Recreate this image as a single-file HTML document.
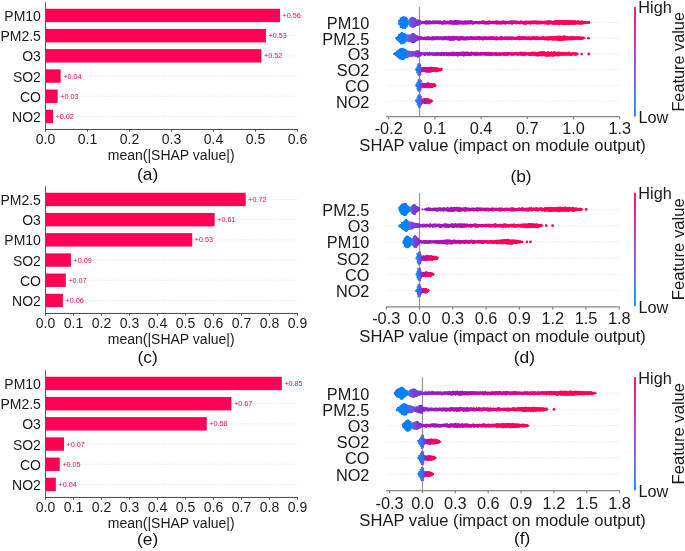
<!DOCTYPE html>
<html><head><meta charset="utf-8"><title>SHAP figure</title>
<style>html,body{margin:0;padding:0;background:#fff;width:685px;height:551px;overflow:hidden;}
svg text{font-family:"Liberation Sans", sans-serif;} svg{will-change:transform;}</style></head>
<body>
<svg width="685" height="551" viewBox="0 0 685 551" style="position:absolute;left:0;top:0" font-family='"Liberation Sans", sans-serif'><defs><linearGradient id="cb2" x1="0" y1="1" x2="0" y2="0"><stop offset="0" stop-color="#1e8cf8"/><stop offset="0.2" stop-color="#4a7cf0"/><stop offset="0.4" stop-color="#8a58dc"/><stop offset="0.6" stop-color="#b83cc0"/><stop offset="0.8" stop-color="#e0208f"/><stop offset="1" stop-color="#fa1460"/></linearGradient><linearGradient id="g3" gradientUnits="userSpaceOnUse" x1="398.6" y1="0" x2="590.5" y2="0"><stop offset="0.0000" stop-color="#0080ff"/><stop offset="0.0469" stop-color="#0080ff"/><stop offset="0.0521" stop-color="#4680f5"/><stop offset="0.0594" stop-color="#5a5feb"/><stop offset="0.0803" stop-color="#7642da"/><stop offset="0.1063" stop-color="#8730d0"/><stop offset="0.1324" stop-color="#961cc6"/><stop offset="0.2871" stop-color="#a810bc"/><stop offset="0.4653" stop-color="#c604a5"/><stop offset="0.5990" stop-color="#e10088"/><stop offset="0.7327" stop-color="#f70066"/><stop offset="0.8663" stop-color="#ff0056"/><stop offset="1.0000" stop-color="#ff0052"/></linearGradient><linearGradient id="g4" gradientUnits="userSpaceOnUse" x1="395.8" y1="0" x2="585.8" y2="0"><stop offset="0.0000" stop-color="#0080ff"/><stop offset="0.0526" stop-color="#0080ff"/><stop offset="0.0589" stop-color="#506ef0"/><stop offset="0.0747" stop-color="#6e4be1"/><stop offset="0.0958" stop-color="#7d3cd7"/><stop offset="0.1168" stop-color="#8c28cd"/><stop offset="0.1432" stop-color="#9e16c3"/><stop offset="0.2998" stop-color="#a810bc"/><stop offset="0.4748" stop-color="#c604a5"/><stop offset="0.6061" stop-color="#e10088"/><stop offset="0.7374" stop-color="#f70066"/><stop offset="0.8687" stop-color="#ff0056"/><stop offset="1.0000" stop-color="#ff0052"/></linearGradient><linearGradient id="g5" gradientUnits="userSpaceOnUse" x1="394.0" y1="0" x2="579.3" y2="0"><stop offset="0.0000" stop-color="#0080ff"/><stop offset="0.0637" stop-color="#0080ff"/><stop offset="0.0756" stop-color="#5a64eb"/><stop offset="0.0971" stop-color="#7346de"/><stop offset="0.1241" stop-color="#8732d2"/><stop offset="0.1511" stop-color="#961ec8"/><stop offset="0.3101" stop-color="#a810bc"/><stop offset="0.4826" stop-color="#c604a5"/><stop offset="0.6119" stop-color="#e10088"/><stop offset="0.7413" stop-color="#f70066"/><stop offset="0.8706" stop-color="#ff0056"/><stop offset="1.0000" stop-color="#ff0052"/></linearGradient><linearGradient id="g6" gradientUnits="userSpaceOnUse" x1="415.5" y1="0" x2="442.6" y2="0"><stop offset="0.0000" stop-color="#1480fa"/><stop offset="0.1328" stop-color="#1e7dfa"/><stop offset="0.2030" stop-color="#7d3ed7"/><stop offset="0.3026" stop-color="#af0fb4"/><stop offset="0.5352" stop-color="#e40082"/><stop offset="0.7042" stop-color="#fc005f"/><stop offset="1.0000" stop-color="#ff0052"/></linearGradient><linearGradient id="g7" gradientUnits="userSpaceOnUse" x1="415.7" y1="0" x2="436.8" y2="0"><stop offset="0.0000" stop-color="#1480fa"/><stop offset="0.1611" stop-color="#1e7dfa"/><stop offset="0.2512" stop-color="#7d3ed7"/><stop offset="0.3791" stop-color="#af0fb4"/><stop offset="0.5543" stop-color="#e40082"/><stop offset="0.7164" stop-color="#fc005f"/><stop offset="1.0000" stop-color="#ff0052"/></linearGradient><linearGradient id="g8" gradientUnits="userSpaceOnUse" x1="415.7" y1="0" x2="433.1" y2="0"><stop offset="0.0000" stop-color="#1480fa"/><stop offset="0.1954" stop-color="#1e7dfa"/><stop offset="0.3046" stop-color="#7d3ed7"/><stop offset="0.4598" stop-color="#af0fb4"/><stop offset="0.5764" stop-color="#e40082"/><stop offset="0.7305" stop-color="#fc005f"/><stop offset="1.0000" stop-color="#ff0052"/></linearGradient><linearGradient id="cb10" x1="0" y1="1" x2="0" y2="0"><stop offset="0" stop-color="#1e8cf8"/><stop offset="0.2" stop-color="#4a7cf0"/><stop offset="0.4" stop-color="#8a58dc"/><stop offset="0.6" stop-color="#b83cc0"/><stop offset="0.8" stop-color="#e0208f"/><stop offset="1" stop-color="#fa1460"/></linearGradient><linearGradient id="g11" gradientUnits="userSpaceOnUse" x1="398.8" y1="0" x2="420.3" y2="0"><stop offset="0.0000" stop-color="#0080ff"/><stop offset="0.4744" stop-color="#0080ff"/><stop offset="0.5349" stop-color="#4682f5"/><stop offset="0.6140" stop-color="#6450e4"/><stop offset="0.7070" stop-color="#7d3cd7"/><stop offset="0.8930" stop-color="#8732d2"/><stop offset="1.0000" stop-color="#8c2dce"/></linearGradient><linearGradient id="g12" gradientUnits="userSpaceOnUse" x1="424.6" y1="0" x2="583.5" y2="0"><stop offset="0.0000" stop-color="#9b19c3"/><stop offset="0.1743" stop-color="#a810bc"/><stop offset="0.3807" stop-color="#c604a5"/><stop offset="0.5356" stop-color="#e10088"/><stop offset="0.6904" stop-color="#f70066"/><stop offset="0.8452" stop-color="#ff0056"/><stop offset="1.0000" stop-color="#ff0052"/></linearGradient><linearGradient id="g13" gradientUnits="userSpaceOnUse" x1="398.8" y1="0" x2="543.6" y2="0"><stop offset="0.0000" stop-color="#0080ff"/><stop offset="0.0601" stop-color="#0080ff"/><stop offset="0.0704" stop-color="#506ef0"/><stop offset="0.0912" stop-color="#6e4be1"/><stop offset="0.1188" stop-color="#8237d4"/><stop offset="0.1464" stop-color="#961ec8"/><stop offset="0.3144" stop-color="#a810bc"/><stop offset="0.4858" stop-color="#c604a5"/><stop offset="0.6143" stop-color="#e10088"/><stop offset="0.7429" stop-color="#f70066"/><stop offset="0.8714" stop-color="#ff0056"/><stop offset="1.0000" stop-color="#ff0052"/></linearGradient><linearGradient id="g14" gradientUnits="userSpaceOnUse" x1="402.8" y1="0" x2="523.7" y2="0"><stop offset="0.0000" stop-color="#0080ff"/><stop offset="0.0678" stop-color="#0080ff"/><stop offset="0.0802" stop-color="#506ef0"/><stop offset="0.0968" stop-color="#7346de"/><stop offset="0.1175" stop-color="#8c2dcd"/><stop offset="0.1423" stop-color="#9b19c3"/><stop offset="0.3105" stop-color="#a810bc"/><stop offset="0.4829" stop-color="#c604a5"/><stop offset="0.6122" stop-color="#e10088"/><stop offset="0.7414" stop-color="#f70066"/><stop offset="0.8707" stop-color="#ff0056"/><stop offset="1.0000" stop-color="#ff0052"/></linearGradient><linearGradient id="g15" gradientUnits="userSpaceOnUse" x1="415.9" y1="0" x2="438.9" y2="0"><stop offset="0.0000" stop-color="#1480fa"/><stop offset="0.1304" stop-color="#1e7dfa"/><stop offset="0.2130" stop-color="#7d3ed7"/><stop offset="0.3304" stop-color="#af0fb4"/><stop offset="0.5361" stop-color="#e40082"/><stop offset="0.7048" stop-color="#fc005f"/><stop offset="1.0000" stop-color="#ff0052"/></linearGradient><linearGradient id="g16" gradientUnits="userSpaceOnUse" x1="415.7" y1="0" x2="434.7" y2="0"><stop offset="0.0000" stop-color="#1480fa"/><stop offset="0.1684" stop-color="#1e7dfa"/><stop offset="0.2684" stop-color="#7d3ed7"/><stop offset="0.4105" stop-color="#af0fb4"/><stop offset="0.5600" stop-color="#e40082"/><stop offset="0.7200" stop-color="#fc005f"/><stop offset="1.0000" stop-color="#ff0052"/></linearGradient><linearGradient id="g17" gradientUnits="userSpaceOnUse" x1="415.7" y1="0" x2="430.0" y2="0"><stop offset="0.0000" stop-color="#1480fa"/><stop offset="0.2238" stop-color="#1e7dfa"/><stop offset="0.3566" stop-color="#7d3ed7"/><stop offset="0.5455" stop-color="#af0fb4"/><stop offset="0.5962" stop-color="#e40082"/><stop offset="0.7430" stop-color="#fc005f"/><stop offset="1.0000" stop-color="#ff0052"/></linearGradient><linearGradient id="cb19" x1="0" y1="1" x2="0" y2="0"><stop offset="0" stop-color="#1e8cf8"/><stop offset="0.2" stop-color="#4a7cf0"/><stop offset="0.4" stop-color="#8a58dc"/><stop offset="0.6" stop-color="#b83cc0"/><stop offset="0.8" stop-color="#e0208f"/><stop offset="1" stop-color="#fa1460"/></linearGradient><linearGradient id="g20" gradientUnits="userSpaceOnUse" x1="394.2" y1="0" x2="596.7" y2="0"><stop offset="0.0000" stop-color="#0080ff"/><stop offset="0.0657" stop-color="#0080ff"/><stop offset="0.0706" stop-color="#3c78f0"/><stop offset="0.0780" stop-color="#555fe8"/><stop offset="0.1027" stop-color="#783cd7"/><stop offset="0.1225" stop-color="#8232d2"/><stop offset="0.1472" stop-color="#961ec8"/><stop offset="0.3118" stop-color="#a810bc"/><stop offset="0.4839" stop-color="#c604a5"/><stop offset="0.6129" stop-color="#e10088"/><stop offset="0.7419" stop-color="#f70066"/><stop offset="0.8710" stop-color="#ff0056"/><stop offset="1.0000" stop-color="#ff0052"/></linearGradient><linearGradient id="g21" gradientUnits="userSpaceOnUse" x1="396.3" y1="0" x2="548.8" y2="0"><stop offset="0.0000" stop-color="#0080ff"/><stop offset="0.0721" stop-color="#0080ff"/><stop offset="0.0800" stop-color="#555fe8"/><stop offset="0.1095" stop-color="#6455e4"/><stop offset="0.1292" stop-color="#783cd7"/><stop offset="0.1554" stop-color="#872dcd"/><stop offset="0.1816" stop-color="#961ec8"/><stop offset="0.3374" stop-color="#a810bc"/><stop offset="0.5031" stop-color="#c604a5"/><stop offset="0.6273" stop-color="#e10088"/><stop offset="0.7515" stop-color="#f70066"/><stop offset="0.8758" stop-color="#ff0056"/><stop offset="1.0000" stop-color="#ff0052"/></linearGradient><linearGradient id="g22" gradientUnits="userSpaceOnUse" x1="402.1" y1="0" x2="529.6" y2="0"><stop offset="0.0000" stop-color="#0080ff"/><stop offset="0.0698" stop-color="#0080ff"/><stop offset="0.0776" stop-color="#4673f0"/><stop offset="0.1012" stop-color="#6e4bde"/><stop offset="0.1325" stop-color="#8c2dcd"/><stop offset="0.1718" stop-color="#a50fbe"/><stop offset="0.3280" stop-color="#a810bc"/><stop offset="0.4960" stop-color="#c604a5"/><stop offset="0.6220" stop-color="#e10088"/><stop offset="0.7480" stop-color="#f70066"/><stop offset="0.8740" stop-color="#ff0056"/><stop offset="1.0000" stop-color="#ff0052"/></linearGradient><linearGradient id="g23" gradientUnits="userSpaceOnUse" x1="418.0" y1="0" x2="441.4" y2="0"><stop offset="0.0000" stop-color="#1480fa"/><stop offset="0.1667" stop-color="#1e7dfa"/><stop offset="0.2479" stop-color="#7d3ed7"/><stop offset="0.3632" stop-color="#af0fb4"/><stop offset="0.5558" stop-color="#e40082"/><stop offset="0.7173" stop-color="#fc005f"/><stop offset="1.0000" stop-color="#ff0052"/></linearGradient><linearGradient id="g24" gradientUnits="userSpaceOnUse" x1="418.0" y1="0" x2="436.7" y2="0"><stop offset="0.0000" stop-color="#1480fa"/><stop offset="0.2086" stop-color="#1e7dfa"/><stop offset="0.3102" stop-color="#7d3ed7"/><stop offset="0.4545" stop-color="#af0fb4"/><stop offset="0.5824" stop-color="#e40082"/><stop offset="0.7342" stop-color="#fc005f"/><stop offset="1.0000" stop-color="#ff0052"/></linearGradient><linearGradient id="g25" gradientUnits="userSpaceOnUse" x1="417.9" y1="0" x2="433.9" y2="0"><stop offset="0.0000" stop-color="#1480fa"/><stop offset="0.2500" stop-color="#1e7dfa"/><stop offset="0.3688" stop-color="#7d3ed7"/><stop offset="0.5375" stop-color="#af0fb4"/><stop offset="0.6081" stop-color="#e40082"/><stop offset="0.7506" stop-color="#fc005f"/><stop offset="1.0000" stop-color="#ff0052"/></linearGradient></defs><line x1="45.50" y1="15.45" x2="297.50" y2="15.45" stroke="#d4d4d4" stroke-width="0.8" stroke-dasharray="0.7 1.05"/>
<line x1="45.50" y1="35.65" x2="297.50" y2="35.65" stroke="#d4d4d4" stroke-width="0.8" stroke-dasharray="0.7 1.05"/>
<line x1="45.50" y1="55.85" x2="297.50" y2="55.85" stroke="#d4d4d4" stroke-width="0.8" stroke-dasharray="0.7 1.05"/>
<line x1="45.50" y1="76.05" x2="297.50" y2="76.05" stroke="#d4d4d4" stroke-width="0.8" stroke-dasharray="0.7 1.05"/>
<line x1="45.50" y1="96.25" x2="297.50" y2="96.25" stroke="#d4d4d4" stroke-width="0.8" stroke-dasharray="0.7 1.05"/>
<line x1="45.50" y1="116.45" x2="297.50" y2="116.45" stroke="#d4d4d4" stroke-width="0.8" stroke-dasharray="0.7 1.05"/>
<rect x="45.50" y="8.75" width="234.49" height="13.4" fill="#ff0052"/>
<text x="282.59" y="17.95" font-size="7.2" text-anchor="start" fill="#ff0052" >+0.56</text>
<text x="40.90" y="20.95" font-size="14" text-anchor="end" fill="#1a1a1a" >PM10</text>
<rect x="45.50" y="28.95" width="220.42" height="13.4" fill="#ff0052"/>
<text x="268.52" y="38.15" font-size="7.2" text-anchor="start" fill="#ff0052" >+0.53</text>
<text x="40.90" y="41.15" font-size="14" text-anchor="end" fill="#1a1a1a" >PM2.5</text>
<rect x="45.50" y="49.15" width="215.88" height="13.4" fill="#ff0052"/>
<text x="263.98" y="58.35" font-size="7.2" text-anchor="start" fill="#ff0052" >+0.52</text>
<text x="40.90" y="61.35" font-size="14" text-anchor="end" fill="#1a1a1a" >O3</text>
<rect x="45.50" y="69.35" width="15.12" height="13.4" fill="#ff0052"/>
<text x="63.22" y="78.55" font-size="7.2" text-anchor="start" fill="#ff0052" >+0.04</text>
<text x="40.90" y="81.55" font-size="14" text-anchor="end" fill="#1a1a1a" >SO2</text>
<rect x="45.50" y="89.55" width="12.18" height="13.4" fill="#ff0052"/>
<text x="60.28" y="98.75" font-size="7.2" text-anchor="start" fill="#ff0052" >+0.03</text>
<text x="40.90" y="101.75" font-size="14" text-anchor="end" fill="#1a1a1a" >CO</text>
<rect x="45.50" y="109.75" width="7.56" height="13.4" fill="#ff0052"/>
<text x="55.66" y="118.95" font-size="7.2" text-anchor="start" fill="#ff0052" >+0.02</text>
<text x="40.90" y="121.95" font-size="14" text-anchor="end" fill="#1a1a1a" >NO2</text>
<line x1="45.50" y1="2.20" x2="45.50" y2="129.95" stroke="#5a5a5a" stroke-width="1" />
<line x1="45.00" y1="129.45" x2="298.00" y2="129.45" stroke="#444" stroke-width="1" />
<line x1="45.50" y1="129.45" x2="45.50" y2="131.75" stroke="#444" stroke-width="0.9" />
<text x="45.50" y="143.65" font-size="14" text-anchor="middle" fill="#1a1a1a" >0.0</text>
<line x1="87.50" y1="129.45" x2="87.50" y2="131.75" stroke="#444" stroke-width="0.9" />
<text x="87.50" y="143.65" font-size="14" text-anchor="middle" fill="#1a1a1a" >0.1</text>
<line x1="129.50" y1="129.45" x2="129.50" y2="131.75" stroke="#444" stroke-width="0.9" />
<text x="129.50" y="143.65" font-size="14" text-anchor="middle" fill="#1a1a1a" >0.2</text>
<line x1="171.50" y1="129.45" x2="171.50" y2="131.75" stroke="#444" stroke-width="0.9" />
<text x="171.50" y="143.65" font-size="14" text-anchor="middle" fill="#1a1a1a" >0.3</text>
<line x1="213.50" y1="129.45" x2="213.50" y2="131.75" stroke="#444" stroke-width="0.9" />
<text x="213.50" y="143.65" font-size="14" text-anchor="middle" fill="#1a1a1a" >0.4</text>
<line x1="255.50" y1="129.45" x2="255.50" y2="131.75" stroke="#444" stroke-width="0.9" />
<text x="255.50" y="143.65" font-size="14" text-anchor="middle" fill="#1a1a1a" >0.5</text>
<line x1="297.50" y1="129.45" x2="297.50" y2="131.75" stroke="#444" stroke-width="0.9" />
<text x="297.50" y="143.65" font-size="14" text-anchor="middle" fill="#1a1a1a" >0.6</text>
<text x="171.20" y="159.65" font-size="14" text-anchor="middle" fill="#1a1a1a" >mean(|SHAP value|)</text>
<text transform="translate(147.70,179.95) scale(1.06,1.0)" font-size="16.4" text-anchor="middle" fill="#111" >(a)</text>
<line x1="45.50" y1="199.45" x2="297.50" y2="199.45" stroke="#d4d4d4" stroke-width="0.8" stroke-dasharray="0.7 1.05"/>
<line x1="45.50" y1="219.65" x2="297.50" y2="219.65" stroke="#d4d4d4" stroke-width="0.8" stroke-dasharray="0.7 1.05"/>
<line x1="45.50" y1="239.85" x2="297.50" y2="239.85" stroke="#d4d4d4" stroke-width="0.8" stroke-dasharray="0.7 1.05"/>
<line x1="45.50" y1="260.05" x2="297.50" y2="260.05" stroke="#d4d4d4" stroke-width="0.8" stroke-dasharray="0.7 1.05"/>
<line x1="45.50" y1="280.25" x2="297.50" y2="280.25" stroke="#d4d4d4" stroke-width="0.8" stroke-dasharray="0.7 1.05"/>
<line x1="45.50" y1="300.45" x2="297.50" y2="300.45" stroke="#d4d4d4" stroke-width="0.8" stroke-dasharray="0.7 1.05"/>
<rect x="45.50" y="192.75" width="200.20" height="13.4" fill="#ff0052"/>
<text x="248.30" y="201.95" font-size="7.2" text-anchor="start" fill="#ff0052" >+0.72</text>
<text x="40.90" y="204.95" font-size="14" text-anchor="end" fill="#1a1a1a" >PM2.5</text>
<rect x="45.50" y="212.95" width="169.12" height="13.4" fill="#ff0052"/>
<text x="217.22" y="222.15" font-size="7.2" text-anchor="start" fill="#ff0052" >+0.61</text>
<text x="40.90" y="225.15" font-size="14" text-anchor="end" fill="#1a1a1a" >O3</text>
<rect x="45.50" y="233.15" width="146.72" height="13.4" fill="#ff0052"/>
<text x="194.82" y="242.35" font-size="7.2" text-anchor="start" fill="#ff0052" >+0.53</text>
<text x="40.90" y="245.35" font-size="14" text-anchor="end" fill="#1a1a1a" >PM10</text>
<rect x="45.50" y="253.35" width="25.40" height="13.4" fill="#ff0052"/>
<text x="73.50" y="262.55" font-size="7.2" text-anchor="start" fill="#ff0052" >+0.09</text>
<text x="40.90" y="265.55" font-size="14" text-anchor="end" fill="#1a1a1a" >SO2</text>
<rect x="45.50" y="273.55" width="20.30" height="13.4" fill="#ff0052"/>
<text x="68.40" y="282.75" font-size="7.2" text-anchor="start" fill="#ff0052" >+0.07</text>
<text x="40.90" y="285.75" font-size="14" text-anchor="end" fill="#1a1a1a" >CO</text>
<rect x="45.50" y="293.75" width="17.36" height="13.4" fill="#ff0052"/>
<text x="65.46" y="302.95" font-size="7.2" text-anchor="start" fill="#ff0052" >+0.06</text>
<text x="40.90" y="305.95" font-size="14" text-anchor="end" fill="#1a1a1a" >NO2</text>
<line x1="45.50" y1="186.20" x2="45.50" y2="313.95" stroke="#5a5a5a" stroke-width="1" />
<line x1="45.00" y1="313.45" x2="298.00" y2="313.45" stroke="#444" stroke-width="1" />
<line x1="45.50" y1="313.45" x2="45.50" y2="315.75" stroke="#444" stroke-width="0.9" />
<text x="45.50" y="327.65" font-size="14" text-anchor="middle" fill="#1a1a1a" >0.0</text>
<line x1="73.50" y1="313.45" x2="73.50" y2="315.75" stroke="#444" stroke-width="0.9" />
<text x="73.50" y="327.65" font-size="14" text-anchor="middle" fill="#1a1a1a" >0.1</text>
<line x1="101.50" y1="313.45" x2="101.50" y2="315.75" stroke="#444" stroke-width="0.9" />
<text x="101.50" y="327.65" font-size="14" text-anchor="middle" fill="#1a1a1a" >0.2</text>
<line x1="129.50" y1="313.45" x2="129.50" y2="315.75" stroke="#444" stroke-width="0.9" />
<text x="129.50" y="327.65" font-size="14" text-anchor="middle" fill="#1a1a1a" >0.3</text>
<line x1="157.50" y1="313.45" x2="157.50" y2="315.75" stroke="#444" stroke-width="0.9" />
<text x="157.50" y="327.65" font-size="14" text-anchor="middle" fill="#1a1a1a" >0.4</text>
<line x1="185.50" y1="313.45" x2="185.50" y2="315.75" stroke="#444" stroke-width="0.9" />
<text x="185.50" y="327.65" font-size="14" text-anchor="middle" fill="#1a1a1a" >0.5</text>
<line x1="213.50" y1="313.45" x2="213.50" y2="315.75" stroke="#444" stroke-width="0.9" />
<text x="213.50" y="327.65" font-size="14" text-anchor="middle" fill="#1a1a1a" >0.6</text>
<line x1="241.50" y1="313.45" x2="241.50" y2="315.75" stroke="#444" stroke-width="0.9" />
<text x="241.50" y="327.65" font-size="14" text-anchor="middle" fill="#1a1a1a" >0.7</text>
<line x1="269.50" y1="313.45" x2="269.50" y2="315.75" stroke="#444" stroke-width="0.9" />
<text x="269.50" y="327.65" font-size="14" text-anchor="middle" fill="#1a1a1a" >0.8</text>
<line x1="297.50" y1="313.45" x2="297.50" y2="315.75" stroke="#444" stroke-width="0.9" />
<text x="297.50" y="327.65" font-size="14" text-anchor="middle" fill="#1a1a1a" >0.9</text>
<text x="171.20" y="343.95" font-size="14" text-anchor="middle" fill="#1a1a1a" >mean(|SHAP value|)</text>
<text transform="translate(147.70,363.15) scale(1.06,1.0)" font-size="16.4" text-anchor="middle" fill="#111" >(c)</text>
<line x1="45.50" y1="383.45" x2="297.50" y2="383.45" stroke="#d4d4d4" stroke-width="0.8" stroke-dasharray="0.7 1.05"/>
<line x1="45.50" y1="403.65" x2="297.50" y2="403.65" stroke="#d4d4d4" stroke-width="0.8" stroke-dasharray="0.7 1.05"/>
<line x1="45.50" y1="423.85" x2="297.50" y2="423.85" stroke="#d4d4d4" stroke-width="0.8" stroke-dasharray="0.7 1.05"/>
<line x1="45.50" y1="444.05" x2="297.50" y2="444.05" stroke="#d4d4d4" stroke-width="0.8" stroke-dasharray="0.7 1.05"/>
<line x1="45.50" y1="464.25" x2="297.50" y2="464.25" stroke="#d4d4d4" stroke-width="0.8" stroke-dasharray="0.7 1.05"/>
<line x1="45.50" y1="484.45" x2="297.50" y2="484.45" stroke="#d4d4d4" stroke-width="0.8" stroke-dasharray="0.7 1.05"/>
<rect x="45.50" y="376.75" width="236.32" height="13.4" fill="#ff0052"/>
<text x="284.42" y="385.95" font-size="7.2" text-anchor="start" fill="#ff0052" >+0.85</text>
<text x="40.90" y="388.95" font-size="14" text-anchor="end" fill="#1a1a1a" >PM10</text>
<rect x="45.50" y="396.95" width="185.92" height="13.4" fill="#ff0052"/>
<text x="234.02" y="406.15" font-size="7.2" text-anchor="start" fill="#ff0052" >+0.67</text>
<text x="40.90" y="409.15" font-size="14" text-anchor="end" fill="#1a1a1a" >PM2.5</text>
<rect x="45.50" y="417.15" width="161.28" height="13.4" fill="#ff0052"/>
<text x="209.38" y="426.35" font-size="7.2" text-anchor="start" fill="#ff0052" >+0.58</text>
<text x="40.90" y="429.35" font-size="14" text-anchor="end" fill="#1a1a1a" >O3</text>
<rect x="45.50" y="437.35" width="18.48" height="13.4" fill="#ff0052"/>
<text x="66.58" y="446.55" font-size="7.2" text-anchor="start" fill="#ff0052" >+0.07</text>
<text x="40.90" y="449.55" font-size="14" text-anchor="end" fill="#1a1a1a" >SO2</text>
<rect x="45.50" y="457.55" width="14.28" height="13.4" fill="#ff0052"/>
<text x="62.38" y="466.75" font-size="7.2" text-anchor="start" fill="#ff0052" >+0.05</text>
<text x="40.90" y="469.75" font-size="14" text-anchor="end" fill="#1a1a1a" >CO</text>
<rect x="45.50" y="477.75" width="10.36" height="13.4" fill="#ff0052"/>
<text x="58.46" y="486.95" font-size="7.2" text-anchor="start" fill="#ff0052" >+0.04</text>
<text x="40.90" y="489.95" font-size="14" text-anchor="end" fill="#1a1a1a" >NO2</text>
<line x1="45.50" y1="370.20" x2="45.50" y2="497.95" stroke="#5a5a5a" stroke-width="1" />
<line x1="45.00" y1="497.45" x2="298.00" y2="497.45" stroke="#444" stroke-width="1" />
<line x1="45.50" y1="497.45" x2="45.50" y2="499.75" stroke="#444" stroke-width="0.9" />
<text x="45.50" y="511.65" font-size="14" text-anchor="middle" fill="#1a1a1a" >0.0</text>
<line x1="73.50" y1="497.45" x2="73.50" y2="499.75" stroke="#444" stroke-width="0.9" />
<text x="73.50" y="511.65" font-size="14" text-anchor="middle" fill="#1a1a1a" >0.1</text>
<line x1="101.50" y1="497.45" x2="101.50" y2="499.75" stroke="#444" stroke-width="0.9" />
<text x="101.50" y="511.65" font-size="14" text-anchor="middle" fill="#1a1a1a" >0.2</text>
<line x1="129.50" y1="497.45" x2="129.50" y2="499.75" stroke="#444" stroke-width="0.9" />
<text x="129.50" y="511.65" font-size="14" text-anchor="middle" fill="#1a1a1a" >0.3</text>
<line x1="157.50" y1="497.45" x2="157.50" y2="499.75" stroke="#444" stroke-width="0.9" />
<text x="157.50" y="511.65" font-size="14" text-anchor="middle" fill="#1a1a1a" >0.4</text>
<line x1="185.50" y1="497.45" x2="185.50" y2="499.75" stroke="#444" stroke-width="0.9" />
<text x="185.50" y="511.65" font-size="14" text-anchor="middle" fill="#1a1a1a" >0.5</text>
<line x1="213.50" y1="497.45" x2="213.50" y2="499.75" stroke="#444" stroke-width="0.9" />
<text x="213.50" y="511.65" font-size="14" text-anchor="middle" fill="#1a1a1a" >0.6</text>
<line x1="241.50" y1="497.45" x2="241.50" y2="499.75" stroke="#444" stroke-width="0.9" />
<text x="241.50" y="511.65" font-size="14" text-anchor="middle" fill="#1a1a1a" >0.7</text>
<line x1="269.50" y1="497.45" x2="269.50" y2="499.75" stroke="#444" stroke-width="0.9" />
<text x="269.50" y="511.65" font-size="14" text-anchor="middle" fill="#1a1a1a" >0.8</text>
<line x1="297.50" y1="497.45" x2="297.50" y2="499.75" stroke="#444" stroke-width="0.9" />
<text x="297.50" y="511.65" font-size="14" text-anchor="middle" fill="#1a1a1a" >0.9</text>
<text x="171.20" y="528.15" font-size="14" text-anchor="middle" fill="#1a1a1a" >mean(|SHAP value|)</text>
<text transform="translate(147.70,545.35) scale(1.06,1.0)" font-size="16.4" text-anchor="middle" fill="#111" >(e)</text>
<line x1="386.00" y1="22.50" x2="619.50" y2="22.50" stroke="#dadada" stroke-width="0.8" stroke-dasharray="0.7 1.05"/>
<line x1="386.00" y1="38.22" x2="619.50" y2="38.22" stroke="#dadada" stroke-width="0.8" stroke-dasharray="0.7 1.05"/>
<line x1="386.00" y1="53.94" x2="619.50" y2="53.94" stroke="#dadada" stroke-width="0.8" stroke-dasharray="0.7 1.05"/>
<line x1="386.00" y1="69.66" x2="619.50" y2="69.66" stroke="#dadada" stroke-width="0.8" stroke-dasharray="0.7 1.05"/>
<line x1="386.00" y1="85.38" x2="619.50" y2="85.38" stroke="#dadada" stroke-width="0.8" stroke-dasharray="0.7 1.05"/>
<line x1="386.00" y1="101.10" x2="619.50" y2="101.10" stroke="#dadada" stroke-width="0.8" stroke-dasharray="0.7 1.05"/>
<line x1="419.50" y1="7.00" x2="419.50" y2="116.60" stroke="#999" stroke-width="1.25" />
<line x1="386.00" y1="116.60" x2="619.80" y2="116.60" stroke="#858585" stroke-width="1.35" />
<line x1="388.70" y1="116.60" x2="388.70" y2="119.20" stroke="#858585" stroke-width="1.2" />
<text x="388.70" y="133.60" font-size="16.3" text-anchor="middle" fill="#1a1a1a" >-0.2</text>
<line x1="434.90" y1="116.60" x2="434.90" y2="119.20" stroke="#858585" stroke-width="1.2" />
<text x="434.90" y="133.60" font-size="16.3" text-anchor="middle" fill="#1a1a1a" >0.1</text>
<line x1="481.10" y1="116.60" x2="481.10" y2="119.20" stroke="#858585" stroke-width="1.2" />
<text x="481.10" y="133.60" font-size="16.3" text-anchor="middle" fill="#1a1a1a" >0.4</text>
<line x1="527.30" y1="116.60" x2="527.30" y2="119.20" stroke="#858585" stroke-width="1.2" />
<text x="527.30" y="133.60" font-size="16.3" text-anchor="middle" fill="#1a1a1a" >0.7</text>
<line x1="573.50" y1="116.60" x2="573.50" y2="119.20" stroke="#858585" stroke-width="1.2" />
<text x="573.50" y="133.60" font-size="16.3" text-anchor="middle" fill="#1a1a1a" >1.0</text>
<line x1="619.70" y1="116.60" x2="619.70" y2="119.20" stroke="#858585" stroke-width="1.2" />
<text x="619.70" y="133.60" font-size="16.3" text-anchor="middle" fill="#1a1a1a" >1.3</text>
<text x="369.40" y="29.00" font-size="16.3" text-anchor="end" fill="#1a1a1a" >PM10</text>
<text x="369.40" y="44.72" font-size="16.3" text-anchor="end" fill="#1a1a1a" >PM2.5</text>
<text x="369.40" y="60.44" font-size="16.3" text-anchor="end" fill="#1a1a1a" >O3</text>
<text x="369.40" y="76.16" font-size="16.3" text-anchor="end" fill="#1a1a1a" >SO2</text>
<text x="369.40" y="91.88" font-size="16.3" text-anchor="end" fill="#1a1a1a" >CO</text>
<text x="369.40" y="107.60" font-size="16.3" text-anchor="end" fill="#1a1a1a" >NO2</text>
<rect x="634" y="7.00" width="1.9" height="109.50" fill="url(#cb2)"/>
<text x="638.30" y="12.70" font-size="16.3" text-anchor="start" fill="#1a1a1a" >High</text>
<text x="638.50" y="122.90" font-size="16.3" text-anchor="start" fill="#1a1a1a" >Low</text>
<text transform="translate(683.6,61.80) rotate(-90)" font-size="16.3" text-anchor="middle" fill="#1a1a1a">Feature value</text>
<text transform="translate(502.60,151.20) scale(1.019,1.0)" font-size="16.3" text-anchor="middle" fill="#1a1a1a" >SHAP value (impact on module output)</text>
<text transform="translate(521.00,182.00) scale(1.06,1.0)" font-size="16.4" text-anchor="middle" fill="#111" >(b)</text>
<path d="M398.60,22.50C398.60,21.32 399.40,19.76 399.80,18.89C400.20,18.02 400.60,17.63 401.00,17.28C401.40,16.92 401.80,16.85 402.20,16.77C402.60,16.70 403.00,16.80 403.40,16.81C403.80,16.82 404.20,16.78 404.60,16.82C405.00,16.87 405.40,16.88 405.80,17.10C406.20,17.33 406.60,17.66 407.00,18.17C407.40,18.67 407.80,19.97 408.20,20.13C408.60,20.29 409.00,19.50 409.40,19.12C409.80,18.74 410.20,18.26 410.60,17.88C411.00,17.49 411.40,16.98 411.80,16.82C412.20,16.65 412.60,16.70 413.00,16.90C413.40,17.10 413.80,17.71 414.20,18.04C414.60,18.37 415.00,18.61 415.40,18.86C415.80,19.12 416.20,19.46 416.60,19.55C417.00,19.64 417.40,19.39 417.80,19.41C418.20,19.44 418.60,19.46 419.00,19.72C419.40,19.97 419.80,20.73 420.20,20.94C420.60,21.15 421.00,20.90 421.40,20.96C421.80,21.03 422.20,21.29 422.60,21.31C423.00,21.33 423.40,21.18 423.80,21.07C424.20,20.97 424.60,20.69 425.00,20.69C425.40,20.69 425.80,21.05 426.20,21.08C426.60,21.11 427.00,20.94 427.40,20.88C427.80,20.83 428.20,20.79 428.60,20.74C429.00,20.69 429.40,20.53 429.80,20.56C430.20,20.60 430.60,20.86 431.00,20.96C431.40,21.05 431.80,21.10 432.20,21.14C432.60,21.19 433.00,21.29 433.40,21.22C433.80,21.15 434.20,20.81 434.60,20.71C435.00,20.62 435.40,20.63 435.80,20.64C436.20,20.65 436.60,20.73 437.00,20.76C437.40,20.79 437.80,20.84 438.20,20.82C438.60,20.79 439.00,20.61 439.40,20.61C439.80,20.62 440.20,20.76 440.60,20.84C441.00,20.93 441.40,21.14 441.80,21.11C442.20,21.08 442.60,20.77 443.00,20.67C443.40,20.57 443.80,20.49 444.20,20.51C444.60,20.53 445.00,20.70 445.40,20.78C445.80,20.86 446.20,20.98 446.60,20.99C447.00,21.00 447.40,20.87 447.80,20.85C448.20,20.83 448.60,20.89 449.00,20.89C449.40,20.88 449.80,20.86 450.20,20.82C450.60,20.78 451.00,20.62 451.40,20.62C451.80,20.62 452.20,20.85 452.60,20.82C453.00,20.80 453.40,20.57 453.80,20.48C454.20,20.39 454.60,20.24 455.00,20.28C455.40,20.31 455.80,20.61 456.20,20.67C456.60,20.73 457.00,20.70 457.40,20.63C457.80,20.56 458.20,20.20 458.60,20.23C459.00,20.25 459.40,20.70 459.80,20.79C460.20,20.88 460.60,20.80 461.00,20.76C461.40,20.72 461.80,20.51 462.20,20.55C462.60,20.59 463.00,20.96 463.40,21.00C463.80,21.04 464.20,20.89 464.60,20.79C465.00,20.69 465.40,20.42 465.80,20.42C466.20,20.42 466.60,20.72 467.00,20.77C467.40,20.81 467.80,20.71 468.20,20.68C468.60,20.64 469.00,20.56 469.40,20.55C469.80,20.53 470.20,20.52 470.60,20.59C471.00,20.66 471.40,20.85 471.80,20.95C472.20,21.05 472.60,21.13 473.00,21.18C473.40,21.22 473.80,21.22 474.20,21.21C474.60,21.19 475.00,21.14 475.40,21.10C475.80,21.07 476.20,20.99 476.60,21.01C477.00,21.04 477.40,21.22 477.80,21.25C478.20,21.28 478.60,21.18 479.00,21.18C479.40,21.18 479.80,21.29 480.20,21.23C480.60,21.17 481.00,20.85 481.40,20.82C481.80,20.79 482.20,21.04 482.60,21.07C483.00,21.10 483.40,21.06 483.80,21.00C484.20,20.93 484.60,20.67 485.00,20.66C485.40,20.64 485.80,20.83 486.20,20.92C486.60,21.01 487.00,21.18 487.40,21.19C487.80,21.20 488.20,21.10 488.60,21.01C489.00,20.92 489.40,20.63 489.80,20.67C490.20,20.71 490.60,21.20 491.00,21.23C491.40,21.27 491.80,20.94 492.20,20.88C492.60,20.82 493.00,20.87 493.40,20.87C493.80,20.87 494.20,20.92 494.60,20.88C495.00,20.84 495.40,20.61 495.80,20.65C496.20,20.68 496.60,20.99 497.00,21.07C497.40,21.15 497.80,21.16 498.20,21.13C498.60,21.10 499.00,20.90 499.40,20.88C499.80,20.86 500.20,21.05 500.60,21.02C501.00,20.99 501.40,20.74 501.80,20.68C502.20,20.62 502.60,20.65 503.00,20.65C503.40,20.65 503.80,20.60 504.20,20.68C504.60,20.75 505.00,21.04 505.40,21.09C505.80,21.15 506.20,20.98 506.60,21.00C507.00,21.02 507.40,21.22 507.80,21.23C508.20,21.24 508.60,21.18 509.00,21.07C509.40,20.96 509.80,20.66 510.20,20.58C510.60,20.50 511.00,20.59 511.40,20.59C511.80,20.59 512.20,20.50 512.60,20.58C513.00,20.67 513.40,21.01 513.80,21.10C514.20,21.18 514.60,21.16 515.00,21.11C515.40,21.07 515.80,20.89 516.20,20.81C516.60,20.74 517.00,20.67 517.40,20.66C517.80,20.66 518.20,20.70 518.60,20.79C519.00,20.88 519.40,21.22 519.80,21.19C520.20,21.16 520.60,20.69 521.00,20.61C521.40,20.54 521.80,20.64 522.20,20.72C522.60,20.81 523.00,21.08 523.40,21.13C523.80,21.17 524.20,21.11 524.60,21.02C525.00,20.92 525.40,20.58 525.80,20.57C526.20,20.56 526.60,20.94 527.00,20.97C527.40,21.00 527.80,20.71 528.20,20.74C528.60,20.77 529.00,21.18 529.40,21.16C529.80,21.14 530.20,20.62 530.60,20.62C531.00,20.61 531.40,21.16 531.80,21.15C532.20,21.14 532.60,20.59 533.00,20.56C533.40,20.54 533.80,20.91 534.20,21.00C534.60,21.10 535.00,21.23 535.40,21.16C535.80,21.09 536.20,20.62 536.60,20.57C537.00,20.52 537.40,20.82 537.80,20.88C538.20,20.94 538.60,20.98 539.00,20.95C539.40,20.91 539.80,20.65 540.20,20.67C540.60,20.69 541.00,21.01 541.40,21.07C541.80,21.14 542.20,21.08 542.60,21.08C543.00,21.08 543.40,21.06 543.80,21.07C544.20,21.08 544.60,21.18 545.00,21.16C545.40,21.14 545.80,21.03 546.20,20.96C546.60,20.90 547.00,20.79 547.40,20.77C547.80,20.74 548.20,20.84 548.60,20.84C549.00,20.84 549.40,20.77 549.80,20.75C550.20,20.72 550.60,20.70 551.00,20.69C551.40,20.68 551.80,20.65 552.20,20.69C552.60,20.72 553.00,20.92 553.40,20.93C553.80,20.93 554.20,20.85 554.60,20.74C555.00,20.64 555.40,20.33 555.80,20.29C556.20,20.25 556.60,20.50 557.00,20.50C557.40,20.51 557.80,20.30 558.20,20.31C558.60,20.32 559.00,20.57 559.40,20.59C559.80,20.61 560.20,20.55 560.60,20.46C561.00,20.37 561.40,20.10 561.80,20.06C562.20,20.01 562.60,20.19 563.00,20.17C563.40,20.15 563.80,19.93 564.20,19.93C564.60,19.93 565.00,20.10 565.40,20.15C565.80,20.20 566.20,20.20 566.60,20.22C567.00,20.25 567.40,20.27 567.80,20.27C568.20,20.28 568.60,20.28 569.00,20.26C569.40,20.24 569.80,20.19 570.20,20.15C570.60,20.12 571.00,20.00 571.40,20.03C571.80,20.06 572.20,20.32 572.60,20.34C573.00,20.37 573.40,20.13 573.80,20.19C574.20,20.26 574.60,20.63 575.00,20.74C575.40,20.85 575.80,20.82 576.20,20.85C576.60,20.88 577.00,20.98 577.40,20.92C577.80,20.86 578.20,20.48 578.60,20.49C579.00,20.51 579.40,20.97 579.80,21.01C580.20,21.04 580.60,20.79 581.00,20.72C581.40,20.66 581.80,20.56 582.20,20.63C582.60,20.71 583.00,21.09 583.40,21.17C583.80,21.25 584.20,21.18 584.60,21.11C585.00,21.04 585.40,20.71 585.80,20.76C586.20,20.81 586.60,21.31 587.00,21.41C587.40,21.50 587.80,21.27 588.20,21.33C588.60,21.39 589.02,21.60 589.40,21.79C589.78,21.99 590.50,22.25 590.50,22.50C590.50,22.75 589.78,23.12 589.40,23.29C589.02,23.47 588.60,23.47 588.20,23.55C587.80,23.63 587.40,23.68 587.00,23.78C586.60,23.88 586.20,24.10 585.80,24.13C585.40,24.16 585.00,23.92 584.60,23.95C584.20,23.99 583.80,24.27 583.40,24.35C583.00,24.43 582.60,24.50 582.20,24.42C581.80,24.35 581.40,23.92 581.00,23.91C580.60,23.91 580.20,24.28 579.80,24.39C579.40,24.50 579.00,24.57 578.60,24.59C578.20,24.60 577.80,24.55 577.40,24.50C577.00,24.44 576.60,24.27 576.20,24.27C575.80,24.27 575.40,24.47 575.00,24.48C574.60,24.49 574.20,24.24 573.80,24.31C573.40,24.39 573.00,24.89 572.60,24.92C572.20,24.95 571.80,24.48 571.40,24.49C571.00,24.50 570.60,24.88 570.20,24.97C569.80,25.07 569.40,25.09 569.00,25.06C568.60,25.03 568.20,24.81 567.80,24.78C567.40,24.76 567.00,24.90 566.60,24.90C566.20,24.90 565.80,24.80 565.40,24.78C565.00,24.75 564.60,24.71 564.20,24.74C563.80,24.77 563.40,24.97 563.00,24.97C562.60,24.97 562.20,24.83 561.80,24.76C561.40,24.69 561.00,24.57 560.60,24.56C560.20,24.56 559.80,24.68 559.40,24.73C559.00,24.78 558.60,24.87 558.20,24.85C557.80,24.83 557.40,24.67 557.00,24.63C556.60,24.59 556.20,24.62 555.80,24.59C555.40,24.56 555.00,24.46 554.60,24.47C554.20,24.48 553.80,24.69 553.40,24.63C553.00,24.58 552.60,24.25 552.20,24.13C551.80,24.02 551.40,23.93 551.00,23.95C550.60,23.98 550.20,24.18 549.80,24.28C549.40,24.37 549.00,24.48 548.60,24.51C548.20,24.54 547.80,24.53 547.40,24.46C547.00,24.39 546.60,24.12 546.20,24.11C545.80,24.10 545.40,24.40 545.00,24.39C544.60,24.38 544.20,24.08 543.80,24.04C543.40,24.01 543.00,24.18 542.60,24.16C542.20,24.15 541.80,24.00 541.40,23.96C541.00,23.91 540.60,23.83 540.20,23.90C539.80,23.97 539.40,24.28 539.00,24.36C538.60,24.44 538.20,24.43 537.80,24.40C537.40,24.38 537.00,24.31 536.60,24.20C536.20,24.10 535.80,23.77 535.40,23.76C535.00,23.75 534.60,24.06 534.20,24.13C533.80,24.21 533.40,24.18 533.00,24.21C532.60,24.24 532.20,24.31 531.80,24.33C531.40,24.35 531.00,24.39 530.60,24.31C530.20,24.24 529.80,23.93 529.40,23.86C529.00,23.78 528.60,23.78 528.20,23.87C527.80,23.96 527.40,24.39 527.00,24.41C526.60,24.44 526.20,24.04 525.80,24.03C525.40,24.01 525.00,24.26 524.60,24.31C524.20,24.36 523.80,24.34 523.40,24.30C523.00,24.26 522.60,24.09 522.20,24.08C521.80,24.08 521.40,24.28 521.00,24.30C520.60,24.32 520.20,24.21 519.80,24.21C519.40,24.21 519.00,24.33 518.60,24.31C518.20,24.29 517.80,24.07 517.40,24.09C517.00,24.10 516.60,24.41 516.20,24.38C515.80,24.35 515.40,23.97 515.00,23.89C514.60,23.81 514.20,23.89 513.80,23.91C513.40,23.93 513.00,23.92 512.60,24.01C512.20,24.09 511.80,24.43 511.40,24.44C511.00,24.45 510.60,24.10 510.20,24.06C509.80,24.03 509.40,24.25 509.00,24.23C508.60,24.22 508.20,24.02 507.80,23.95C507.40,23.87 507.00,23.74 506.60,23.77C506.20,23.80 505.80,24.03 505.40,24.11C505.00,24.20 504.60,24.23 504.20,24.27C503.80,24.30 503.40,24.29 503.00,24.31C502.60,24.34 502.20,24.51 501.80,24.44C501.40,24.37 501.00,23.93 500.60,23.91C500.20,23.88 499.80,24.23 499.40,24.30C499.00,24.36 498.60,24.34 498.20,24.29C497.80,24.24 497.40,24.02 497.00,24.01C496.60,24.00 496.20,24.17 495.80,24.24C495.40,24.31 495.00,24.51 494.60,24.43C494.20,24.36 493.80,23.87 493.40,23.77C493.00,23.67 492.60,23.74 492.20,23.85C491.80,23.96 491.40,24.41 491.00,24.42C490.60,24.42 490.20,23.94 489.80,23.86C489.40,23.78 489.00,23.94 488.60,23.94C488.20,23.93 487.80,23.80 487.40,23.82C487.00,23.85 486.60,23.98 486.20,24.09C485.80,24.19 485.40,24.49 485.00,24.45C484.60,24.40 484.20,23.91 483.80,23.84C483.40,23.76 483.00,23.99 482.60,23.99C482.20,24.00 481.80,23.79 481.40,23.85C481.00,23.92 480.60,24.34 480.20,24.36C479.80,24.39 479.40,24.09 479.00,24.00C478.60,23.92 478.20,23.89 477.80,23.86C477.40,23.82 477.00,23.79 476.60,23.79C476.20,23.79 475.80,23.86 475.40,23.86C475.00,23.87 474.60,23.74 474.20,23.80C473.80,23.85 473.40,24.15 473.00,24.19C472.60,24.24 472.20,24.03 471.80,24.05C471.40,24.08 471.00,24.31 470.60,24.36C470.20,24.41 469.80,24.45 469.40,24.37C469.00,24.29 468.60,23.90 468.20,23.89C467.80,23.88 467.40,24.22 467.00,24.31C466.60,24.39 466.20,24.39 465.80,24.40C465.40,24.40 465.00,24.37 464.60,24.35C464.20,24.33 463.80,24.31 463.40,24.29C463.00,24.26 462.60,24.20 462.20,24.22C461.80,24.24 461.40,24.41 461.00,24.41C460.60,24.42 460.20,24.29 459.80,24.25C459.40,24.22 459.00,24.13 458.60,24.21C458.20,24.29 457.80,24.70 457.40,24.74C457.00,24.77 456.60,24.42 456.20,24.43C455.80,24.43 455.40,24.70 455.00,24.75C454.60,24.81 454.20,24.81 453.80,24.75C453.40,24.70 453.00,24.44 452.60,24.43C452.20,24.43 451.80,24.74 451.40,24.71C451.00,24.69 450.60,24.28 450.20,24.26C449.80,24.25 449.40,24.64 449.00,24.61C448.60,24.59 448.20,24.16 447.80,24.12C447.40,24.07 447.00,24.27 446.60,24.32C446.20,24.37 445.80,24.46 445.40,24.42C445.00,24.39 444.60,24.09 444.20,24.11C443.80,24.14 443.40,24.53 443.00,24.57C442.60,24.61 442.20,24.39 441.80,24.34C441.40,24.29 441.00,24.27 440.60,24.29C440.20,24.31 439.80,24.49 439.40,24.46C439.00,24.43 438.60,24.14 438.20,24.09C437.80,24.04 437.40,24.19 437.00,24.17C436.60,24.15 436.20,23.97 435.80,23.97C435.40,23.97 435.00,24.11 434.60,24.15C434.20,24.19 433.80,24.23 433.40,24.22C433.00,24.21 432.60,24.08 432.20,24.09C431.80,24.10 431.40,24.32 431.00,24.28C430.60,24.24 430.20,23.89 429.80,23.83C429.40,23.78 429.00,23.86 428.60,23.95C428.20,24.04 427.80,24.33 427.40,24.36C427.00,24.40 426.60,24.17 426.20,24.15C425.80,24.13 425.40,24.29 425.00,24.24C424.60,24.18 424.20,23.88 423.80,23.82C423.40,23.76 423.00,23.87 422.60,23.88C422.20,23.89 421.80,23.81 421.40,23.86C421.00,23.91 420.60,23.98 420.20,24.16C419.80,24.34 419.40,24.74 419.00,24.94C418.60,25.15 418.20,25.27 417.80,25.40C417.40,25.53 417.00,25.55 416.60,25.73C416.20,25.91 415.80,26.29 415.40,26.49C415.00,26.69 414.60,26.74 414.20,26.94C413.80,27.14 413.40,27.60 413.00,27.70C412.60,27.80 412.20,27.65 411.80,27.53C411.40,27.42 411.00,27.24 410.60,27.00C410.20,26.76 409.80,26.45 409.40,26.10C409.00,25.76 408.60,24.77 408.20,24.94C407.80,25.10 407.40,26.62 407.00,27.11C406.60,27.61 406.20,27.69 405.80,27.91C405.40,28.14 405.00,28.35 404.60,28.45C404.20,28.55 403.80,28.56 403.40,28.51C403.00,28.45 402.60,28.30 402.20,28.11C401.80,27.91 401.40,27.67 401.00,27.32C400.60,26.96 400.20,26.79 399.80,25.99C399.40,25.18 398.60,23.68 398.60,22.50Z" fill="url(#g3)"/>
<g fill="url(#g3)"><circle cx="398.9" cy="20.9" r="1.05"/><circle cx="398.9" cy="24.0" r="0.95"/><circle cx="400.5" cy="18.8" r="1.02"/><circle cx="400.7" cy="27.0" r="1.14"/><circle cx="401.6" cy="18.1" r="0.84"/><circle cx="401.6" cy="26.9" r="1.07"/><circle cx="403.4" cy="17.0" r="0.95"/><circle cx="402.9" cy="28.2" r="0.89"/><circle cx="404.5" cy="17.6" r="1.00"/><circle cx="404.5" cy="27.9" r="0.82"/><circle cx="406.0" cy="17.3" r="0.83"/><circle cx="405.4" cy="27.8" r="1.08"/><circle cx="407.3" cy="18.8" r="0.82"/><circle cx="407.0" cy="26.6" r="0.92"/><circle cx="408.0" cy="20.7" r="0.89"/><circle cx="408.0" cy="24.0" r="0.88"/><circle cx="409.4" cy="19.8" r="0.82"/><circle cx="409.8" cy="25.1" r="0.91"/><circle cx="410.7" cy="18.6" r="0.98"/><circle cx="410.7" cy="26.2" r="0.81"/><circle cx="412.2" cy="18.3" r="1.06"/><circle cx="412.5" cy="26.7" r="0.97"/><circle cx="413.5" cy="18.2" r="1.09"/><circle cx="413.4" cy="26.8" r="1.09"/><circle cx="415.1" cy="19.1" r="1.04"/><circle cx="414.9" cy="26.1" r="1.09"/><circle cx="416.0" cy="20.4" r="0.94"/><circle cx="415.8" cy="25.3" r="0.85"/><circle cx="417.2" cy="20.5" r="0.89"/><circle cx="417.7" cy="24.9" r="1.09"/><circle cx="418.5" cy="20.6" r="0.90"/><circle cx="418.5" cy="24.5" r="0.96"/><circle cx="420.3" cy="20.7" r="0.89"/><circle cx="419.8" cy="24.2" r="0.99"/><circle cx="421.2" cy="22.2" r="0.91"/><circle cx="421.3" cy="23.2" r="0.93"/><circle cx="422.6" cy="22.3" r="0.87"/><circle cx="422.3" cy="23.0" r="0.89"/><circle cx="423.6" cy="21.8" r="0.81"/><circle cx="424.0" cy="23.3" r="0.88"/><circle cx="425.3" cy="21.5" r="1.06"/><circle cx="425.1" cy="23.1" r="1.11"/><circle cx="426.3" cy="21.5" r="1.14"/><circle cx="426.2" cy="23.7" r="1.03"/><circle cx="427.9" cy="21.5" r="1.11"/><circle cx="427.5" cy="23.3" r="1.08"/><circle cx="429.3" cy="21.3" r="0.98"/><circle cx="429.2" cy="23.7" r="1.09"/><circle cx="430.5" cy="21.9" r="1.04"/><circle cx="430.1" cy="23.3" r="0.81"/><circle cx="431.9" cy="21.5" r="0.84"/><circle cx="431.8" cy="23.5" r="1.02"/><circle cx="432.7" cy="21.3" r="0.97"/><circle cx="433.0" cy="23.3" r="1.06"/><circle cx="434.0" cy="21.4" r="1.03"/><circle cx="434.0" cy="23.2" r="0.89"/><circle cx="435.4" cy="21.4" r="1.06"/><circle cx="435.6" cy="23.1" r="1.14"/><circle cx="437.0" cy="21.4" r="0.97"/><circle cx="437.0" cy="22.9" r="1.02"/><circle cx="438.0" cy="21.3" r="0.85"/><circle cx="438.2" cy="23.0" r="0.91"/><circle cx="439.3" cy="21.3" r="0.82"/><circle cx="439.6" cy="23.2" r="1.04"/><circle cx="440.8" cy="21.6" r="0.98"/><circle cx="441.1" cy="23.2" r="0.84"/><circle cx="442.4" cy="22.1" r="1.14"/><circle cx="442.3" cy="24.0" r="0.96"/><circle cx="443.2" cy="21.8" r="0.96"/><circle cx="443.2" cy="23.5" r="1.13"/><circle cx="444.7" cy="20.9" r="0.85"/><circle cx="444.9" cy="23.6" r="0.85"/><circle cx="446.1" cy="21.8" r="1.11"/><circle cx="446.0" cy="23.0" r="1.11"/><circle cx="447.3" cy="21.3" r="0.80"/><circle cx="447.0" cy="23.5" r="0.91"/><circle cx="448.8" cy="21.8" r="0.91"/><circle cx="448.8" cy="23.2" r="1.06"/><circle cx="450.0" cy="21.0" r="1.12"/><circle cx="449.8" cy="23.6" r="0.90"/><circle cx="451.3" cy="21.5" r="1.15"/><circle cx="451.0" cy="23.3" r="0.95"/><circle cx="452.7" cy="21.4" r="0.84"/><circle cx="452.3" cy="23.4" r="1.13"/><circle cx="453.6" cy="21.4" r="0.98"/><circle cx="454.1" cy="24.0" r="1.13"/><circle cx="455.4" cy="20.8" r="1.02"/><circle cx="455.3" cy="23.3" r="0.99"/><circle cx="456.4" cy="21.1" r="1.06"/><circle cx="456.3" cy="23.3" r="1.03"/><circle cx="457.4" cy="21.4" r="1.12"/><circle cx="457.6" cy="24.0" r="0.92"/><circle cx="458.8" cy="21.2" r="1.14"/><circle cx="459.0" cy="23.7" r="0.91"/><circle cx="460.1" cy="21.5" r="0.86"/><circle cx="460.3" cy="23.3" r="1.12"/><circle cx="461.9" cy="21.5" r="1.12"/><circle cx="461.4" cy="23.4" r="0.85"/><circle cx="462.6" cy="21.6" r="0.92"/><circle cx="462.9" cy="24.1" r="0.89"/><circle cx="464.1" cy="21.6" r="1.06"/><circle cx="464.1" cy="23.4" r="0.98"/><circle cx="465.3" cy="20.9" r="0.82"/><circle cx="465.5" cy="23.8" r="0.84"/><circle cx="466.6" cy="21.8" r="1.10"/><circle cx="466.7" cy="23.5" r="0.89"/><circle cx="468.3" cy="21.3" r="1.13"/><circle cx="467.8" cy="23.8" r="0.81"/><circle cx="469.4" cy="21.6" r="1.11"/><circle cx="469.3" cy="24.0" r="0.80"/><circle cx="470.9" cy="21.2" r="1.09"/><circle cx="470.4" cy="23.1" r="0.89"/><circle cx="472.1" cy="21.2" r="0.98"/><circle cx="472.1" cy="23.6" r="1.05"/><circle cx="473.3" cy="22.1" r="0.96"/><circle cx="473.1" cy="23.7" r="1.07"/><circle cx="474.5" cy="22.0" r="1.03"/><circle cx="474.7" cy="23.6" r="0.89"/><circle cx="475.6" cy="21.5" r="0.84"/><circle cx="475.8" cy="23.1" r="1.00"/><circle cx="476.9" cy="21.9" r="1.01"/><circle cx="477.5" cy="23.5" r="0.96"/><circle cx="478.5" cy="22.0" r="1.11"/><circle cx="478.8" cy="23.6" r="0.89"/><circle cx="479.5" cy="21.6" r="0.91"/><circle cx="479.7" cy="23.1" r="1.04"/><circle cx="481.4" cy="21.9" r="1.03"/><circle cx="481.0" cy="23.4" r="0.81"/><circle cx="482.2" cy="21.4" r="1.04"/><circle cx="482.4" cy="23.0" r="1.06"/><circle cx="483.6" cy="21.4" r="1.14"/><circle cx="483.5" cy="23.7" r="0.88"/><circle cx="485.3" cy="21.6" r="0.90"/><circle cx="484.8" cy="23.4" r="0.87"/><circle cx="486.6" cy="22.0" r="1.03"/><circle cx="486.1" cy="23.9" r="0.94"/><circle cx="487.3" cy="22.0" r="0.85"/><circle cx="487.9" cy="23.8" r="0.94"/><circle cx="489.2" cy="21.3" r="1.06"/><circle cx="488.7" cy="23.8" r="0.92"/><circle cx="489.9" cy="21.5" r="1.06"/><circle cx="490.1" cy="23.2" r="0.93"/><circle cx="491.2" cy="21.8" r="0.86"/><circle cx="491.8" cy="23.0" r="0.92"/><circle cx="492.6" cy="21.9" r="1.14"/><circle cx="493.0" cy="23.2" r="1.09"/><circle cx="494.1" cy="21.6" r="0.82"/><circle cx="493.9" cy="23.1" r="1.12"/><circle cx="495.1" cy="21.8" r="1.11"/><circle cx="495.6" cy="22.8" r="1.08"/><circle cx="496.4" cy="21.1" r="0.81"/><circle cx="496.9" cy="23.8" r="0.89"/><circle cx="497.8" cy="21.1" r="0.92"/><circle cx="497.8" cy="23.6" r="1.02"/><circle cx="499.1" cy="22.1" r="0.91"/><circle cx="499.6" cy="23.4" r="1.06"/><circle cx="500.3" cy="22.0" r="1.13"/><circle cx="500.9" cy="23.8" r="0.97"/><circle cx="501.7" cy="21.7" r="0.94"/><circle cx="502.2" cy="23.1" r="0.97"/><circle cx="503.4" cy="21.4" r="1.08"/><circle cx="503.3" cy="23.1" r="1.07"/><circle cx="504.4" cy="21.3" r="0.91"/><circle cx="504.3" cy="23.7" r="0.83"/><circle cx="505.5" cy="22.0" r="0.89"/><circle cx="505.7" cy="23.8" r="0.99"/><circle cx="507.4" cy="22.0" r="1.11"/><circle cx="506.8" cy="23.5" r="0.83"/><circle cx="508.4" cy="21.9" r="1.05"/><circle cx="508.5" cy="23.6" r="0.95"/><circle cx="509.9" cy="21.5" r="1.06"/><circle cx="509.9" cy="23.3" r="0.84"/><circle cx="510.9" cy="21.4" r="1.00"/><circle cx="510.8" cy="23.2" r="0.87"/><circle cx="512.6" cy="21.5" r="0.85"/><circle cx="512.2" cy="23.9" r="0.91"/><circle cx="513.4" cy="21.3" r="0.98"/><circle cx="513.9" cy="22.9" r="1.03"/><circle cx="515.1" cy="21.3" r="0.97"/><circle cx="514.6" cy="23.1" r="1.12"/><circle cx="516.0" cy="21.1" r="0.84"/><circle cx="516.5" cy="23.2" r="1.00"/><circle cx="517.5" cy="22.0" r="1.10"/><circle cx="517.8" cy="22.9" r="1.07"/><circle cx="518.9" cy="21.9" r="1.01"/><circle cx="518.5" cy="23.1" r="0.93"/><circle cx="520.2" cy="21.4" r="0.89"/><circle cx="519.8" cy="23.3" r="0.87"/><circle cx="521.2" cy="21.9" r="1.04"/><circle cx="521.6" cy="23.5" r="0.87"/><circle cx="522.4" cy="21.6" r="0.82"/><circle cx="522.8" cy="22.9" r="0.99"/><circle cx="524.1" cy="21.6" r="0.86"/><circle cx="523.9" cy="23.9" r="0.90"/><circle cx="525.3" cy="21.7" r="0.91"/><circle cx="525.6" cy="23.9" r="0.95"/><circle cx="526.4" cy="21.4" r="0.93"/><circle cx="526.3" cy="23.8" r="0.87"/><circle cx="528.1" cy="21.7" r="0.95"/><circle cx="527.9" cy="22.9" r="1.11"/><circle cx="529.2" cy="21.4" r="0.81"/><circle cx="528.9" cy="23.4" r="1.12"/><circle cx="530.5" cy="22.0" r="0.93"/><circle cx="530.5" cy="23.8" r="0.90"/><circle cx="531.8" cy="21.2" r="0.84"/><circle cx="531.6" cy="22.9" r="1.14"/><circle cx="533.4" cy="21.8" r="1.13"/><circle cx="533.4" cy="23.4" r="0.82"/><circle cx="534.5" cy="21.4" r="1.12"/><circle cx="534.6" cy="23.2" r="0.86"/><circle cx="535.9" cy="21.3" r="0.94"/><circle cx="535.5" cy="23.3" r="0.86"/><circle cx="536.9" cy="22.0" r="0.98"/><circle cx="537.2" cy="23.8" r="0.89"/><circle cx="538.3" cy="21.3" r="0.81"/><circle cx="538.5" cy="23.1" r="0.81"/><circle cx="539.6" cy="21.5" r="1.01"/><circle cx="539.5" cy="23.5" r="0.91"/><circle cx="541.0" cy="21.7" r="0.95"/><circle cx="540.6" cy="23.5" r="0.95"/><circle cx="542.0" cy="21.4" r="0.97"/><circle cx="542.2" cy="23.0" r="1.07"/><circle cx="543.2" cy="22.0" r="0.97"/><circle cx="543.2" cy="23.3" r="0.95"/><circle cx="544.5" cy="21.5" r="0.98"/><circle cx="545.0" cy="23.7" r="0.83"/><circle cx="545.8" cy="21.6" r="0.98"/><circle cx="546.4" cy="23.1" r="0.93"/><circle cx="547.7" cy="21.4" r="1.10"/><circle cx="547.2" cy="23.8" r="1.09"/><circle cx="549.0" cy="21.1" r="0.97"/><circle cx="548.9" cy="24.0" r="0.86"/><circle cx="549.9" cy="21.1" r="0.82"/><circle cx="550.3" cy="23.4" r="0.86"/><circle cx="551.1" cy="21.5" r="1.09"/><circle cx="551.1" cy="23.2" r="1.12"/><circle cx="552.5" cy="21.8" r="0.98"/><circle cx="552.4" cy="24.2" r="0.86"/><circle cx="554.2" cy="21.7" r="1.04"/><circle cx="553.6" cy="23.7" r="1.07"/><circle cx="555.1" cy="20.9" r="1.02"/><circle cx="555.3" cy="24.2" r="0.99"/><circle cx="556.8" cy="20.9" r="0.84"/><circle cx="556.7" cy="23.6" r="0.94"/><circle cx="557.9" cy="21.4" r="1.15"/><circle cx="557.8" cy="23.5" r="1.07"/><circle cx="558.8" cy="20.8" r="1.06"/><circle cx="559.2" cy="24.5" r="0.89"/><circle cx="560.5" cy="21.2" r="1.01"/><circle cx="560.1" cy="23.8" r="0.80"/><circle cx="561.7" cy="21.0" r="1.02"/><circle cx="561.4" cy="23.6" r="1.11"/><circle cx="562.7" cy="21.5" r="1.03"/><circle cx="562.7" cy="23.9" r="0.92"/><circle cx="564.4" cy="20.8" r="0.88"/><circle cx="564.4" cy="24.1" r="0.87"/><circle cx="565.9" cy="21.1" r="0.85"/><circle cx="565.3" cy="24.3" r="0.85"/><circle cx="567.1" cy="21.2" r="1.10"/><circle cx="566.6" cy="24.2" r="0.89"/><circle cx="568.1" cy="20.8" r="1.00"/><circle cx="568.5" cy="24.3" r="0.96"/><circle cx="569.8" cy="21.4" r="0.89"/><circle cx="569.4" cy="23.7" r="0.99"/><circle cx="571.0" cy="21.4" r="0.82"/><circle cx="571.1" cy="23.6" r="0.99"/><circle cx="572.2" cy="21.0" r="0.87"/><circle cx="572.3" cy="23.5" r="1.02"/><circle cx="573.3" cy="21.6" r="0.91"/><circle cx="573.6" cy="24.0" r="1.11"/><circle cx="574.9" cy="20.8" r="0.80"/><circle cx="574.9" cy="23.8" r="0.96"/><circle cx="575.7" cy="21.5" r="0.88"/><circle cx="575.9" cy="24.1" r="0.81"/><circle cx="577.5" cy="21.2" r="1.04"/><circle cx="577.3" cy="23.6" r="0.89"/><circle cx="578.6" cy="21.7" r="1.08"/><circle cx="578.9" cy="23.3" r="1.02"/><circle cx="579.6" cy="21.8" r="1.11"/><circle cx="580.1" cy="24.0" r="0.88"/><circle cx="581.1" cy="21.3" r="1.06"/><circle cx="581.0" cy="23.9" r="0.91"/><circle cx="582.6" cy="21.5" r="1.02"/><circle cx="582.5" cy="23.6" r="1.14"/><circle cx="584.1" cy="21.8" r="1.04"/><circle cx="583.8" cy="23.0" r="1.05"/><circle cx="585.2" cy="22.1" r="0.87"/><circle cx="584.9" cy="22.6" r="1.12"/><circle cx="586.7" cy="21.9" r="0.84"/><circle cx="586.1" cy="22.8" r="0.85"/><circle cx="587.8" cy="21.8" r="1.04"/><circle cx="587.4" cy="23.1" r="1.06"/><circle cx="589.2" cy="21.9" r="0.93"/><circle cx="588.7" cy="23.0" r="1.11"/></g>
<path d="M395.80,38.22C395.80,37.64 396.60,36.92 397.00,36.48C397.40,36.04 397.80,35.97 398.20,35.61C398.60,35.24 399.00,34.75 399.40,34.28C399.80,33.81 400.20,33.13 400.60,32.80C401.00,32.46 401.40,32.34 401.80,32.29C402.20,32.23 402.60,32.30 403.00,32.48C403.40,32.66 403.80,33.08 404.20,33.36C404.60,33.65 405.00,33.92 405.40,34.18C405.80,34.45 406.20,34.79 406.60,34.96C407.00,35.14 407.40,35.23 407.80,35.23C408.20,35.22 408.60,35.04 409.00,34.92C409.40,34.80 409.80,34.71 410.20,34.50C410.60,34.30 411.00,33.89 411.40,33.69C411.80,33.48 412.20,33.24 412.60,33.28C413.00,33.33 413.40,33.82 413.80,33.94C414.20,34.06 414.60,33.79 415.00,34.01C415.40,34.24 415.80,34.98 416.20,35.28C416.60,35.58 417.00,35.70 417.40,35.80C417.80,35.90 418.20,35.84 418.60,35.88C419.00,35.91 419.40,35.86 419.80,36.03C420.20,36.20 420.60,36.79 421.00,36.90C421.40,37.01 421.80,36.65 422.20,36.70C422.60,36.75 423.00,37.21 423.40,37.21C423.80,37.22 424.20,36.79 424.60,36.73C425.00,36.67 425.40,36.84 425.80,36.84C426.20,36.84 426.60,36.74 427.00,36.73C427.40,36.72 427.80,36.78 428.20,36.79C428.60,36.80 429.00,36.82 429.40,36.77C429.80,36.72 430.20,36.46 430.60,36.48C431.00,36.50 431.40,36.82 431.80,36.89C432.20,36.97 432.60,36.98 433.00,36.91C433.40,36.84 433.80,36.55 434.20,36.48C434.60,36.42 435.00,36.50 435.40,36.53C435.80,36.56 436.20,36.72 436.60,36.69C437.00,36.66 437.40,36.40 437.80,36.34C438.20,36.28 438.60,36.24 439.00,36.31C439.40,36.38 439.80,36.77 440.20,36.76C440.60,36.75 441.00,36.28 441.40,36.25C441.80,36.22 442.20,36.51 442.60,36.58C443.00,36.65 443.40,36.68 443.80,36.65C444.20,36.62 444.60,36.48 445.00,36.41C445.40,36.33 445.80,36.20 446.20,36.21C446.60,36.22 447.00,36.40 447.40,36.46C447.80,36.51 448.20,36.60 448.60,36.55C449.00,36.51 449.40,36.18 449.80,36.17C450.20,36.16 450.60,36.52 451.00,36.50C451.40,36.48 451.80,36.06 452.20,36.06C452.60,36.07 453.00,36.52 453.40,36.50C453.80,36.49 454.20,35.97 454.60,35.96C455.00,35.95 455.40,36.42 455.80,36.44C456.20,36.46 456.60,36.09 457.00,36.10C457.40,36.11 457.80,36.44 458.20,36.50C458.60,36.56 459.00,36.49 459.40,36.45C459.80,36.42 460.20,36.28 460.60,36.28C461.00,36.28 461.40,36.48 461.80,36.44C462.20,36.40 462.60,35.99 463.00,36.03C463.40,36.07 463.80,36.57 464.20,36.68C464.60,36.80 465.00,36.81 465.40,36.72C465.80,36.63 466.20,36.21 466.60,36.15C467.00,36.09 467.40,36.26 467.80,36.36C468.20,36.46 468.60,36.68 469.00,36.76C469.40,36.84 469.80,36.85 470.20,36.84C470.60,36.82 471.00,36.69 471.40,36.66C471.80,36.63 472.20,36.70 472.60,36.68C473.00,36.65 473.40,36.51 473.80,36.48C474.20,36.46 474.60,36.46 475.00,36.53C475.40,36.59 475.80,36.84 476.20,36.87C476.60,36.90 477.00,36.78 477.40,36.69C477.80,36.60 478.20,36.35 478.60,36.33C479.00,36.31 479.40,36.51 479.80,36.57C480.20,36.63 480.60,36.69 481.00,36.68C481.40,36.66 481.80,36.51 482.20,36.46C482.60,36.42 483.00,36.44 483.40,36.43C483.80,36.41 484.20,36.36 484.60,36.37C485.00,36.39 485.40,36.46 485.80,36.52C486.20,36.58 486.60,36.69 487.00,36.75C487.40,36.81 487.80,36.96 488.20,36.90C488.60,36.85 489.00,36.48 489.40,36.42C489.80,36.36 490.20,36.49 490.60,36.53C491.00,36.57 491.40,36.67 491.80,36.67C492.20,36.67 492.60,36.56 493.00,36.53C493.40,36.51 493.80,36.45 494.20,36.50C494.60,36.55 495.00,36.85 495.40,36.84C495.80,36.83 496.20,36.46 496.60,36.43C497.00,36.39 497.40,36.54 497.80,36.63C498.20,36.71 498.60,36.90 499.00,36.94C499.40,36.98 499.80,36.96 500.20,36.86C500.60,36.75 501.00,36.30 501.40,36.31C501.80,36.32 502.20,36.85 502.60,36.90C503.00,36.95 503.40,36.64 503.80,36.59C504.20,36.54 504.60,36.65 505.00,36.61C505.40,36.58 505.80,36.38 506.20,36.39C506.60,36.40 507.00,36.61 507.40,36.68C507.80,36.75 508.20,36.82 508.60,36.82C509.00,36.83 509.40,36.69 509.80,36.70C510.20,36.71 510.60,36.88 511.00,36.88C511.40,36.89 511.80,36.74 512.20,36.72C512.60,36.70 513.00,36.74 513.40,36.78C513.80,36.82 514.20,36.98 514.60,36.96C515.00,36.94 515.40,36.72 515.80,36.68C516.20,36.64 516.60,36.70 517.00,36.72C517.40,36.75 517.80,36.88 518.20,36.81C518.60,36.74 519.00,36.31 519.40,36.31C519.80,36.31 520.20,36.75 520.60,36.82C521.00,36.88 521.40,36.69 521.80,36.70C522.20,36.71 522.60,36.93 523.00,36.88C523.40,36.83 523.80,36.44 524.20,36.40C524.60,36.36 525.00,36.57 525.40,36.64C525.80,36.71 526.20,36.80 526.60,36.81C527.00,36.83 527.40,36.79 527.80,36.72C528.20,36.65 528.60,36.41 529.00,36.40C529.40,36.38 529.80,36.61 530.20,36.64C530.60,36.67 531.00,36.63 531.40,36.59C531.80,36.54 532.20,36.42 532.60,36.39C533.00,36.35 533.40,36.32 533.80,36.37C534.20,36.43 534.60,36.66 535.00,36.71C535.40,36.76 535.80,36.63 536.20,36.67C536.60,36.72 537.00,36.95 537.40,36.97C537.80,36.99 538.20,36.81 538.60,36.77C539.00,36.74 539.40,36.78 539.80,36.76C540.20,36.74 540.60,36.71 541.00,36.66C541.40,36.62 541.80,36.55 542.20,36.49C542.60,36.43 543.00,36.23 543.40,36.30C543.80,36.36 544.20,36.90 544.60,36.90C545.00,36.90 545.40,36.31 545.80,36.28C546.20,36.25 546.60,36.73 547.00,36.73C547.40,36.74 547.80,36.32 548.20,36.31C548.60,36.30 549.00,36.69 549.40,36.66C549.80,36.63 550.20,36.17 550.60,36.13C551.00,36.09 551.40,36.42 551.80,36.45C552.20,36.48 552.60,36.35 553.00,36.31C553.40,36.26 553.80,36.27 554.20,36.18C554.60,36.09 555.00,35.74 555.40,35.74C555.80,35.75 556.20,36.19 556.60,36.21C557.00,36.23 557.40,35.93 557.80,35.87C558.20,35.81 558.60,35.85 559.00,35.83C559.40,35.81 559.80,35.70 560.20,35.75C560.60,35.81 561.00,36.14 561.40,36.17C561.80,36.20 562.20,35.97 562.60,35.94C563.00,35.92 563.40,36.01 563.80,36.02C564.20,36.03 564.60,35.95 565.00,36.00C565.40,36.04 565.80,36.25 566.20,36.28C566.60,36.30 567.00,36.16 567.40,36.15C567.80,36.14 568.20,36.20 568.60,36.22C569.00,36.24 569.40,36.25 569.80,36.26C570.20,36.28 570.60,36.22 571.00,36.31C571.40,36.39 571.80,36.72 572.20,36.76C572.60,36.79 573.00,36.56 573.40,36.51C573.80,36.46 574.20,36.41 574.60,36.45C575.00,36.48 575.40,36.73 575.80,36.71C576.20,36.68 576.60,36.33 577.00,36.30C577.40,36.27 577.80,36.42 578.20,36.52C578.60,36.63 579.00,36.96 579.40,36.95C579.80,36.94 580.20,36.52 580.60,36.49C581.00,36.47 581.40,36.73 581.80,36.81C582.20,36.88 582.60,36.93 583.00,36.95C583.40,36.97 583.80,36.77 584.20,36.92C584.60,37.07 585.13,37.64 585.40,37.86C585.67,38.08 585.80,38.10 585.80,38.22C585.80,38.34 585.67,38.46 585.40,38.58C585.13,38.70 584.60,38.77 584.20,38.91C583.80,39.06 583.40,39.27 583.00,39.47C582.60,39.66 582.20,39.98 581.80,40.09C581.40,40.20 581.00,40.15 580.60,40.12C580.20,40.09 579.80,39.93 579.40,39.90C579.00,39.86 578.60,39.98 578.20,39.92C577.80,39.85 577.40,39.55 577.00,39.52C576.60,39.50 576.20,39.66 575.80,39.76C575.40,39.86 575.00,40.08 574.60,40.12C574.20,40.15 573.80,39.97 573.40,40.00C573.00,40.02 572.60,40.21 572.20,40.27C571.80,40.33 571.40,40.37 571.00,40.36C570.60,40.35 570.20,40.24 569.80,40.18C569.40,40.12 569.00,40.03 568.60,39.99C568.20,39.96 567.80,39.97 567.40,39.99C567.00,40.01 566.60,40.06 566.20,40.10C565.80,40.14 565.40,40.14 565.00,40.24C564.60,40.35 564.20,40.66 563.80,40.73C563.40,40.80 563.00,40.66 562.60,40.65C562.20,40.63 561.80,40.60 561.40,40.62C561.00,40.63 560.60,40.70 560.20,40.72C559.80,40.75 559.40,40.77 559.00,40.77C558.60,40.76 558.20,40.70 557.80,40.69C557.40,40.69 557.00,40.75 556.60,40.73C556.20,40.72 555.80,40.72 555.40,40.62C555.00,40.52 554.60,40.14 554.20,40.12C553.80,40.11 553.40,40.53 553.00,40.51C552.60,40.50 552.20,40.10 551.80,40.02C551.40,39.94 551.00,39.96 550.60,40.02C550.20,40.09 549.80,40.49 549.40,40.44C549.00,40.38 548.60,39.74 548.20,39.70C547.80,39.66 547.40,40.13 547.00,40.19C546.60,40.25 546.20,40.09 545.80,40.08C545.40,40.06 545.00,40.08 544.60,40.08C544.20,40.08 543.80,40.15 543.40,40.09C543.00,40.04 542.60,39.77 542.20,39.74C541.80,39.71 541.40,39.91 541.00,39.93C540.60,39.94 540.20,39.85 539.80,39.81C539.40,39.76 539.00,39.61 538.60,39.64C538.20,39.67 537.80,39.98 537.40,39.98C537.00,39.97 536.60,39.65 536.20,39.60C535.80,39.55 535.40,39.64 535.00,39.65C534.60,39.66 534.20,39.65 533.80,39.66C533.40,39.67 533.00,39.73 532.60,39.72C532.20,39.70 531.80,39.56 531.40,39.56C531.00,39.55 530.60,39.60 530.20,39.68C529.80,39.76 529.40,40.00 529.00,40.04C528.60,40.08 528.20,39.90 527.80,39.92C527.40,39.93 527.00,40.15 526.60,40.14C526.20,40.14 525.80,39.90 525.40,39.86C525.00,39.82 524.60,39.89 524.20,39.91C523.80,39.94 523.40,40.06 523.00,40.01C522.60,39.96 522.20,39.62 521.80,39.62C521.40,39.62 521.00,39.99 520.60,40.03C520.20,40.07 519.80,39.85 519.40,39.84C519.00,39.83 518.60,40.02 518.20,39.99C517.80,39.96 517.40,39.66 517.00,39.66C516.60,39.65 516.20,39.94 515.80,39.96C515.40,39.98 515.00,39.80 514.60,39.76C514.20,39.73 513.80,39.79 513.40,39.75C513.00,39.71 512.60,39.44 512.20,39.51C511.80,39.58 511.40,40.08 511.00,40.16C510.60,40.24 510.20,40.04 509.80,40.00C509.40,39.97 509.00,39.93 508.60,39.95C508.20,39.97 507.80,40.15 507.40,40.13C507.00,40.11 506.60,39.87 506.20,39.84C505.80,39.80 505.40,39.89 505.00,39.92C504.60,39.94 504.20,39.98 503.80,39.97C503.40,39.96 503.00,39.90 502.60,39.87C502.20,39.85 501.80,39.81 501.40,39.83C501.00,39.86 500.60,40.01 500.20,40.02C499.80,40.02 499.40,39.83 499.00,39.85C498.60,39.87 498.20,40.17 497.80,40.15C497.40,40.13 497.00,39.78 496.60,39.74C496.20,39.70 495.80,39.86 495.40,39.93C495.00,39.99 494.60,40.15 494.20,40.12C493.80,40.09 493.40,39.81 493.00,39.76C492.60,39.70 492.20,39.81 491.80,39.79C491.40,39.77 491.00,39.61 490.60,39.65C490.20,39.68 489.80,39.95 489.40,39.97C489.00,39.99 488.60,39.77 488.20,39.76C487.80,39.75 487.40,39.91 487.00,39.91C486.60,39.91 486.20,39.78 485.80,39.79C485.40,39.79 485.00,39.92 484.60,39.95C484.20,39.97 483.80,39.94 483.40,39.96C483.00,39.98 482.60,40.14 482.20,40.09C481.80,40.03 481.40,39.65 481.00,39.63C480.60,39.61 480.20,39.97 479.80,39.99C479.40,40.02 479.00,39.77 478.60,39.77C478.20,39.77 477.80,39.97 477.40,39.99C477.00,40.01 476.60,39.92 476.20,39.89C475.80,39.86 475.40,39.81 475.00,39.79C474.60,39.78 474.20,39.78 473.80,39.82C473.40,39.86 473.00,40.09 472.60,40.04C472.20,39.99 471.80,39.59 471.40,39.53C471.00,39.47 470.60,39.59 470.20,39.67C469.80,39.75 469.40,39.96 469.00,39.99C468.60,40.03 468.20,39.84 467.80,39.87C467.40,39.90 467.00,40.15 466.60,40.16C466.20,40.17 465.80,39.88 465.40,39.92C465.00,39.95 464.60,40.31 464.20,40.36C463.80,40.42 463.40,40.32 463.00,40.24C462.60,40.16 462.20,39.96 461.80,39.90C461.40,39.85 461.00,39.88 460.60,39.91C460.20,39.93 459.80,40.04 459.40,40.04C459.00,40.05 458.60,39.87 458.20,39.94C457.80,40.01 457.40,40.41 457.00,40.44C456.60,40.46 456.20,40.14 455.80,40.08C455.40,40.01 455.00,40.01 454.60,40.03C454.20,40.04 453.80,40.13 453.40,40.17C453.00,40.21 452.60,40.25 452.20,40.24C451.80,40.23 451.40,40.11 451.00,40.13C450.60,40.14 450.20,40.29 449.80,40.33C449.40,40.37 449.00,40.43 448.60,40.37C448.20,40.31 447.80,40.00 447.40,39.97C447.00,39.93 446.60,40.12 446.20,40.15C445.80,40.19 445.40,40.22 445.00,40.19C444.60,40.16 444.20,39.94 443.80,39.95C443.40,39.95 443.00,40.22 442.60,40.21C442.20,40.21 441.80,40.00 441.40,39.91C441.00,39.83 440.60,39.78 440.20,39.72C439.80,39.65 439.40,39.55 439.00,39.52C438.60,39.49 438.20,39.50 437.80,39.54C437.40,39.57 437.00,39.72 436.60,39.75C436.20,39.78 435.80,39.67 435.40,39.72C435.00,39.76 434.60,39.97 434.20,40.02C433.80,40.07 433.40,40.04 433.00,40.02C432.60,40.00 432.20,39.95 431.80,39.92C431.40,39.88 431.00,39.87 430.60,39.82C430.20,39.77 429.80,39.57 429.40,39.62C429.00,39.67 428.60,40.06 428.20,40.13C427.80,40.20 427.40,40.10 427.00,40.05C426.60,40.00 426.20,39.84 425.80,39.82C425.40,39.79 425.00,39.96 424.60,39.92C424.20,39.88 423.80,39.57 423.40,39.57C423.00,39.56 422.60,39.87 422.20,39.89C421.80,39.91 421.40,39.67 421.00,39.68C420.60,39.69 420.20,39.90 419.80,39.96C419.40,40.02 419.00,39.95 418.60,40.02C418.20,40.10 417.80,40.18 417.40,40.41C417.00,40.64 416.60,41.04 416.20,41.41C415.80,41.79 415.40,42.44 415.00,42.66C414.60,42.89 414.20,42.71 413.80,42.77C413.40,42.82 413.00,43.05 412.60,42.99C412.20,42.94 411.80,42.61 411.40,42.43C411.00,42.25 410.60,42.01 410.20,41.90C409.80,41.80 409.40,41.91 409.00,41.82C408.60,41.73 408.20,41.42 407.80,41.38C407.40,41.33 407.00,41.47 406.60,41.55C406.20,41.63 405.80,41.62 405.40,41.87C405.00,42.12 404.60,42.77 404.20,43.08C403.80,43.38 403.40,43.52 403.00,43.72C402.60,43.92 402.20,44.30 401.80,44.29C401.40,44.27 401.00,43.98 400.60,43.62C400.20,43.25 399.80,42.56 399.40,42.10C399.00,41.65 398.60,41.26 398.20,40.90C397.80,40.55 397.40,40.43 397.00,39.98C396.60,39.53 395.80,38.80 395.80,38.22Z" fill="url(#g4)"/>
<g fill="url(#g4)"><circle cx="396.5" cy="38.0" r="1.05"/><circle cx="396.3" cy="38.6" r="1.10"/><circle cx="397.9" cy="37.0" r="0.98"/><circle cx="397.6" cy="39.8" r="0.95"/><circle cx="398.9" cy="34.9" r="1.09"/><circle cx="399.0" cy="41.1" r="0.94"/><circle cx="400.6" cy="33.8" r="0.98"/><circle cx="400.2" cy="42.2" r="1.08"/><circle cx="401.7" cy="33.0" r="0.90"/><circle cx="401.3" cy="43.4" r="1.07"/><circle cx="402.9" cy="33.8" r="1.11"/><circle cx="402.6" cy="42.9" r="0.91"/><circle cx="404.3" cy="33.8" r="1.12"/><circle cx="404.5" cy="42.7" r="1.08"/><circle cx="405.6" cy="35.0" r="1.02"/><circle cx="405.6" cy="40.9" r="1.01"/><circle cx="406.8" cy="35.4" r="1.03"/><circle cx="406.6" cy="40.4" r="0.84"/><circle cx="408.4" cy="35.5" r="1.07"/><circle cx="408.3" cy="41.2" r="0.93"/><circle cx="409.2" cy="35.6" r="1.00"/><circle cx="409.3" cy="41.0" r="0.95"/><circle cx="411.0" cy="35.5" r="1.02"/><circle cx="410.4" cy="41.0" r="1.00"/><circle cx="412.1" cy="34.2" r="1.08"/><circle cx="411.7" cy="41.8" r="0.96"/><circle cx="413.6" cy="33.7" r="1.01"/><circle cx="413.2" cy="41.9" r="0.97"/><circle cx="414.4" cy="35.0" r="1.03"/><circle cx="414.3" cy="42.2" r="0.81"/><circle cx="416.2" cy="35.9" r="0.84"/><circle cx="415.6" cy="40.3" r="1.10"/><circle cx="417.0" cy="36.3" r="1.05"/><circle cx="416.9" cy="40.3" r="0.87"/><circle cx="418.7" cy="36.7" r="1.05"/><circle cx="418.6" cy="39.9" r="0.83"/><circle cx="420.1" cy="37.2" r="0.96"/><circle cx="420.0" cy="38.9" r="1.14"/><circle cx="421.2" cy="36.9" r="0.81"/><circle cx="421.0" cy="39.5" r="0.83"/><circle cx="422.7" cy="37.6" r="0.86"/><circle cx="422.3" cy="38.9" r="0.82"/><circle cx="423.8" cy="37.9" r="0.95"/><circle cx="423.6" cy="38.9" r="1.08"/><circle cx="424.9" cy="37.6" r="1.02"/><circle cx="425.3" cy="39.2" r="1.08"/><circle cx="426.2" cy="37.8" r="1.00"/><circle cx="426.4" cy="39.3" r="1.14"/><circle cx="427.7" cy="36.8" r="0.92"/><circle cx="427.7" cy="38.8" r="1.09"/><circle cx="429.2" cy="37.5" r="0.95"/><circle cx="429.0" cy="39.4" r="1.04"/><circle cx="430.0" cy="37.9" r="1.08"/><circle cx="430.1" cy="39.2" r="0.89"/><circle cx="431.8" cy="37.9" r="1.09"/><circle cx="431.7" cy="39.4" r="1.09"/><circle cx="432.6" cy="37.0" r="1.00"/><circle cx="432.9" cy="39.4" r="1.08"/><circle cx="433.8" cy="37.3" r="0.92"/><circle cx="433.9" cy="39.3" r="1.08"/><circle cx="435.2" cy="37.4" r="1.13"/><circle cx="435.4" cy="38.8" r="1.04"/><circle cx="436.9" cy="37.0" r="0.89"/><circle cx="436.4" cy="39.4" r="0.96"/><circle cx="437.8" cy="37.3" r="1.07"/><circle cx="438.3" cy="39.0" r="1.11"/><circle cx="439.4" cy="37.6" r="0.97"/><circle cx="439.1" cy="39.4" r="0.87"/><circle cx="440.6" cy="37.3" r="0.93"/><circle cx="440.4" cy="38.7" r="0.98"/><circle cx="441.8" cy="37.8" r="1.15"/><circle cx="442.1" cy="38.8" r="1.02"/><circle cx="443.1" cy="37.2" r="1.01"/><circle cx="442.9" cy="39.8" r="0.81"/><circle cx="444.5" cy="37.2" r="1.10"/><circle cx="444.7" cy="39.2" r="0.89"/><circle cx="446.0" cy="36.9" r="1.13"/><circle cx="445.6" cy="38.7" r="1.14"/><circle cx="446.9" cy="37.4" r="0.87"/><circle cx="447.1" cy="39.8" r="0.82"/><circle cx="448.7" cy="36.6" r="0.96"/><circle cx="448.5" cy="39.4" r="0.82"/><circle cx="450.0" cy="37.2" r="0.84"/><circle cx="449.8" cy="39.9" r="1.00"/><circle cx="450.9" cy="37.1" r="1.03"/><circle cx="451.3" cy="40.0" r="0.86"/><circle cx="452.0" cy="37.2" r="0.88"/><circle cx="452.6" cy="39.9" r="0.92"/><circle cx="453.3" cy="36.8" r="1.09"/><circle cx="453.7" cy="39.9" r="1.05"/><circle cx="454.7" cy="36.6" r="0.82"/><circle cx="455.0" cy="39.2" r="1.13"/><circle cx="456.4" cy="37.4" r="1.01"/><circle cx="456.0" cy="39.1" r="0.91"/><circle cx="457.3" cy="37.2" r="0.97"/><circle cx="457.6" cy="39.1" r="0.85"/><circle cx="458.6" cy="37.5" r="1.05"/><circle cx="458.6" cy="39.8" r="1.12"/><circle cx="460.4" cy="37.5" r="1.10"/><circle cx="459.8" cy="39.9" r="0.96"/><circle cx="461.5" cy="37.2" r="1.09"/><circle cx="461.6" cy="39.4" r="0.92"/><circle cx="462.4" cy="37.4" r="1.02"/><circle cx="462.8" cy="39.5" r="0.82"/><circle cx="464.3" cy="37.3" r="0.85"/><circle cx="463.8" cy="39.1" r="0.94"/><circle cx="465.2" cy="37.6" r="1.09"/><circle cx="465.2" cy="39.7" r="0.97"/><circle cx="466.9" cy="37.6" r="0.84"/><circle cx="466.7" cy="38.8" r="1.11"/><circle cx="467.8" cy="37.5" r="0.97"/><circle cx="467.8" cy="39.7" r="0.87"/><circle cx="469.5" cy="37.8" r="1.15"/><circle cx="469.5" cy="38.8" r="0.90"/><circle cx="470.4" cy="36.9" r="1.05"/><circle cx="470.7" cy="39.1" r="0.81"/><circle cx="471.5" cy="36.9" r="0.85"/><circle cx="471.6" cy="39.0" r="0.98"/><circle cx="472.9" cy="37.4" r="1.12"/><circle cx="472.9" cy="39.5" r="0.85"/><circle cx="474.2" cy="37.8" r="1.05"/><circle cx="474.5" cy="39.2" r="0.83"/><circle cx="475.5" cy="37.2" r="0.90"/><circle cx="475.9" cy="39.1" r="1.05"/><circle cx="476.7" cy="37.0" r="0.87"/><circle cx="477.2" cy="38.7" r="0.94"/><circle cx="478.2" cy="37.1" r="1.08"/><circle cx="478.3" cy="38.5" r="1.10"/><circle cx="479.6" cy="37.1" r="1.12"/><circle cx="479.4" cy="39.5" r="0.89"/><circle cx="480.7" cy="37.4" r="0.93"/><circle cx="480.6" cy="39.1" r="1.01"/><circle cx="482.2" cy="37.7" r="0.96"/><circle cx="482.4" cy="39.4" r="1.05"/><circle cx="483.6" cy="37.4" r="0.91"/><circle cx="483.2" cy="39.4" r="1.06"/><circle cx="484.8" cy="37.5" r="1.13"/><circle cx="484.8" cy="38.6" r="0.99"/><circle cx="485.9" cy="37.8" r="1.14"/><circle cx="485.9" cy="39.5" r="0.84"/><circle cx="487.1" cy="37.0" r="0.81"/><circle cx="487.1" cy="39.3" r="0.87"/><circle cx="488.7" cy="37.2" r="1.00"/><circle cx="489.0" cy="39.4" r="0.84"/><circle cx="489.7" cy="37.2" r="0.82"/><circle cx="489.8" cy="38.7" r="0.98"/><circle cx="491.0" cy="37.2" r="0.94"/><circle cx="491.1" cy="39.1" r="1.10"/><circle cx="492.4" cy="37.1" r="1.06"/><circle cx="492.5" cy="38.9" r="1.13"/><circle cx="493.9" cy="37.5" r="1.09"/><circle cx="494.1" cy="38.8" r="1.13"/><circle cx="495.1" cy="37.4" r="0.88"/><circle cx="495.4" cy="39.4" r="1.14"/><circle cx="496.7" cy="37.9" r="1.09"/><circle cx="496.8" cy="39.5" r="0.98"/><circle cx="497.7" cy="37.2" r="0.89"/><circle cx="497.8" cy="38.7" r="0.93"/><circle cx="499.1" cy="37.8" r="0.95"/><circle cx="499.4" cy="39.5" r="0.85"/><circle cx="500.5" cy="37.2" r="1.13"/><circle cx="500.7" cy="38.5" r="1.11"/><circle cx="501.5" cy="37.2" r="1.02"/><circle cx="501.7" cy="39.6" r="0.90"/><circle cx="502.8" cy="37.4" r="1.02"/><circle cx="503.3" cy="38.9" r="0.95"/><circle cx="504.4" cy="37.7" r="0.91"/><circle cx="504.6" cy="39.1" r="1.01"/><circle cx="505.6" cy="37.3" r="0.89"/><circle cx="505.3" cy="38.8" r="0.85"/><circle cx="506.8" cy="37.5" r="0.90"/><circle cx="506.6" cy="39.2" r="0.89"/><circle cx="508.3" cy="37.4" r="1.09"/><circle cx="508.0" cy="39.3" r="1.03"/><circle cx="509.5" cy="37.2" r="0.96"/><circle cx="509.4" cy="38.8" r="0.96"/><circle cx="510.8" cy="37.4" r="0.88"/><circle cx="510.5" cy="38.9" r="1.00"/><circle cx="511.9" cy="37.4" r="1.10"/><circle cx="511.9" cy="39.6" r="0.97"/><circle cx="513.6" cy="37.6" r="0.90"/><circle cx="513.7" cy="39.1" r="0.82"/><circle cx="514.6" cy="37.3" r="0.82"/><circle cx="514.4" cy="38.8" r="1.06"/><circle cx="516.2" cy="37.8" r="1.14"/><circle cx="515.9" cy="39.3" r="0.92"/><circle cx="517.5" cy="37.1" r="1.02"/><circle cx="517.5" cy="39.3" r="0.98"/><circle cx="518.6" cy="37.1" r="1.07"/><circle cx="518.9" cy="38.7" r="1.05"/><circle cx="519.6" cy="37.2" r="1.10"/><circle cx="519.9" cy="39.5" r="1.01"/><circle cx="521.1" cy="37.1" r="1.00"/><circle cx="521.3" cy="38.9" r="1.11"/><circle cx="522.5" cy="37.1" r="0.96"/><circle cx="522.4" cy="39.2" r="0.90"/><circle cx="523.7" cy="37.0" r="0.93"/><circle cx="523.8" cy="38.9" r="1.10"/><circle cx="525.0" cy="37.6" r="0.86"/><circle cx="525.2" cy="38.7" r="1.00"/><circle cx="526.3" cy="37.1" r="1.12"/><circle cx="526.7" cy="38.7" r="1.09"/><circle cx="528.0" cy="37.8" r="0.95"/><circle cx="527.7" cy="39.2" r="0.82"/><circle cx="529.2" cy="37.4" r="1.12"/><circle cx="529.0" cy="39.0" r="1.15"/><circle cx="530.2" cy="37.5" r="1.04"/><circle cx="530.2" cy="39.5" r="1.01"/><circle cx="531.6" cy="37.8" r="1.04"/><circle cx="531.5" cy="39.2" r="0.93"/><circle cx="533.2" cy="36.9" r="1.00"/><circle cx="532.9" cy="39.2" r="0.97"/><circle cx="534.1" cy="37.4" r="1.15"/><circle cx="534.0" cy="38.8" r="1.09"/><circle cx="535.7" cy="37.5" r="1.14"/><circle cx="535.8" cy="39.4" r="0.84"/><circle cx="537.1" cy="37.0" r="1.09"/><circle cx="536.6" cy="38.9" r="0.95"/><circle cx="538.1" cy="37.7" r="0.98"/><circle cx="538.2" cy="39.3" r="0.86"/><circle cx="539.7" cy="37.2" r="0.92"/><circle cx="539.3" cy="39.5" r="0.81"/><circle cx="540.8" cy="37.8" r="0.91"/><circle cx="540.9" cy="39.2" r="0.91"/><circle cx="541.8" cy="37.4" r="1.03"/><circle cx="541.8" cy="39.2" r="0.99"/><circle cx="543.6" cy="37.3" r="0.99"/><circle cx="543.0" cy="38.8" r="0.94"/><circle cx="544.3" cy="37.8" r="1.07"/><circle cx="544.6" cy="39.5" r="0.86"/><circle cx="546.1" cy="37.8" r="1.01"/><circle cx="546.1" cy="39.1" r="0.80"/><circle cx="547.1" cy="37.6" r="1.05"/><circle cx="546.9" cy="39.7" r="0.89"/><circle cx="548.4" cy="37.2" r="1.00"/><circle cx="548.2" cy="39.7" r="0.93"/><circle cx="550.1" cy="37.1" r="1.00"/><circle cx="549.6" cy="38.9" r="1.02"/><circle cx="551.3" cy="37.2" r="1.13"/><circle cx="551.3" cy="39.2" r="1.11"/><circle cx="552.7" cy="36.9" r="1.01"/><circle cx="552.2" cy="39.3" r="1.13"/><circle cx="553.5" cy="37.1" r="1.05"/><circle cx="553.7" cy="39.8" r="1.11"/><circle cx="554.8" cy="36.9" r="0.89"/><circle cx="555.3" cy="39.5" r="0.87"/><circle cx="556.0" cy="36.7" r="1.00"/><circle cx="556.2" cy="39.3" r="0.93"/><circle cx="557.8" cy="36.7" r="0.84"/><circle cx="557.4" cy="39.6" r="0.89"/><circle cx="558.6" cy="36.5" r="0.88"/><circle cx="558.7" cy="40.0" r="0.92"/><circle cx="560.0" cy="36.3" r="0.83"/><circle cx="560.2" cy="40.2" r="0.84"/><circle cx="561.3" cy="36.9" r="1.08"/><circle cx="561.4" cy="40.2" r="1.05"/><circle cx="563.1" cy="36.6" r="0.87"/><circle cx="562.8" cy="39.4" r="0.88"/><circle cx="563.9" cy="36.4" r="1.05"/><circle cx="564.0" cy="39.4" r="1.01"/><circle cx="565.2" cy="36.4" r="1.01"/><circle cx="565.4" cy="39.8" r="0.84"/><circle cx="566.9" cy="36.9" r="0.89"/><circle cx="566.7" cy="39.4" r="1.03"/><circle cx="567.7" cy="37.2" r="0.94"/><circle cx="567.9" cy="39.6" r="1.10"/><circle cx="569.3" cy="37.0" r="0.84"/><circle cx="569.2" cy="39.0" r="0.98"/><circle cx="570.4" cy="37.4" r="0.91"/><circle cx="570.4" cy="39.2" r="1.05"/><circle cx="572.1" cy="36.8" r="1.12"/><circle cx="571.6" cy="39.0" r="1.10"/><circle cx="573.3" cy="36.9" r="0.81"/><circle cx="573.1" cy="39.4" r="0.92"/><circle cx="574.3" cy="37.0" r="1.04"/><circle cx="574.6" cy="38.9" r="0.92"/><circle cx="576.1" cy="37.0" r="0.84"/><circle cx="575.5" cy="38.6" r="1.05"/><circle cx="576.9" cy="37.5" r="0.86"/><circle cx="576.8" cy="38.9" r="0.93"/><circle cx="578.2" cy="37.0" r="1.02"/><circle cx="578.6" cy="38.8" r="1.00"/><circle cx="579.8" cy="37.5" r="0.95"/><circle cx="579.9" cy="39.5" r="0.80"/><circle cx="580.7" cy="36.9" r="0.90"/><circle cx="580.7" cy="38.8" r="1.01"/><circle cx="582.5" cy="37.7" r="0.84"/><circle cx="582.5" cy="38.4" r="1.12"/><circle cx="583.5" cy="37.6" r="1.04"/><circle cx="583.4" cy="38.1" r="1.09"/></g>
<circle cx="588.6" cy="38.22" r="1.4" fill="#ff0052"/>
<path d="M394.00,53.94C394.00,53.45 394.80,52.72 395.20,52.28C395.60,51.84 396.00,51.61 396.40,51.29C396.80,50.97 397.20,50.65 397.60,50.34C398.00,50.04 398.40,49.65 398.80,49.46C399.20,49.27 399.60,49.38 400.00,49.20C400.40,49.02 400.80,48.64 401.20,48.38C401.60,48.12 402.00,47.73 402.40,47.67C402.80,47.61 403.20,47.82 403.60,48.03C404.00,48.23 404.40,48.58 404.80,48.91C405.20,49.24 405.60,49.79 406.00,50.01C406.40,50.22 406.80,50.08 407.20,50.19C407.60,50.30 408.00,50.49 408.40,50.67C408.80,50.85 409.20,51.14 409.60,51.25C410.00,51.35 410.40,51.26 410.80,51.30C411.20,51.35 411.60,51.51 412.00,51.52C412.40,51.53 412.80,51.32 413.20,51.37C413.60,51.41 414.00,51.81 414.40,51.81C414.80,51.82 415.20,51.63 415.60,51.40C416.00,51.17 416.40,50.58 416.80,50.44C417.20,50.31 417.60,50.48 418.00,50.60C418.40,50.72 418.80,50.94 419.20,51.15C419.60,51.37 420.00,51.67 420.40,51.90C420.80,52.13 421.20,52.39 421.60,52.56C422.00,52.73 422.40,52.92 422.80,52.91C423.20,52.90 423.60,52.61 424.00,52.50C424.40,52.39 424.80,52.23 425.20,52.25C425.60,52.26 426.00,52.58 426.40,52.61C426.80,52.64 427.20,52.43 427.60,52.44C428.00,52.44 428.40,52.63 428.80,52.65C429.20,52.67 429.60,52.60 430.00,52.55C430.40,52.51 430.80,52.39 431.20,52.38C431.60,52.36 432.00,52.45 432.40,52.46C432.80,52.47 433.20,52.41 433.60,52.44C434.00,52.47 434.40,52.71 434.80,52.64C435.20,52.57 435.60,52.00 436.00,52.00C436.40,51.99 436.80,52.63 437.20,52.63C437.60,52.63 438.00,52.01 438.40,52.00C438.80,52.00 439.20,52.55 439.60,52.61C440.00,52.68 440.40,52.44 440.80,52.39C441.20,52.34 441.60,52.37 442.00,52.31C442.40,52.25 442.80,52.06 443.20,52.05C443.60,52.03 444.00,52.21 444.40,52.24C444.80,52.26 445.20,52.15 445.60,52.18C446.00,52.21 446.40,52.36 446.80,52.42C447.20,52.48 447.60,52.62 448.00,52.54C448.40,52.45 448.80,51.96 449.20,51.93C449.60,51.90 450.00,52.36 450.40,52.35C450.80,52.34 451.20,51.86 451.60,51.85C452.00,51.84 452.40,52.30 452.80,52.29C453.20,52.29 453.60,51.83 454.00,51.80C454.40,51.77 454.80,52.13 455.20,52.12C455.60,52.11 456.00,51.75 456.40,51.75C456.80,51.74 457.20,52.01 457.60,52.06C458.00,52.11 458.40,52.04 458.80,52.05C459.20,52.07 459.60,52.16 460.00,52.14C460.40,52.12 460.80,51.97 461.20,51.91C461.60,51.84 462.00,51.77 462.40,51.73C462.80,51.70 463.20,51.65 463.60,51.70C464.00,51.74 464.40,51.91 464.80,52.01C465.20,52.11 465.60,52.27 466.00,52.27C466.40,52.27 466.80,52.05 467.20,52.00C467.60,51.95 468.00,51.93 468.40,51.96C468.80,51.98 469.20,52.09 469.60,52.17C470.00,52.26 470.40,52.45 470.80,52.46C471.20,52.48 471.60,52.32 472.00,52.27C472.40,52.21 472.80,52.15 473.20,52.11C473.60,52.08 474.00,52.06 474.40,52.06C474.80,52.06 475.20,52.04 475.60,52.11C476.00,52.18 476.40,52.43 476.80,52.47C477.20,52.50 477.60,52.32 478.00,52.32C478.40,52.31 478.80,52.46 479.20,52.45C479.60,52.43 480.00,52.29 480.40,52.22C480.80,52.16 481.20,52.01 481.60,52.06C482.00,52.10 482.40,52.44 482.80,52.48C483.20,52.52 483.60,52.28 484.00,52.30C484.40,52.31 484.80,52.53 485.20,52.55C485.60,52.58 486.00,52.55 486.40,52.46C486.80,52.37 487.20,52.07 487.60,52.01C488.00,51.95 488.40,52.08 488.80,52.08C489.20,52.09 489.60,52.01 490.00,52.02C490.40,52.02 490.80,52.09 491.20,52.12C491.60,52.16 492.00,52.16 492.40,52.22C492.80,52.28 493.20,52.51 493.60,52.48C494.00,52.45 494.40,52.06 494.80,52.02C495.20,51.98 495.60,52.17 496.00,52.24C496.40,52.31 496.80,52.38 497.20,52.45C497.60,52.52 498.00,52.71 498.40,52.67C498.80,52.63 499.20,52.22 499.60,52.21C500.00,52.21 500.40,52.59 500.80,52.63C501.20,52.67 501.60,52.47 502.00,52.43C502.40,52.39 502.80,52.42 503.20,52.40C503.60,52.38 504.00,52.26 504.40,52.29C504.80,52.33 505.20,52.65 505.60,52.61C506.00,52.57 506.40,52.07 506.80,52.07C507.20,52.07 507.60,52.54 508.00,52.61C508.40,52.69 508.80,52.56 509.20,52.51C509.60,52.46 510.00,52.35 510.40,52.32C510.80,52.29 511.20,52.31 511.60,52.35C512.00,52.38 512.40,52.49 512.80,52.53C513.20,52.58 513.60,52.65 514.00,52.61C514.40,52.57 514.80,52.31 515.20,52.28C515.60,52.24 516.00,52.39 516.40,52.40C516.80,52.42 517.20,52.40 517.60,52.38C518.00,52.37 518.40,52.34 518.80,52.30C519.20,52.27 519.60,52.21 520.00,52.16C520.40,52.11 520.80,51.92 521.20,52.00C521.60,52.07 522.00,52.55 522.40,52.62C522.80,52.69 523.20,52.52 523.60,52.42C524.00,52.32 524.40,52.06 524.80,52.02C525.20,51.97 525.60,52.13 526.00,52.15C526.40,52.17 526.80,52.09 527.20,52.15C527.60,52.21 528.00,52.43 528.40,52.51C528.80,52.59 529.20,52.63 529.60,52.61C530.00,52.60 530.40,52.52 530.80,52.43C531.20,52.33 531.60,52.13 532.00,52.03C532.40,51.94 532.80,51.89 533.20,51.85C533.60,51.82 534.00,51.84 534.40,51.81C534.80,51.79 535.20,51.66 535.60,51.72C536.00,51.78 536.40,52.14 536.80,52.19C537.20,52.23 537.60,52.08 538.00,52.00C538.40,51.92 538.80,51.70 539.20,51.71C539.60,51.71 540.00,52.07 540.40,52.05C540.80,52.03 541.20,51.67 541.60,51.59C542.00,51.51 542.40,51.56 542.80,51.57C543.20,51.57 543.60,51.61 544.00,51.62C544.40,51.63 544.80,51.58 545.20,51.63C545.60,51.68 546.00,51.94 546.40,51.92C546.80,51.90 547.20,51.54 547.60,51.54C548.00,51.53 548.40,51.90 548.80,51.88C549.20,51.87 549.60,51.43 550.00,51.44C550.40,51.46 550.80,51.87 551.20,51.96C551.60,52.05 552.00,51.98 552.40,51.98C552.80,51.99 553.20,51.98 553.60,51.98C554.00,51.97 554.40,51.96 554.80,51.95C555.20,51.94 555.60,51.99 556.00,51.93C556.40,51.88 556.80,51.65 557.20,51.63C557.60,51.62 558.00,51.81 558.40,51.82C558.80,51.83 559.20,51.64 559.60,51.71C560.00,51.77 560.40,52.13 560.80,52.20C561.20,52.28 561.60,52.19 562.00,52.16C562.40,52.13 562.80,51.96 563.20,52.02C563.60,52.08 564.00,52.48 564.40,52.50C564.80,52.53 565.20,52.20 565.60,52.17C566.00,52.14 566.40,52.34 566.80,52.32C567.20,52.31 567.60,52.12 568.00,52.08C568.40,52.04 568.80,51.97 569.20,52.07C569.60,52.17 570.00,52.57 570.40,52.66C570.80,52.75 571.20,52.66 571.60,52.61C572.00,52.57 572.40,52.39 572.80,52.41C573.20,52.44 573.60,52.73 574.00,52.76C574.40,52.79 574.80,52.61 575.20,52.61C575.60,52.61 576.00,52.63 576.40,52.74C576.80,52.84 577.20,53.12 577.60,53.25C578.00,53.37 578.52,53.37 578.80,53.49C579.08,53.61 579.30,53.79 579.30,53.94C579.30,54.09 579.08,54.21 578.80,54.39C578.52,54.57 578.00,54.91 577.60,55.04C577.20,55.16 576.80,55.07 576.40,55.12C576.00,55.17 575.60,55.32 575.20,55.35C574.80,55.37 574.40,55.30 574.00,55.25C573.60,55.21 573.20,55.01 572.80,55.09C572.40,55.17 572.00,55.69 571.60,55.74C571.20,55.79 570.80,55.42 570.40,55.40C570.00,55.38 569.60,55.61 569.20,55.63C568.80,55.64 568.40,55.53 568.00,55.49C567.60,55.44 567.20,55.33 566.80,55.33C566.40,55.34 566.00,55.43 565.60,55.51C565.20,55.59 564.80,55.85 564.40,55.82C564.00,55.79 563.60,55.30 563.20,55.32C562.80,55.35 562.40,55.94 562.00,55.98C561.60,56.02 561.20,55.62 560.80,55.54C560.40,55.47 560.00,55.42 559.60,55.52C559.20,55.62 558.80,56.06 558.40,56.14C558.00,56.23 557.60,56.07 557.20,56.01C556.80,55.95 556.40,55.75 556.00,55.78C555.60,55.81 555.20,56.14 554.80,56.21C554.40,56.27 554.00,56.13 553.60,56.16C553.20,56.19 552.80,56.43 552.40,56.38C552.00,56.33 551.60,55.88 551.20,55.86C550.80,55.83 550.40,56.20 550.00,56.26C549.60,56.31 549.20,56.21 548.80,56.17C548.40,56.14 548.00,55.99 547.60,56.05C547.20,56.11 546.80,56.47 546.40,56.53C546.00,56.59 545.60,56.53 545.20,56.43C544.80,56.32 544.40,56.00 544.00,55.90C543.60,55.81 543.20,55.75 542.80,55.84C542.40,55.93 542.00,56.41 541.60,56.44C541.20,56.47 540.80,56.04 540.40,56.01C540.00,55.98 539.60,56.25 539.20,56.28C538.80,56.30 538.40,56.20 538.00,56.17C537.60,56.14 537.20,56.11 536.80,56.10C536.40,56.09 536.00,56.17 535.60,56.13C535.20,56.08 534.80,55.90 534.40,55.85C534.00,55.80 533.60,55.87 533.20,55.84C532.80,55.80 532.40,55.71 532.00,55.65C531.60,55.60 531.20,55.51 530.80,55.51C530.40,55.52 530.00,55.68 529.60,55.67C529.20,55.66 528.80,55.54 528.40,55.47C528.00,55.39 527.60,55.26 527.20,55.23C526.80,55.20 526.40,55.23 526.00,55.29C525.60,55.34 525.20,55.58 524.80,55.58C524.40,55.59 524.00,55.28 523.60,55.31C523.20,55.34 522.80,55.71 522.40,55.77C522.00,55.84 521.60,55.78 521.20,55.70C520.80,55.61 520.40,55.27 520.00,55.27C519.60,55.27 519.20,55.60 518.80,55.69C518.40,55.78 518.00,55.87 517.60,55.79C517.20,55.72 516.80,55.33 516.40,55.24C516.00,55.15 515.60,55.19 515.20,55.25C514.80,55.30 514.40,55.49 514.00,55.55C513.60,55.61 513.20,55.59 512.80,55.59C512.40,55.60 512.00,55.62 511.60,55.58C511.20,55.54 510.80,55.42 510.40,55.37C510.00,55.31 509.60,55.19 509.20,55.26C508.80,55.33 508.40,55.74 508.00,55.79C507.60,55.85 507.20,55.65 506.80,55.57C506.40,55.49 506.00,55.33 505.60,55.32C505.20,55.30 504.80,55.43 504.40,55.47C504.00,55.51 503.60,55.54 503.20,55.56C502.80,55.58 502.40,55.58 502.00,55.60C501.60,55.61 501.20,55.67 500.80,55.65C500.40,55.64 500.00,55.56 499.60,55.50C499.20,55.45 498.80,55.27 498.40,55.32C498.00,55.37 497.60,55.80 497.20,55.81C496.80,55.82 496.40,55.45 496.00,55.40C495.60,55.35 495.20,55.49 494.80,55.53C494.40,55.56 494.00,55.57 493.60,55.59C493.20,55.60 492.80,55.68 492.40,55.62C492.00,55.56 491.60,55.23 491.20,55.23C490.80,55.23 490.40,55.52 490.00,55.62C489.60,55.73 489.20,55.84 488.80,55.87C488.40,55.91 488.00,55.89 487.60,55.83C487.20,55.77 486.80,55.61 486.40,55.51C486.00,55.42 485.60,55.26 485.20,55.25C484.80,55.24 484.40,55.39 484.00,55.43C483.60,55.48 483.20,55.52 482.80,55.50C482.40,55.48 482.00,55.26 481.60,55.31C481.20,55.35 480.80,55.74 480.40,55.77C480.00,55.80 479.60,55.55 479.20,55.50C478.80,55.46 478.40,55.47 478.00,55.50C477.60,55.53 477.20,55.67 476.80,55.68C476.40,55.68 476.00,55.49 475.60,55.52C475.20,55.54 474.80,55.87 474.40,55.83C474.00,55.79 473.60,55.33 473.20,55.26C472.80,55.20 472.40,55.42 472.00,55.44C471.60,55.46 471.20,55.27 470.80,55.38C470.40,55.49 470.00,56.05 469.60,56.08C469.20,56.11 468.80,55.65 468.40,55.56C468.00,55.47 467.60,55.51 467.20,55.53C466.80,55.56 466.40,55.65 466.00,55.71C465.60,55.77 465.20,55.79 464.80,55.87C464.40,55.96 464.00,56.18 463.60,56.21C463.20,56.24 462.80,56.10 462.40,56.07C462.00,56.03 461.60,56.10 461.20,56.02C460.80,55.94 460.40,55.58 460.00,55.60C459.60,55.62 459.20,56.09 458.80,56.15C458.40,56.21 458.00,56.01 457.60,55.95C457.20,55.89 456.80,55.83 456.40,55.78C456.00,55.73 455.60,55.62 455.20,55.66C454.80,55.70 454.40,55.96 454.00,56.02C453.60,56.08 453.20,56.01 452.80,56.02C452.40,56.03 452.00,56.11 451.60,56.08C451.20,56.05 450.80,55.93 450.40,55.85C450.00,55.76 449.60,55.57 449.20,55.57C448.80,55.57 448.40,55.90 448.00,55.87C447.60,55.83 447.20,55.45 446.80,55.38C446.40,55.31 446.00,55.34 445.60,55.42C445.20,55.50 444.80,55.82 444.40,55.86C444.00,55.89 443.60,55.75 443.20,55.64C442.80,55.53 442.40,55.25 442.00,55.20C441.60,55.14 441.20,55.27 440.80,55.32C440.40,55.38 440.00,55.49 439.60,55.53C439.20,55.58 438.80,55.56 438.40,55.58C438.00,55.61 437.60,55.67 437.20,55.69C436.80,55.71 436.40,55.80 436.00,55.72C435.60,55.63 435.20,55.27 434.80,55.20C434.40,55.13 434.00,55.25 433.60,55.31C433.20,55.36 432.80,55.52 432.40,55.52C432.00,55.51 431.60,55.24 431.20,55.27C430.80,55.30 430.40,55.66 430.00,55.68C429.60,55.70 429.20,55.44 428.80,55.39C428.40,55.33 428.00,55.33 427.60,55.33C427.20,55.34 426.80,55.34 426.40,55.39C426.00,55.45 425.60,55.70 425.20,55.68C424.80,55.66 424.40,55.34 424.00,55.28C423.60,55.22 423.20,55.29 422.80,55.32C422.40,55.35 422.00,55.30 421.60,55.47C421.20,55.63 420.80,56.06 420.40,56.32C420.00,56.58 419.60,56.79 419.20,57.02C418.80,57.25 418.40,57.69 418.00,57.69C417.60,57.69 417.20,57.24 416.80,57.03C416.40,56.82 416.00,56.59 415.60,56.43C415.20,56.27 414.80,56.06 414.40,56.07C414.00,56.08 413.60,56.46 413.20,56.49C412.80,56.52 412.40,56.25 412.00,56.24C411.60,56.23 411.20,56.33 410.80,56.43C410.40,56.53 410.00,56.74 409.60,56.84C409.20,56.94 408.80,56.90 408.40,57.00C408.00,57.11 407.60,57.28 407.20,57.46C406.80,57.63 406.40,57.81 406.00,58.07C405.60,58.34 405.20,58.83 404.80,59.04C404.40,59.26 404.00,59.25 403.60,59.35C403.20,59.45 402.80,59.61 402.40,59.65C402.00,59.68 401.60,59.65 401.20,59.56C400.80,59.47 400.40,59.34 400.00,59.13C399.60,58.92 399.20,58.55 398.80,58.30C398.40,58.04 398.00,57.91 397.60,57.60C397.20,57.29 396.80,56.82 396.40,56.42C396.00,56.03 395.60,55.65 395.20,55.23C394.80,54.82 394.00,54.43 394.00,53.94Z" fill="url(#g5)"/>
<g fill="url(#g5)"><circle cx="394.3" cy="53.5" r="0.92"/><circle cx="394.3" cy="53.9" r="1.15"/><circle cx="395.7" cy="53.1" r="1.03"/><circle cx="395.7" cy="55.1" r="0.98"/><circle cx="397.5" cy="51.1" r="0.98"/><circle cx="397.2" cy="56.7" r="0.81"/><circle cx="398.7" cy="50.5" r="1.11"/><circle cx="398.4" cy="57.1" r="1.02"/><circle cx="400.1" cy="49.4" r="1.08"/><circle cx="399.7" cy="58.4" r="1.04"/><circle cx="401.1" cy="49.0" r="1.06"/><circle cx="401.1" cy="58.7" r="0.92"/><circle cx="402.3" cy="48.8" r="0.82"/><circle cx="402.4" cy="58.9" r="1.15"/><circle cx="403.5" cy="49.1" r="0.89"/><circle cx="403.4" cy="59.3" r="0.85"/><circle cx="405.0" cy="49.8" r="0.96"/><circle cx="404.8" cy="57.6" r="0.91"/><circle cx="406.2" cy="50.5" r="0.91"/><circle cx="406.6" cy="56.9" r="0.99"/><circle cx="407.7" cy="51.8" r="1.12"/><circle cx="407.7" cy="57.1" r="0.86"/><circle cx="409.1" cy="51.5" r="0.92"/><circle cx="408.6" cy="56.3" r="1.10"/><circle cx="410.0" cy="52.2" r="1.11"/><circle cx="410.0" cy="55.9" r="0.81"/><circle cx="411.3" cy="52.2" r="1.05"/><circle cx="411.6" cy="56.2" r="0.87"/><circle cx="412.6" cy="52.0" r="1.03"/><circle cx="412.9" cy="55.1" r="1.14"/><circle cx="414.4" cy="52.6" r="1.08"/><circle cx="413.9" cy="55.7" r="0.85"/><circle cx="415.5" cy="51.9" r="1.11"/><circle cx="415.3" cy="56.0" r="0.87"/><circle cx="416.6" cy="51.4" r="1.03"/><circle cx="416.4" cy="56.3" r="0.92"/><circle cx="418.1" cy="51.2" r="0.82"/><circle cx="418.1" cy="56.4" r="0.97"/><circle cx="419.0" cy="51.3" r="0.96"/><circle cx="419.6" cy="55.7" r="1.00"/><circle cx="420.8" cy="52.9" r="1.01"/><circle cx="420.4" cy="55.0" r="0.83"/><circle cx="421.6" cy="53.1" r="1.07"/><circle cx="421.9" cy="54.6" r="0.95"/><circle cx="423.3" cy="53.3" r="0.99"/><circle cx="423.4" cy="54.3" r="0.92"/><circle cx="424.7" cy="53.0" r="1.05"/><circle cx="424.7" cy="55.2" r="0.91"/><circle cx="425.6" cy="53.1" r="0.96"/><circle cx="425.5" cy="54.2" r="1.13"/><circle cx="427.2" cy="52.8" r="0.97"/><circle cx="427.4" cy="54.6" r="0.93"/><circle cx="428.1" cy="53.6" r="1.06"/><circle cx="428.1" cy="54.9" r="0.85"/><circle cx="429.5" cy="52.6" r="0.99"/><circle cx="429.5" cy="54.5" r="0.93"/><circle cx="431.3" cy="53.5" r="1.06"/><circle cx="431.2" cy="54.7" r="0.81"/><circle cx="432.3" cy="53.1" r="1.14"/><circle cx="432.5" cy="54.8" r="0.92"/><circle cx="433.9" cy="53.4" r="0.91"/><circle cx="433.3" cy="54.9" r="1.06"/><circle cx="435.2" cy="53.5" r="0.94"/><circle cx="434.8" cy="55.2" r="1.00"/><circle cx="436.3" cy="53.5" r="1.13"/><circle cx="436.0" cy="54.8" r="0.89"/><circle cx="437.3" cy="52.7" r="0.88"/><circle cx="437.4" cy="55.3" r="1.02"/><circle cx="438.8" cy="53.3" r="0.88"/><circle cx="439.1" cy="54.5" r="1.10"/><circle cx="440.3" cy="53.4" r="1.06"/><circle cx="440.1" cy="55.2" r="0.92"/><circle cx="441.5" cy="52.9" r="0.86"/><circle cx="441.5" cy="55.2" r="0.96"/><circle cx="443.0" cy="53.1" r="0.87"/><circle cx="443.0" cy="54.4" r="1.07"/><circle cx="444.3" cy="53.4" r="1.10"/><circle cx="443.7" cy="55.4" r="0.81"/><circle cx="445.6" cy="53.3" r="0.80"/><circle cx="445.0" cy="54.5" r="1.06"/><circle cx="446.3" cy="53.2" r="1.04"/><circle cx="446.8" cy="55.2" r="1.12"/><circle cx="447.6" cy="53.3" r="1.14"/><circle cx="448.0" cy="54.4" r="1.08"/><circle cx="449.0" cy="53.0" r="0.98"/><circle cx="448.9" cy="55.6" r="0.84"/><circle cx="450.8" cy="53.2" r="0.91"/><circle cx="450.2" cy="55.0" r="0.97"/><circle cx="451.9" cy="53.1" r="0.86"/><circle cx="451.8" cy="54.6" r="1.06"/><circle cx="453.1" cy="52.3" r="0.92"/><circle cx="452.9" cy="55.6" r="0.92"/><circle cx="454.6" cy="53.1" r="1.11"/><circle cx="454.2" cy="54.8" r="0.86"/><circle cx="455.7" cy="52.7" r="0.82"/><circle cx="455.6" cy="54.7" r="0.99"/><circle cx="457.1" cy="52.7" r="1.04"/><circle cx="457.1" cy="55.6" r="0.99"/><circle cx="458.5" cy="52.9" r="1.11"/><circle cx="458.2" cy="55.7" r="0.91"/><circle cx="459.5" cy="52.8" r="0.94"/><circle cx="459.9" cy="54.8" r="0.85"/><circle cx="461.2" cy="53.0" r="1.01"/><circle cx="460.8" cy="54.9" r="1.01"/><circle cx="461.9" cy="52.3" r="0.87"/><circle cx="462.5" cy="54.7" r="1.07"/><circle cx="463.4" cy="52.6" r="1.04"/><circle cx="463.4" cy="55.6" r="0.99"/><circle cx="465.0" cy="52.3" r="0.80"/><circle cx="464.9" cy="55.6" r="0.98"/><circle cx="466.2" cy="52.5" r="0.88"/><circle cx="466.2" cy="55.0" r="0.93"/><circle cx="467.5" cy="52.6" r="0.98"/><circle cx="467.5" cy="55.2" r="0.91"/><circle cx="468.8" cy="53.0" r="0.88"/><circle cx="468.7" cy="55.2" r="1.12"/><circle cx="470.0" cy="53.2" r="0.98"/><circle cx="470.3" cy="55.1" r="0.85"/><circle cx="471.3" cy="52.6" r="0.98"/><circle cx="471.1" cy="55.3" r="0.88"/><circle cx="472.7" cy="52.6" r="0.96"/><circle cx="472.9" cy="54.3" r="1.11"/><circle cx="474.1" cy="52.7" r="0.93"/><circle cx="473.7" cy="54.7" r="0.84"/><circle cx="475.1" cy="52.6" r="0.84"/><circle cx="475.2" cy="54.4" r="0.98"/><circle cx="476.8" cy="52.8" r="0.94"/><circle cx="476.5" cy="55.1" r="0.96"/><circle cx="477.6" cy="52.9" r="1.07"/><circle cx="477.8" cy="54.6" r="0.93"/><circle cx="479.0" cy="53.2" r="0.93"/><circle cx="478.9" cy="55.0" r="0.81"/><circle cx="480.2" cy="52.7" r="0.82"/><circle cx="480.3" cy="54.6" r="0.90"/><circle cx="481.4" cy="53.0" r="1.09"/><circle cx="481.5" cy="54.6" r="1.10"/><circle cx="483.1" cy="53.3" r="1.08"/><circle cx="483.0" cy="54.8" r="0.82"/><circle cx="484.2" cy="53.2" r="1.05"/><circle cx="484.5" cy="54.6" r="1.03"/><circle cx="485.7" cy="52.6" r="0.93"/><circle cx="485.9" cy="55.1" r="0.87"/><circle cx="487.0" cy="53.2" r="0.93"/><circle cx="487.1" cy="54.8" r="0.82"/><circle cx="488.2" cy="52.7" r="0.98"/><circle cx="487.9" cy="54.8" r="1.06"/><circle cx="489.5" cy="52.7" r="0.96"/><circle cx="489.5" cy="55.2" r="0.95"/><circle cx="490.8" cy="53.0" r="0.95"/><circle cx="490.9" cy="55.0" r="1.09"/><circle cx="491.8" cy="52.9" r="0.94"/><circle cx="492.3" cy="55.1" r="0.99"/><circle cx="493.2" cy="53.4" r="0.84"/><circle cx="493.1" cy="54.3" r="1.09"/><circle cx="494.7" cy="53.6" r="1.06"/><circle cx="494.8" cy="54.7" r="1.04"/><circle cx="496.1" cy="53.0" r="0.82"/><circle cx="496.3" cy="55.1" r="1.00"/><circle cx="497.1" cy="53.3" r="1.11"/><circle cx="497.0" cy="55.3" r="0.98"/><circle cx="498.4" cy="53.2" r="0.90"/><circle cx="498.9" cy="54.9" r="0.89"/><circle cx="499.8" cy="53.5" r="0.98"/><circle cx="500.2" cy="55.2" r="0.91"/><circle cx="501.0" cy="53.5" r="1.10"/><circle cx="501.2" cy="54.8" r="0.82"/><circle cx="502.5" cy="53.0" r="0.96"/><circle cx="502.7" cy="54.5" r="0.93"/><circle cx="503.8" cy="53.6" r="1.12"/><circle cx="503.8" cy="54.8" r="0.91"/><circle cx="505.0" cy="53.3" r="1.00"/><circle cx="505.0" cy="54.9" r="1.08"/><circle cx="506.5" cy="53.2" r="1.08"/><circle cx="506.4" cy="55.1" r="1.13"/><circle cx="507.7" cy="52.8" r="0.82"/><circle cx="508.0" cy="54.5" r="0.82"/><circle cx="508.8" cy="52.7" r="1.01"/><circle cx="509.2" cy="54.8" r="1.00"/><circle cx="510.4" cy="53.3" r="1.04"/><circle cx="510.5" cy="54.5" r="0.87"/><circle cx="511.4" cy="53.6" r="1.12"/><circle cx="511.8" cy="55.4" r="0.83"/><circle cx="513.0" cy="53.3" r="0.95"/><circle cx="513.0" cy="54.4" r="1.12"/><circle cx="514.3" cy="53.4" r="0.82"/><circle cx="514.1" cy="54.5" r="1.09"/><circle cx="515.4" cy="53.0" r="1.00"/><circle cx="515.8" cy="54.7" r="0.85"/><circle cx="516.6" cy="52.9" r="1.09"/><circle cx="516.7" cy="54.2" r="1.14"/><circle cx="518.2" cy="53.3" r="0.93"/><circle cx="517.8" cy="54.8" r="0.99"/><circle cx="519.4" cy="52.9" r="1.05"/><circle cx="519.6" cy="54.5" r="0.84"/><circle cx="521.0" cy="52.7" r="1.12"/><circle cx="520.6" cy="54.6" r="0.98"/><circle cx="522.0" cy="52.7" r="1.06"/><circle cx="522.0" cy="55.3" r="0.83"/><circle cx="523.3" cy="53.5" r="1.01"/><circle cx="523.1" cy="55.3" r="0.85"/><circle cx="524.4" cy="52.7" r="1.10"/><circle cx="524.7" cy="55.4" r="0.81"/><circle cx="526.2" cy="52.9" r="0.92"/><circle cx="525.8" cy="54.9" r="0.82"/><circle cx="527.4" cy="53.3" r="0.89"/><circle cx="527.1" cy="54.3" r="1.08"/><circle cx="528.2" cy="53.0" r="1.00"/><circle cx="528.6" cy="54.7" r="1.08"/><circle cx="529.8" cy="53.3" r="0.81"/><circle cx="529.5" cy="54.9" r="1.03"/><circle cx="531.0" cy="52.7" r="0.92"/><circle cx="530.9" cy="55.5" r="0.86"/><circle cx="532.6" cy="52.5" r="0.92"/><circle cx="532.2" cy="54.6" r="0.97"/><circle cx="533.4" cy="52.9" r="1.11"/><circle cx="533.4" cy="55.0" r="0.99"/><circle cx="535.0" cy="52.7" r="0.86"/><circle cx="534.8" cy="55.0" r="0.93"/><circle cx="536.0" cy="52.9" r="0.87"/><circle cx="536.3" cy="55.5" r="1.11"/><circle cx="537.9" cy="52.5" r="0.81"/><circle cx="537.6" cy="55.4" r="1.08"/><circle cx="539.1" cy="52.9" r="0.88"/><circle cx="538.6" cy="55.3" r="0.89"/><circle cx="540.1" cy="52.1" r="0.98"/><circle cx="540.3" cy="55.2" r="0.83"/><circle cx="541.7" cy="52.3" r="1.01"/><circle cx="541.3" cy="55.6" r="0.82"/><circle cx="542.5" cy="52.5" r="1.14"/><circle cx="543.0" cy="55.2" r="1.04"/><circle cx="544.1" cy="52.1" r="1.08"/><circle cx="544.4" cy="55.5" r="0.80"/><circle cx="545.1" cy="52.6" r="0.94"/><circle cx="545.5" cy="55.1" r="1.06"/><circle cx="546.4" cy="52.6" r="0.92"/><circle cx="546.6" cy="56.0" r="0.88"/><circle cx="548.2" cy="52.5" r="1.15"/><circle cx="548.2" cy="55.9" r="0.97"/><circle cx="549.4" cy="52.8" r="1.06"/><circle cx="549.5" cy="55.7" r="1.02"/><circle cx="550.8" cy="52.5" r="0.83"/><circle cx="550.9" cy="55.7" r="0.86"/><circle cx="551.6" cy="52.2" r="1.06"/><circle cx="552.2" cy="55.6" r="1.13"/><circle cx="553.4" cy="52.5" r="1.09"/><circle cx="553.4" cy="55.7" r="0.95"/><circle cx="554.4" cy="52.2" r="1.10"/><circle cx="554.8" cy="55.0" r="0.99"/><circle cx="556.0" cy="52.9" r="1.14"/><circle cx="555.6" cy="54.9" r="1.09"/><circle cx="556.9" cy="52.6" r="0.96"/><circle cx="557.2" cy="55.4" r="1.12"/><circle cx="558.6" cy="52.4" r="0.94"/><circle cx="558.7" cy="55.5" r="1.04"/><circle cx="559.4" cy="52.6" r="0.94"/><circle cx="559.6" cy="55.1" r="1.09"/><circle cx="561.2" cy="53.4" r="1.09"/><circle cx="560.7" cy="54.7" r="0.97"/><circle cx="562.2" cy="52.9" r="1.08"/><circle cx="562.2" cy="54.7" r="0.96"/><circle cx="563.8" cy="52.8" r="0.92"/><circle cx="563.3" cy="54.7" r="0.90"/><circle cx="564.9" cy="52.9" r="1.05"/><circle cx="564.6" cy="55.0" r="1.08"/><circle cx="566.4" cy="53.2" r="0.81"/><circle cx="566.5" cy="54.8" r="0.90"/><circle cx="567.8" cy="52.9" r="0.88"/><circle cx="567.4" cy="54.7" r="1.11"/><circle cx="568.8" cy="52.7" r="1.13"/><circle cx="569.0" cy="54.6" r="0.87"/><circle cx="569.8" cy="53.4" r="0.98"/><circle cx="570.1" cy="55.0" r="1.13"/><circle cx="571.3" cy="53.5" r="0.89"/><circle cx="571.7" cy="54.7" r="0.99"/><circle cx="573.0" cy="52.8" r="0.93"/><circle cx="572.4" cy="54.8" r="1.03"/><circle cx="574.3" cy="53.4" r="0.96"/><circle cx="574.1" cy="54.5" r="1.03"/><circle cx="575.4" cy="52.9" r="0.98"/><circle cx="575.2" cy="55.0" r="0.97"/><circle cx="576.8" cy="53.1" r="0.82"/><circle cx="576.6" cy="54.7" r="1.00"/></g>
<circle cx="581.6" cy="53.94" r="1.3" fill="#ff0052"/>
<circle cx="588.8" cy="53.94" r="1.4" fill="#ff0052"/>
<path d="M415.50,69.66C415.50,68.96 416.17,68.20 416.50,67.53C416.83,66.85 417.17,66.24 417.50,65.61C417.83,64.98 418.17,64.15 418.50,63.73C418.83,63.31 419.17,62.94 419.50,63.09C419.83,63.24 420.17,63.97 420.50,64.66C420.83,65.35 421.17,66.77 421.50,67.23C421.83,67.68 422.17,67.38 422.50,67.39C422.83,67.39 423.17,67.30 423.50,67.27C423.83,67.24 424.17,67.19 424.50,67.18C424.83,67.17 425.17,67.26 425.50,67.23C425.83,67.20 426.17,67.04 426.50,67.01C426.83,66.98 427.17,67.01 427.50,67.04C427.83,67.07 428.17,67.18 428.50,67.17C428.83,67.16 429.17,67.00 429.50,67.00C429.83,67.00 430.17,67.16 430.50,67.17C430.83,67.19 431.17,67.13 431.50,67.11C431.83,67.09 432.17,67.03 432.50,67.07C432.83,67.12 433.17,67.38 433.50,67.39C433.83,67.40 434.17,67.17 434.50,67.14C434.83,67.12 435.17,67.18 435.50,67.25C435.83,67.32 436.17,67.48 436.50,67.56C436.83,67.64 437.17,67.71 437.50,67.72C437.83,67.73 438.17,67.56 438.50,67.62C438.83,67.68 439.17,68.02 439.50,68.09C439.83,68.16 440.17,67.93 440.50,68.02C440.83,68.11 441.17,68.37 441.50,68.63C441.83,68.88 442.32,69.36 442.50,69.53C442.68,69.71 442.60,69.62 442.60,69.66C442.60,69.70 442.68,69.60 442.50,69.79C442.32,69.97 441.83,70.54 441.50,70.74C441.17,70.94 440.83,70.91 440.50,71.00C440.17,71.09 439.83,71.16 439.50,71.28C439.17,71.40 438.83,71.64 438.50,71.70C438.17,71.76 437.83,71.64 437.50,71.63C437.17,71.62 436.83,71.62 436.50,71.66C436.17,71.69 435.83,71.80 435.50,71.84C435.17,71.88 434.83,71.85 434.50,71.89C434.17,71.93 433.83,72.05 433.50,72.08C433.17,72.11 432.83,72.03 432.50,72.07C432.17,72.11 431.83,72.31 431.50,72.31C431.17,72.32 430.83,72.10 430.50,72.10C430.17,72.10 429.83,72.27 429.50,72.32C429.17,72.36 428.83,72.40 428.50,72.38C428.17,72.37 427.83,72.26 427.50,72.23C427.17,72.19 426.83,72.21 426.50,72.18C426.17,72.14 425.83,72.08 425.50,72.04C425.17,72.01 424.83,71.97 424.50,71.95C424.17,71.93 423.83,71.88 423.50,71.91C423.17,71.93 422.83,72.08 422.50,72.08C422.17,72.07 421.83,71.42 421.50,71.88C421.17,72.34 420.83,74.12 420.50,74.84C420.17,75.56 419.83,76.09 419.50,76.21C419.17,76.32 418.83,75.98 418.50,75.51C418.17,75.05 417.83,74.05 417.50,73.42C417.17,72.79 416.83,72.36 416.50,71.73C416.17,71.10 415.50,70.36 415.50,69.66Z" fill="url(#g6)"/>
<g fill="url(#g6)"><circle cx="415.9" cy="69.0" r="0.84"/><circle cx="416.4" cy="70.1" r="0.93"/><circle cx="417.5" cy="67.1" r="0.87"/><circle cx="417.3" cy="72.4" r="1.09"/><circle cx="418.1" cy="64.5" r="0.91"/><circle cx="418.3" cy="74.7" r="0.96"/><circle cx="419.2" cy="64.1" r="1.06"/><circle cx="419.4" cy="75.1" r="1.12"/><circle cx="420.3" cy="65.0" r="1.02"/><circle cx="420.7" cy="74.2" r="0.81"/><circle cx="421.9" cy="68.2" r="0.92"/><circle cx="421.3" cy="71.4" r="0.89"/><circle cx="422.8" cy="68.2" r="1.06"/><circle cx="422.4" cy="71.0" r="1.08"/><circle cx="424.1" cy="67.9" r="1.03"/><circle cx="424.0" cy="71.1" r="1.04"/><circle cx="425.1" cy="68.3" r="1.13"/><circle cx="425.1" cy="71.2" r="0.94"/><circle cx="426.3" cy="67.8" r="0.87"/><circle cx="426.1" cy="71.8" r="0.98"/><circle cx="427.0" cy="68.3" r="0.85"/><circle cx="427.1" cy="71.8" r="0.94"/><circle cx="428.3" cy="68.0" r="1.03"/><circle cx="428.0" cy="71.8" r="1.00"/><circle cx="429.5" cy="68.2" r="1.08"/><circle cx="429.5" cy="71.5" r="1.04"/><circle cx="430.7" cy="67.7" r="1.11"/><circle cx="430.5" cy="71.8" r="1.09"/><circle cx="431.6" cy="67.6" r="0.85"/><circle cx="431.3" cy="71.0" r="1.01"/><circle cx="432.8" cy="68.2" r="1.01"/><circle cx="432.4" cy="71.1" r="0.87"/><circle cx="434.0" cy="67.7" r="1.04"/><circle cx="433.8" cy="70.9" r="0.93"/><circle cx="434.7" cy="68.6" r="1.09"/><circle cx="434.5" cy="71.0" r="1.02"/><circle cx="435.9" cy="68.0" r="0.82"/><circle cx="435.6" cy="71.5" r="1.08"/><circle cx="436.8" cy="68.1" r="0.84"/><circle cx="436.9" cy="71.1" r="0.92"/><circle cx="438.3" cy="68.7" r="0.88"/><circle cx="438.3" cy="70.8" r="1.09"/><circle cx="439.4" cy="69.0" r="0.81"/><circle cx="439.1" cy="70.2" r="0.98"/><circle cx="440.5" cy="68.8" r="1.02"/><circle cx="440.3" cy="70.6" r="0.94"/><circle cx="441.7" cy="68.7" r="0.88"/><circle cx="441.7" cy="69.8" r="1.08"/></g>
<circle cx="419.5" cy="64.5" r="1.25" fill="#6f62e6"/>
<circle cx="420.1" cy="65.8" r="1.1" fill="#8a4bdc"/>
<circle cx="419.5" cy="74.9" r="1.25" fill="#6f62e6"/>
<circle cx="420.1" cy="73.6" r="1.1" fill="#8a4bdc"/>
<path d="M415.70,85.38C415.70,84.72 416.37,83.94 416.70,83.21C417.03,82.48 417.37,81.65 417.70,80.99C418.03,80.33 418.37,79.59 418.70,79.25C419.03,78.90 419.37,78.65 419.70,78.92C420.03,79.18 420.37,80.16 420.70,80.84C421.03,81.53 421.37,82.64 421.70,83.04C422.03,83.43 422.37,83.21 422.70,83.20C423.03,83.20 423.37,83.03 423.70,83.01C424.03,82.99 424.37,83.07 424.70,83.07C425.03,83.07 425.37,83.06 425.70,83.01C426.03,82.96 426.37,82.87 426.70,82.80C427.03,82.73 427.37,82.63 427.70,82.61C428.03,82.59 428.37,82.65 428.70,82.69C429.03,82.73 429.37,82.77 429.70,82.85C430.03,82.94 430.37,83.12 430.70,83.19C431.03,83.26 431.37,83.27 431.70,83.28C432.03,83.30 432.37,83.19 432.70,83.27C433.03,83.34 433.37,83.58 433.70,83.71C434.03,83.85 434.37,84.00 434.70,84.06C435.03,84.12 435.37,83.88 435.70,84.08C436.03,84.28 436.52,85.04 436.70,85.25C436.88,85.47 436.80,85.34 436.80,85.38C436.80,85.42 436.88,85.33 436.70,85.51C436.52,85.68 436.03,86.18 435.70,86.41C435.37,86.64 435.03,86.78 434.70,86.89C434.37,87.00 434.03,86.99 433.70,87.08C433.37,87.18 433.03,87.34 432.70,87.46C432.37,87.58 432.03,87.79 431.70,87.82C431.37,87.85 431.03,87.62 430.70,87.63C430.37,87.65 430.03,87.84 429.70,87.91C429.37,87.98 429.03,88.03 428.70,88.06C428.37,88.08 428.03,88.06 427.70,88.06C427.37,88.05 427.03,88.06 426.70,88.02C426.37,87.97 426.03,87.80 425.70,87.78C425.37,87.76 425.03,87.90 424.70,87.89C424.37,87.88 424.03,87.74 423.70,87.72C423.37,87.70 423.03,87.78 422.70,87.77C422.37,87.77 422.03,87.33 421.70,87.68C421.37,88.02 421.03,89.18 420.70,89.86C420.37,90.53 420.03,91.45 419.70,91.74C419.37,92.03 419.03,91.95 418.70,91.60C418.37,91.25 418.03,90.37 417.70,89.63C417.37,88.90 417.03,87.90 416.70,87.19C416.37,86.48 415.70,86.04 415.70,85.38Z" fill="url(#g7)"/>
<g fill="url(#g7)"><circle cx="416.1" cy="84.8" r="0.82"/><circle cx="416.5" cy="85.9" r="1.11"/><circle cx="417.1" cy="82.9" r="0.84"/><circle cx="417.4" cy="88.6" r="1.07"/><circle cx="418.7" cy="80.2" r="1.12"/><circle cx="418.2" cy="90.2" r="1.09"/><circle cx="419.6" cy="80.0" r="1.00"/><circle cx="419.3" cy="91.6" r="0.89"/><circle cx="421.0" cy="81.1" r="1.05"/><circle cx="420.9" cy="89.1" r="0.95"/><circle cx="422.0" cy="84.2" r="1.08"/><circle cx="421.6" cy="87.2" r="0.80"/><circle cx="422.6" cy="83.4" r="0.93"/><circle cx="422.9" cy="86.4" r="1.08"/><circle cx="424.0" cy="84.3" r="1.11"/><circle cx="424.1" cy="87.5" r="0.91"/><circle cx="425.2" cy="83.9" r="0.97"/><circle cx="425.4" cy="87.0" r="0.89"/><circle cx="426.3" cy="83.9" r="0.84"/><circle cx="426.2" cy="87.3" r="0.87"/><circle cx="427.4" cy="83.6" r="1.02"/><circle cx="427.5" cy="86.9" r="0.82"/><circle cx="428.3" cy="83.4" r="0.96"/><circle cx="428.2" cy="87.3" r="1.05"/><circle cx="429.5" cy="84.1" r="1.04"/><circle cx="429.6" cy="86.6" r="1.12"/><circle cx="430.9" cy="83.9" r="0.88"/><circle cx="430.8" cy="87.4" r="0.94"/><circle cx="431.9" cy="84.3" r="1.02"/><circle cx="432.0" cy="87.3" r="0.83"/><circle cx="432.5" cy="84.3" r="0.81"/><circle cx="432.6" cy="86.7" r="1.13"/><circle cx="434.0" cy="84.1" r="1.13"/><circle cx="433.7" cy="85.9" r="0.89"/><circle cx="434.7" cy="84.3" r="1.06"/><circle cx="434.8" cy="86.3" r="1.05"/></g>
<circle cx="419.5" cy="80.1" r="1.25" fill="#6f62e6"/>
<circle cx="420.1" cy="81.4" r="1.1" fill="#8a4bdc"/>
<circle cx="419.5" cy="90.7" r="1.25" fill="#6f62e6"/>
<circle cx="420.1" cy="89.4" r="1.1" fill="#8a4bdc"/>
<path d="M415.70,101.10C415.70,100.46 416.37,99.96 416.70,99.26C417.03,98.55 417.37,97.62 417.70,96.86C418.03,96.10 418.37,95.08 418.70,94.69C419.03,94.30 419.37,94.24 419.70,94.52C420.03,94.80 420.37,95.66 420.70,96.36C421.03,97.06 421.37,98.32 421.70,98.72C422.03,99.12 422.37,98.74 422.70,98.76C423.03,98.79 423.37,98.90 423.70,98.87C424.03,98.84 424.37,98.64 424.70,98.58C425.03,98.53 425.37,98.56 425.70,98.54C426.03,98.53 426.37,98.49 426.70,98.49C427.03,98.49 427.37,98.50 427.70,98.54C428.03,98.59 428.37,98.70 428.70,98.78C429.03,98.86 429.37,98.90 429.70,99.03C430.03,99.16 430.37,99.45 430.70,99.56C431.03,99.68 431.37,99.52 431.70,99.70C432.03,99.87 432.47,100.37 432.70,100.60C432.93,100.83 433.10,100.93 433.10,101.10C433.10,101.27 432.93,101.39 432.70,101.60C432.47,101.81 432.03,102.18 431.70,102.33C431.37,102.48 431.03,102.40 430.70,102.51C430.37,102.62 430.03,102.87 429.70,103.00C429.37,103.13 429.03,103.17 428.70,103.28C428.37,103.39 428.03,103.62 427.70,103.65C427.37,103.67 427.03,103.45 426.70,103.42C426.37,103.40 426.03,103.48 425.70,103.50C425.37,103.52 425.03,103.54 424.70,103.51C424.37,103.48 424.03,103.32 423.70,103.32C423.37,103.32 423.03,103.48 422.70,103.52C422.37,103.55 422.03,103.13 421.70,103.53C421.37,103.94 421.03,105.19 420.70,105.94C420.37,106.69 420.03,107.76 419.70,108.02C419.37,108.28 419.03,107.92 418.70,107.52C418.37,107.12 418.03,106.35 417.70,105.61C417.37,104.88 417.03,103.84 416.70,103.08C416.37,102.33 415.70,101.74 415.70,101.10Z" fill="url(#g8)"/>
<g fill="url(#g8)"><circle cx="416.0" cy="100.2" r="0.92"/><circle cx="416.5" cy="101.2" r="1.10"/><circle cx="417.3" cy="98.0" r="0.93"/><circle cx="417.5" cy="104.4" r="0.85"/><circle cx="418.2" cy="96.3" r="1.07"/><circle cx="418.6" cy="106.6" r="0.84"/><circle cx="419.6" cy="95.1" r="0.98"/><circle cx="419.7" cy="107.6" r="1.01"/><circle cx="420.9" cy="96.8" r="1.06"/><circle cx="420.9" cy="104.5" r="1.09"/><circle cx="422.0" cy="99.6" r="1.04"/><circle cx="421.6" cy="103.1" r="1.11"/><circle cx="423.0" cy="99.7" r="0.95"/><circle cx="422.8" cy="102.6" r="0.91"/><circle cx="424.0" cy="98.8" r="0.83"/><circle cx="424.3" cy="103.0" r="1.03"/><circle cx="425.4" cy="99.1" r="1.09"/><circle cx="424.9" cy="102.9" r="0.90"/><circle cx="426.0" cy="98.8" r="0.81"/><circle cx="426.1" cy="103.1" r="1.12"/><circle cx="427.6" cy="99.1" r="1.07"/><circle cx="427.0" cy="103.1" r="0.99"/><circle cx="428.5" cy="99.6" r="0.91"/><circle cx="428.7" cy="102.4" r="0.99"/><circle cx="429.6" cy="99.7" r="0.99"/><circle cx="429.4" cy="102.8" r="1.13"/><circle cx="430.9" cy="100.7" r="1.04"/><circle cx="430.5" cy="102.4" r="0.87"/><circle cx="431.5" cy="100.3" r="0.80"/><circle cx="431.5" cy="101.4" r="1.15"/></g>
<circle cx="419.5" cy="95.4" r="1.25" fill="#6f62e6"/>
<circle cx="420.1" cy="96.7" r="1.1" fill="#8a4bdc"/>
<circle cx="419.5" cy="106.8" r="1.25" fill="#6f62e6"/>
<circle cx="420.1" cy="105.5" r="1.1" fill="#8a4bdc"/>
<line x1="386.00" y1="209.40" x2="619.50" y2="209.40" stroke="#dadada" stroke-width="0.8" stroke-dasharray="0.7 1.05"/>
<line x1="386.00" y1="225.64" x2="619.50" y2="225.64" stroke="#dadada" stroke-width="0.8" stroke-dasharray="0.7 1.05"/>
<line x1="386.00" y1="241.88" x2="619.50" y2="241.88" stroke="#dadada" stroke-width="0.8" stroke-dasharray="0.7 1.05"/>
<line x1="386.00" y1="258.12" x2="619.50" y2="258.12" stroke="#dadada" stroke-width="0.8" stroke-dasharray="0.7 1.05"/>
<line x1="386.00" y1="274.36" x2="619.50" y2="274.36" stroke="#dadada" stroke-width="0.8" stroke-dasharray="0.7 1.05"/>
<line x1="386.00" y1="290.60" x2="619.50" y2="290.60" stroke="#dadada" stroke-width="0.8" stroke-dasharray="0.7 1.05"/>
<line x1="419.50" y1="192.90" x2="419.50" y2="306.90" stroke="#999" stroke-width="1.25" />
<line x1="386.00" y1="306.90" x2="619.80" y2="306.90" stroke="#858585" stroke-width="1.35" />
<line x1="386.20" y1="306.90" x2="386.20" y2="309.50" stroke="#858585" stroke-width="1.2" />
<text x="386.20" y="324.40" font-size="16.3" text-anchor="middle" fill="#1a1a1a" >-0.3</text>
<line x1="419.50" y1="306.90" x2="419.50" y2="309.50" stroke="#858585" stroke-width="1.2" />
<text x="419.50" y="324.40" font-size="16.3" text-anchor="middle" fill="#1a1a1a" >0.0</text>
<line x1="452.80" y1="306.90" x2="452.80" y2="309.50" stroke="#858585" stroke-width="1.2" />
<text x="452.80" y="324.40" font-size="16.3" text-anchor="middle" fill="#1a1a1a" >0.3</text>
<line x1="486.10" y1="306.90" x2="486.10" y2="309.50" stroke="#858585" stroke-width="1.2" />
<text x="486.10" y="324.40" font-size="16.3" text-anchor="middle" fill="#1a1a1a" >0.6</text>
<line x1="519.40" y1="306.90" x2="519.40" y2="309.50" stroke="#858585" stroke-width="1.2" />
<text x="519.40" y="324.40" font-size="16.3" text-anchor="middle" fill="#1a1a1a" >0.9</text>
<line x1="552.70" y1="306.90" x2="552.70" y2="309.50" stroke="#858585" stroke-width="1.2" />
<text x="552.70" y="324.40" font-size="16.3" text-anchor="middle" fill="#1a1a1a" >1.2</text>
<line x1="586.00" y1="306.90" x2="586.00" y2="309.50" stroke="#858585" stroke-width="1.2" />
<text x="586.00" y="324.40" font-size="16.3" text-anchor="middle" fill="#1a1a1a" >1.5</text>
<line x1="619.30" y1="306.90" x2="619.30" y2="309.50" stroke="#858585" stroke-width="1.2" />
<text x="619.30" y="324.40" font-size="16.3" text-anchor="middle" fill="#1a1a1a" >1.8</text>
<text x="369.40" y="215.90" font-size="16.3" text-anchor="end" fill="#1a1a1a" >PM2.5</text>
<text x="369.40" y="232.14" font-size="16.3" text-anchor="end" fill="#1a1a1a" >O3</text>
<text x="369.40" y="248.38" font-size="16.3" text-anchor="end" fill="#1a1a1a" >PM10</text>
<text x="369.40" y="264.62" font-size="16.3" text-anchor="end" fill="#1a1a1a" >SO2</text>
<text x="369.40" y="280.86" font-size="16.3" text-anchor="end" fill="#1a1a1a" >CO</text>
<text x="369.40" y="297.10" font-size="16.3" text-anchor="end" fill="#1a1a1a" >NO2</text>
<rect x="634" y="192.70" width="1.9" height="113.50" fill="url(#cb10)"/>
<text x="638.30" y="198.60" font-size="16.3" text-anchor="start" fill="#1a1a1a" >High</text>
<text x="638.50" y="312.60" font-size="16.3" text-anchor="start" fill="#1a1a1a" >Low</text>
<text transform="translate(683.6,249.20) rotate(-90)" font-size="16.7" text-anchor="middle" fill="#1a1a1a">Feature value</text>
<text transform="translate(502.60,341.90) scale(1.019,1.0)" font-size="16.3" text-anchor="middle" fill="#1a1a1a" >SHAP value (impact on module output)</text>
<text transform="translate(524.40,362.60) scale(1.06,1.0)" font-size="16.4" text-anchor="middle" fill="#111" >(d)</text>
<path d="M398.80,209.40C398.80,208.34 399.60,207.03 400.00,206.22C400.40,205.41 400.80,204.90 401.20,204.53C401.60,204.16 402.00,204.16 402.40,204.00C402.80,203.84 403.20,203.73 403.60,203.59C404.00,203.45 404.40,203.25 404.80,203.16C405.20,203.07 405.60,202.75 406.00,203.05C406.40,203.35 406.80,204.43 407.20,204.96C407.60,205.48 408.00,205.86 408.40,206.18C408.80,206.51 409.20,206.79 409.60,206.91C410.00,207.02 410.40,207.17 410.80,206.87C411.20,206.58 411.60,205.54 412.00,205.15C412.40,204.75 412.80,204.74 413.20,204.52C413.60,204.30 414.00,203.66 414.40,203.84C414.80,204.02 415.20,205.13 415.60,205.61C416.00,206.08 416.40,206.45 416.80,206.69C417.20,206.93 417.60,206.91 418.00,207.05C418.40,207.20 418.82,207.15 419.20,207.54C419.58,207.93 420.30,208.81 420.30,209.40C420.30,209.99 419.58,210.69 419.20,211.09C418.82,211.49 418.40,211.66 418.00,211.82C417.60,211.98 417.20,211.77 416.80,212.06C416.40,212.34 416.00,213.09 415.60,213.54C415.20,213.99 414.80,214.59 414.40,214.76C414.00,214.93 413.60,214.76 413.20,214.55C412.80,214.34 412.40,213.94 412.00,213.50C411.60,213.06 411.20,212.19 410.80,211.89C410.40,211.59 410.00,211.59 409.60,211.72C409.20,211.86 408.80,212.33 408.40,212.69C408.00,213.05 407.60,213.42 407.20,213.89C406.80,214.36 406.40,215.23 406.00,215.53C405.60,215.82 405.20,215.65 404.80,215.68C404.40,215.70 404.00,215.82 403.60,215.68C403.20,215.53 402.80,215.04 402.40,214.81C402.00,214.57 401.60,214.64 401.20,214.27C400.80,213.90 400.40,213.40 400.00,212.58C399.60,211.77 398.80,210.46 398.80,209.40Z" fill="url(#g11)"/>
<g fill="url(#g11)"><circle cx="399.1" cy="207.9" r="1.05"/><circle cx="399.6" cy="210.1" r="0.92"/><circle cx="400.5" cy="205.8" r="1.09"/><circle cx="400.8" cy="212.5" r="1.08"/><circle cx="401.8" cy="204.3" r="0.80"/><circle cx="402.1" cy="214.1" r="0.86"/><circle cx="403.1" cy="204.5" r="1.03"/><circle cx="403.6" cy="214.7" r="0.83"/><circle cx="404.6" cy="203.9" r="1.03"/><circle cx="404.3" cy="215.6" r="0.82"/><circle cx="406.2" cy="204.1" r="0.85"/><circle cx="405.6" cy="215.0" r="1.05"/><circle cx="407.1" cy="205.7" r="0.89"/><circle cx="407.0" cy="213.4" r="0.84"/><circle cx="408.4" cy="206.7" r="0.90"/><circle cx="408.3" cy="211.5" r="0.88"/><circle cx="409.7" cy="207.4" r="0.93"/><circle cx="410.1" cy="210.8" r="0.97"/><circle cx="411.3" cy="207.2" r="1.03"/><circle cx="411.1" cy="211.6" r="0.81"/><circle cx="412.5" cy="205.9" r="0.96"/><circle cx="412.4" cy="213.1" r="0.84"/><circle cx="413.7" cy="205.1" r="0.88"/><circle cx="413.6" cy="214.1" r="0.82"/><circle cx="415.0" cy="205.5" r="1.13"/><circle cx="415.2" cy="213.9" r="0.88"/><circle cx="416.6" cy="206.8" r="1.10"/><circle cx="416.6" cy="211.9" r="0.84"/><circle cx="417.4" cy="207.0" r="0.88"/><circle cx="417.3" cy="211.2" r="0.87"/><circle cx="418.9" cy="208.0" r="1.12"/><circle cx="418.9" cy="210.6" r="0.83"/></g>
<path d="M424.60,209.40C424.60,208.97 425.40,208.49 425.80,208.27C426.20,208.04 426.60,208.18 427.00,208.06C427.40,207.94 427.80,207.53 428.20,207.53C428.60,207.52 429.00,208.00 429.40,208.02C429.80,208.05 430.20,207.67 430.60,207.69C431.00,207.71 431.40,208.14 431.80,208.13C432.20,208.12 432.60,207.66 433.00,207.63C433.40,207.61 433.80,207.97 434.20,207.99C434.60,208.00 435.00,207.72 435.40,207.72C435.80,207.73 436.20,208.08 436.60,208.04C437.00,207.99 437.40,207.55 437.80,207.47C438.20,207.38 438.60,207.52 439.00,207.52C439.40,207.52 439.80,207.41 440.20,207.48C440.60,207.55 441.00,207.95 441.40,207.93C441.80,207.92 442.20,207.43 442.60,207.42C443.00,207.40 443.40,207.81 443.80,207.85C444.20,207.89 444.60,207.66 445.00,207.65C445.40,207.64 445.80,207.81 446.20,207.78C446.60,207.75 447.00,207.50 447.40,207.47C447.80,207.43 448.20,207.51 448.60,207.57C449.00,207.63 449.40,207.80 449.80,207.82C450.20,207.83 450.60,207.70 451.00,207.64C451.40,207.57 451.80,207.45 452.20,207.42C452.60,207.38 453.00,207.43 453.40,207.42C453.80,207.40 454.20,207.37 454.60,207.33C455.00,207.29 455.40,207.23 455.80,207.19C456.20,207.14 456.60,207.00 457.00,207.08C457.40,207.15 457.80,207.54 458.20,207.62C458.60,207.71 459.00,207.58 459.40,207.57C459.80,207.56 460.20,207.54 460.60,207.59C461.00,207.63 461.40,207.81 461.80,207.85C462.20,207.88 462.60,207.77 463.00,207.78C463.40,207.80 463.80,207.93 464.20,207.93C464.60,207.93 465.00,207.84 465.40,207.78C465.80,207.73 466.20,207.58 466.60,207.61C467.00,207.64 467.40,207.88 467.80,207.95C468.20,208.01 468.60,207.99 469.00,208.00C469.40,208.01 469.80,208.05 470.20,208.02C470.60,207.98 471.00,207.87 471.40,207.78C471.80,207.70 472.20,207.50 472.60,207.53C473.00,207.56 473.40,207.95 473.80,207.99C474.20,208.02 474.60,207.76 475.00,207.74C475.40,207.72 475.80,207.87 476.20,207.86C476.60,207.85 477.00,207.75 477.40,207.69C477.80,207.62 478.20,207.51 478.60,207.48C479.00,207.45 479.40,207.38 479.80,207.49C480.20,207.60 480.60,208.02 481.00,208.11C481.40,208.21 481.80,208.10 482.20,208.08C482.60,208.05 483.00,208.05 483.40,207.95C483.80,207.85 484.20,207.49 484.60,207.47C485.00,207.46 485.40,207.84 485.80,207.86C486.20,207.87 486.60,207.58 487.00,207.56C487.40,207.53 487.80,207.61 488.20,207.69C488.60,207.78 489.00,208.07 489.40,208.07C489.80,208.07 490.20,207.77 490.60,207.69C491.00,207.61 491.40,207.62 491.80,207.59C492.20,207.55 492.60,207.39 493.00,207.48C493.40,207.56 493.80,208.05 494.20,208.10C494.60,208.14 495.00,207.82 495.40,207.75C495.80,207.68 496.20,207.63 496.60,207.67C497.00,207.70 497.40,207.96 497.80,207.98C498.20,208.00 498.60,207.76 499.00,207.78C499.40,207.80 499.80,208.11 500.20,208.10C500.60,208.09 501.00,207.78 501.40,207.71C501.80,207.64 502.20,207.61 502.60,207.68C503.00,207.75 503.40,208.14 503.80,208.14C504.20,208.14 504.60,207.75 505.00,207.68C505.40,207.60 505.80,207.73 506.20,207.70C506.60,207.66 507.00,207.43 507.40,207.48C507.80,207.53 508.20,207.99 508.60,207.99C509.00,207.99 509.40,207.50 509.80,207.48C510.20,207.46 510.60,207.86 511.00,207.86C511.40,207.87 511.80,207.56 512.20,207.52C512.60,207.48 513.00,207.61 513.40,207.64C513.80,207.66 514.20,207.61 514.60,207.69C515.00,207.76 515.40,208.01 515.80,208.06C516.20,208.11 516.60,207.99 517.00,208.00C517.40,208.01 517.80,208.15 518.20,208.13C518.60,208.10 519.00,207.87 519.40,207.87C519.80,207.86 520.20,208.16 520.60,208.10C521.00,208.03 521.40,207.52 521.80,207.49C522.20,207.46 522.60,207.84 523.00,207.90C523.40,207.96 523.80,207.86 524.20,207.84C524.60,207.83 525.00,207.84 525.40,207.81C525.80,207.78 526.20,207.66 526.60,207.68C527.00,207.69 527.40,207.90 527.80,207.89C528.20,207.88 528.60,207.65 529.00,207.61C529.40,207.58 529.80,207.69 530.20,207.70C530.60,207.71 531.00,207.60 531.40,207.66C531.80,207.71 532.20,207.97 532.60,208.01C533.00,208.06 533.40,208.01 533.80,207.94C534.20,207.87 534.60,207.64 535.00,207.57C535.40,207.51 535.80,207.53 536.20,207.56C536.60,207.58 537.00,207.64 537.40,207.73C537.80,207.82 538.20,208.12 538.60,208.09C539.00,208.07 539.40,207.58 539.80,207.56C540.20,207.54 540.60,207.93 541.00,207.99C541.40,208.04 541.80,207.89 542.20,207.88C542.60,207.87 543.00,207.98 543.40,207.96C543.80,207.93 544.20,207.85 544.60,207.71C545.00,207.58 545.40,207.15 545.80,207.15C546.20,207.14 546.60,207.71 547.00,207.70C547.40,207.68 547.80,207.08 548.20,207.04C548.60,206.99 549.00,207.37 549.40,207.43C549.80,207.49 550.20,207.43 550.60,207.40C551.00,207.37 551.40,207.23 551.80,207.25C552.20,207.27 552.60,207.49 553.00,207.51C553.40,207.54 553.80,207.48 554.20,207.40C554.60,207.32 555.00,207.07 555.40,207.05C555.80,207.03 556.20,207.31 556.60,207.30C557.00,207.28 557.40,206.99 557.80,206.96C558.20,206.94 558.60,207.15 559.00,207.12C559.40,207.10 559.80,206.76 560.20,206.81C560.60,206.86 561.00,207.40 561.40,207.43C561.80,207.47 562.20,207.08 562.60,207.01C563.00,206.94 563.40,207.03 563.80,207.02C564.20,207.02 564.60,206.91 565.00,206.99C565.40,207.08 565.80,207.43 566.20,207.51C566.60,207.59 567.00,207.55 567.40,207.48C567.80,207.41 568.20,207.09 568.60,207.11C569.00,207.12 569.40,207.53 569.80,207.56C570.20,207.60 570.60,207.29 571.00,207.31C571.40,207.34 571.80,207.71 572.20,207.74C572.60,207.76 573.00,207.52 573.40,207.48C573.80,207.44 574.20,207.44 574.60,207.50C575.00,207.56 575.40,207.79 575.80,207.82C576.20,207.85 576.60,207.64 577.00,207.68C577.40,207.73 577.80,208.03 578.20,208.09C578.60,208.16 579.00,208.09 579.40,208.08C579.80,208.06 580.20,207.99 580.60,208.02C581.00,208.06 581.40,208.13 581.80,208.28C582.20,208.43 582.72,208.76 583.00,208.95C583.28,209.14 583.50,209.25 583.50,209.40C583.50,209.55 583.28,209.63 583.00,209.85C582.72,210.07 582.20,210.56 581.80,210.72C581.40,210.88 581.00,210.81 580.60,210.81C580.20,210.82 579.80,210.71 579.40,210.77C579.00,210.84 578.60,211.11 578.20,211.19C577.80,211.27 577.40,211.27 577.00,211.25C576.60,211.23 576.20,211.13 575.80,211.10C575.40,211.06 575.00,211.04 574.60,211.02C574.20,211.01 573.80,210.98 573.40,210.99C573.00,211.00 572.60,211.03 572.20,211.10C571.80,211.17 571.40,211.41 571.00,211.42C570.60,211.42 570.20,211.10 569.80,211.14C569.40,211.19 569.00,211.59 568.60,211.68C568.20,211.77 567.80,211.69 567.40,211.68C567.00,211.67 566.60,211.61 566.20,211.63C565.80,211.65 565.40,211.84 565.00,211.81C564.60,211.78 564.20,211.48 563.80,211.44C563.40,211.40 563.00,211.57 562.60,211.57C562.20,211.57 561.80,211.41 561.40,211.44C561.00,211.46 560.60,211.72 560.20,211.73C559.80,211.73 559.40,211.49 559.00,211.46C558.60,211.44 558.20,211.50 557.80,211.56C557.40,211.63 557.00,211.83 556.60,211.87C556.20,211.91 555.80,211.89 555.40,211.80C555.00,211.71 554.60,211.43 554.20,211.35C553.80,211.27 553.40,211.30 553.00,211.31C552.60,211.32 552.20,211.37 551.80,211.39C551.40,211.42 551.00,211.45 550.60,211.47C550.20,211.48 549.80,211.55 549.40,211.50C549.00,211.46 548.60,211.16 548.20,211.19C547.80,211.22 547.40,211.71 547.00,211.68C546.60,211.64 546.20,211.02 545.80,210.98C545.40,210.93 545.00,211.40 544.60,211.40C544.20,211.40 543.80,211.02 543.40,211.00C543.00,210.98 542.60,211.33 542.20,211.29C541.80,211.25 541.40,210.83 541.00,210.77C540.60,210.71 540.20,210.87 539.80,210.92C539.40,210.97 539.00,211.09 538.60,211.07C538.20,211.05 537.80,210.77 537.40,210.80C537.00,210.83 536.60,211.22 536.20,211.26C535.80,211.31 535.40,211.14 535.00,211.07C534.60,211.00 534.20,210.81 533.80,210.83C533.40,210.85 533.00,211.10 532.60,211.19C532.20,211.27 531.80,211.34 531.40,211.33C531.00,211.31 530.60,211.11 530.20,211.09C529.80,211.08 529.40,211.20 529.00,211.23C528.60,211.27 528.20,211.40 527.80,211.32C527.40,211.25 527.00,210.87 526.60,210.76C526.20,210.65 525.80,210.66 525.40,210.66C525.00,210.66 524.60,210.69 524.20,210.77C523.80,210.85 523.40,211.10 523.00,211.14C522.60,211.19 522.20,211.07 521.80,211.05C521.40,211.04 521.00,211.08 520.60,211.06C520.20,211.04 519.80,211.00 519.40,210.94C519.00,210.89 518.60,210.76 518.20,210.75C517.80,210.73 517.40,210.83 517.00,210.84C516.60,210.85 516.20,210.75 515.80,210.81C515.40,210.86 515.00,211.17 514.60,211.19C514.20,211.20 513.80,210.96 513.40,210.90C513.00,210.84 512.60,210.74 512.20,210.81C511.80,210.88 511.40,211.33 511.00,211.32C510.60,211.32 510.20,210.86 509.80,210.80C509.40,210.73 509.00,210.88 508.60,210.95C508.20,211.02 507.80,211.23 507.40,211.20C507.00,211.17 506.60,210.79 506.20,210.78C505.80,210.77 505.40,211.11 505.00,211.15C504.60,211.18 504.20,210.97 503.80,210.98C503.40,210.99 503.00,211.21 502.60,211.21C502.20,211.21 501.80,210.99 501.40,210.98C501.00,210.97 500.60,211.14 500.20,211.17C499.80,211.19 499.40,211.17 499.00,211.12C498.60,211.08 498.20,210.96 497.80,210.91C497.40,210.86 497.00,210.85 496.60,210.83C496.20,210.81 495.80,210.70 495.40,210.78C495.00,210.85 494.60,211.28 494.20,211.28C493.80,211.28 493.40,210.78 493.00,210.78C492.60,210.79 492.20,211.23 491.80,211.28C491.40,211.33 491.00,211.14 490.60,211.06C490.20,210.98 489.80,210.83 489.40,210.82C489.00,210.81 488.60,210.94 488.20,211.01C487.80,211.07 487.40,211.21 487.00,211.21C486.60,211.22 486.20,211.01 485.80,211.02C485.40,211.03 485.00,211.29 484.60,211.26C484.20,211.23 483.80,210.95 483.40,210.85C483.00,210.75 482.60,210.59 482.20,210.66C481.80,210.74 481.40,211.24 481.00,211.29C480.60,211.34 480.20,211.01 479.80,210.94C479.40,210.86 479.00,210.79 478.60,210.84C478.20,210.89 477.80,211.18 477.40,211.25C477.00,211.32 476.60,211.32 476.20,211.27C475.80,211.22 475.40,211.05 475.00,210.97C474.60,210.88 474.20,210.81 473.80,210.77C473.40,210.72 473.00,210.64 472.60,210.69C472.20,210.74 471.80,211.04 471.40,211.06C471.00,211.07 470.60,210.72 470.20,210.77C469.80,210.83 469.40,211.36 469.00,211.39C468.60,211.41 468.20,210.94 467.80,210.92C467.40,210.91 467.00,211.26 466.60,211.29C466.20,211.33 465.80,211.15 465.40,211.15C465.00,211.15 464.60,211.24 464.20,211.30C463.80,211.35 463.40,211.50 463.00,211.48C462.60,211.47 462.20,211.21 461.80,211.20C461.40,211.19 461.00,211.42 460.60,211.44C460.20,211.45 459.80,211.25 459.40,211.29C459.00,211.33 458.60,211.68 458.20,211.69C457.80,211.70 457.40,211.43 457.00,211.34C456.60,211.26 456.20,211.20 455.80,211.17C455.40,211.14 455.00,211.09 454.60,211.19C454.20,211.28 453.80,211.65 453.40,211.73C453.00,211.82 452.60,211.76 452.20,211.69C451.80,211.62 451.40,211.34 451.00,211.33C450.60,211.33 450.20,211.62 449.80,211.64C449.40,211.65 449.00,211.44 448.60,211.43C448.20,211.42 447.80,211.59 447.40,211.58C447.00,211.58 446.60,211.52 446.20,211.41C445.80,211.30 445.40,211.04 445.00,210.94C444.60,210.84 444.20,210.84 443.80,210.82C443.40,210.80 443.00,210.76 442.60,210.81C442.20,210.86 441.80,211.12 441.40,211.13C441.00,211.13 440.60,210.85 440.20,210.81C439.80,210.78 439.40,210.87 439.00,210.94C438.60,211.00 438.20,211.14 437.80,211.19C437.40,211.24 437.00,211.24 436.60,211.22C436.20,211.21 435.80,211.15 435.40,211.11C435.00,211.07 434.60,211.01 434.20,211.00C433.80,210.99 433.40,211.03 433.00,211.03C432.60,211.02 432.20,210.98 431.80,210.98C431.40,210.98 431.00,211.06 430.60,211.01C430.20,210.96 429.80,210.67 429.40,210.66C429.00,210.64 428.60,210.94 428.20,210.92C427.80,210.91 427.40,210.58 427.00,210.57C426.60,210.56 426.20,211.05 425.80,210.85C425.40,210.66 424.60,209.83 424.60,209.40Z" fill="url(#g12)"/>
<g fill="url(#g12)"><circle cx="425.1" cy="208.8" r="0.87"/><circle cx="425.0" cy="209.6" r="0.89"/><circle cx="426.7" cy="208.6" r="1.07"/><circle cx="426.7" cy="209.8" r="1.14"/><circle cx="428.0" cy="209.0" r="0.91"/><circle cx="427.5" cy="209.7" r="1.01"/><circle cx="428.9" cy="208.1" r="0.98"/><circle cx="429.1" cy="209.9" r="1.11"/><circle cx="430.4" cy="208.4" r="0.84"/><circle cx="430.6" cy="210.3" r="0.93"/><circle cx="431.4" cy="209.0" r="1.07"/><circle cx="431.7" cy="210.0" r="0.94"/><circle cx="432.8" cy="208.8" r="1.03"/><circle cx="433.1" cy="210.5" r="0.97"/><circle cx="434.3" cy="208.1" r="0.93"/><circle cx="434.4" cy="209.8" r="1.13"/><circle cx="435.7" cy="208.7" r="0.96"/><circle cx="435.9" cy="210.8" r="0.81"/><circle cx="436.9" cy="208.3" r="0.85"/><circle cx="436.6" cy="210.6" r="0.90"/><circle cx="438.2" cy="209.0" r="1.07"/><circle cx="437.9" cy="210.8" r="0.94"/><circle cx="439.4" cy="208.1" r="0.82"/><circle cx="439.2" cy="210.0" r="0.85"/><circle cx="440.8" cy="208.1" r="0.86"/><circle cx="440.6" cy="210.7" r="0.86"/><circle cx="442.0" cy="208.8" r="0.95"/><circle cx="442.4" cy="210.0" r="0.88"/><circle cx="443.6" cy="207.9" r="0.89"/><circle cx="443.4" cy="210.8" r="1.12"/><circle cx="444.6" cy="208.4" r="1.01"/><circle cx="444.9" cy="210.0" r="1.05"/><circle cx="446.3" cy="208.6" r="0.87"/><circle cx="445.9" cy="210.2" r="1.08"/><circle cx="447.3" cy="207.7" r="0.89"/><circle cx="447.5" cy="210.4" r="0.85"/><circle cx="448.8" cy="208.3" r="0.86"/><circle cx="448.5" cy="211.0" r="0.87"/><circle cx="450.0" cy="208.8" r="1.10"/><circle cx="450.0" cy="210.9" r="1.07"/><circle cx="451.1" cy="207.9" r="1.13"/><circle cx="451.0" cy="210.4" r="1.09"/><circle cx="452.4" cy="208.2" r="0.93"/><circle cx="452.3" cy="211.2" r="0.84"/><circle cx="453.9" cy="207.7" r="0.94"/><circle cx="453.6" cy="211.0" r="1.06"/><circle cx="455.4" cy="208.0" r="1.08"/><circle cx="455.3" cy="210.3" r="1.06"/><circle cx="456.3" cy="207.9" r="1.03"/><circle cx="456.4" cy="210.6" r="0.85"/><circle cx="457.6" cy="207.9" r="1.09"/><circle cx="458.0" cy="210.2" r="1.10"/><circle cx="459.2" cy="208.1" r="1.13"/><circle cx="458.7" cy="211.0" r="1.03"/><circle cx="460.3" cy="208.4" r="0.99"/><circle cx="460.5" cy="210.9" r="1.07"/><circle cx="461.5" cy="208.4" r="0.87"/><circle cx="461.5" cy="210.2" r="0.84"/><circle cx="462.7" cy="208.8" r="1.08"/><circle cx="463.1" cy="210.3" r="0.82"/><circle cx="464.1" cy="208.0" r="0.96"/><circle cx="464.1" cy="210.5" r="1.13"/><circle cx="465.5" cy="208.0" r="1.11"/><circle cx="465.4" cy="210.8" r="1.06"/><circle cx="466.5" cy="208.3" r="1.00"/><circle cx="466.8" cy="210.3" r="1.09"/><circle cx="468.4" cy="208.2" r="0.95"/><circle cx="468.0" cy="210.3" r="0.87"/><circle cx="469.5" cy="209.0" r="1.14"/><circle cx="469.1" cy="210.3" r="1.12"/><circle cx="470.9" cy="208.6" r="0.95"/><circle cx="470.7" cy="210.7" r="0.83"/><circle cx="471.9" cy="208.9" r="1.08"/><circle cx="472.2" cy="209.9" r="1.06"/><circle cx="473.6" cy="208.7" r="1.11"/><circle cx="473.4" cy="210.7" r="0.93"/><circle cx="474.5" cy="208.6" r="0.87"/><circle cx="474.4" cy="210.3" r="1.06"/><circle cx="476.0" cy="208.9" r="0.98"/><circle cx="476.2" cy="210.2" r="1.13"/><circle cx="477.0" cy="208.2" r="1.08"/><circle cx="477.4" cy="210.6" r="0.99"/><circle cx="478.8" cy="208.8" r="0.93"/><circle cx="478.5" cy="210.8" r="0.81"/><circle cx="480.1" cy="208.6" r="1.12"/><circle cx="479.8" cy="209.8" r="1.13"/><circle cx="481.3" cy="208.6" r="1.02"/><circle cx="480.9" cy="210.0" r="1.01"/><circle cx="482.4" cy="208.5" r="0.95"/><circle cx="482.1" cy="210.2" r="0.83"/><circle cx="483.9" cy="208.8" r="1.05"/><circle cx="483.7" cy="210.0" r="0.89"/><circle cx="485.3" cy="208.9" r="1.01"/><circle cx="485.2" cy="210.5" r="1.00"/><circle cx="486.4" cy="208.8" r="1.05"/><circle cx="486.6" cy="209.7" r="1.09"/><circle cx="487.6" cy="209.1" r="1.13"/><circle cx="487.8" cy="210.6" r="0.82"/><circle cx="488.9" cy="208.3" r="0.85"/><circle cx="488.8" cy="210.4" r="1.15"/><circle cx="490.0" cy="208.8" r="0.89"/><circle cx="490.3" cy="210.1" r="0.94"/><circle cx="491.3" cy="208.9" r="0.86"/><circle cx="491.4" cy="210.3" r="0.87"/><circle cx="492.8" cy="208.5" r="0.86"/><circle cx="492.8" cy="210.6" r="1.14"/><circle cx="493.9" cy="208.4" r="0.96"/><circle cx="493.9" cy="209.9" r="0.85"/><circle cx="495.7" cy="208.7" r="1.05"/><circle cx="495.3" cy="210.2" r="0.92"/><circle cx="496.6" cy="208.9" r="1.04"/><circle cx="496.8" cy="209.7" r="1.10"/><circle cx="498.2" cy="208.8" r="1.10"/><circle cx="498.3" cy="210.1" r="1.02"/><circle cx="499.2" cy="208.5" r="0.95"/><circle cx="499.5" cy="210.7" r="1.03"/><circle cx="500.5" cy="208.1" r="0.85"/><circle cx="500.7" cy="210.4" r="1.08"/><circle cx="502.2" cy="208.4" r="0.92"/><circle cx="501.7" cy="209.9" r="0.94"/><circle cx="503.4" cy="209.1" r="1.11"/><circle cx="503.2" cy="210.3" r="0.91"/><circle cx="504.8" cy="208.6" r="0.93"/><circle cx="504.8" cy="210.4" r="0.99"/><circle cx="505.7" cy="208.6" r="0.97"/><circle cx="506.0" cy="210.0" r="1.01"/><circle cx="507.0" cy="208.6" r="0.93"/><circle cx="507.1" cy="209.9" r="1.12"/><circle cx="508.6" cy="208.8" r="0.92"/><circle cx="508.1" cy="209.9" r="1.04"/><circle cx="509.9" cy="208.8" r="0.82"/><circle cx="509.4" cy="210.1" r="0.88"/><circle cx="511.2" cy="208.2" r="1.06"/><circle cx="511.0" cy="210.6" r="1.13"/><circle cx="512.6" cy="208.5" r="0.83"/><circle cx="512.5" cy="210.7" r="0.87"/><circle cx="513.3" cy="208.1" r="0.94"/><circle cx="513.7" cy="210.7" r="1.06"/><circle cx="514.6" cy="208.8" r="0.81"/><circle cx="515.0" cy="210.5" r="0.81"/><circle cx="516.0" cy="208.8" r="0.84"/><circle cx="516.3" cy="210.7" r="1.01"/><circle cx="517.8" cy="208.6" r="0.93"/><circle cx="517.3" cy="210.0" r="0.94"/><circle cx="519.1" cy="208.4" r="1.14"/><circle cx="518.6" cy="210.0" r="0.86"/><circle cx="520.3" cy="208.9" r="0.92"/><circle cx="520.2" cy="209.8" r="0.99"/><circle cx="521.6" cy="208.4" r="0.95"/><circle cx="521.7" cy="210.4" r="0.96"/><circle cx="522.6" cy="208.0" r="0.92"/><circle cx="523.0" cy="210.2" r="1.10"/><circle cx="523.8" cy="208.6" r="0.85"/><circle cx="523.7" cy="210.5" r="1.04"/><circle cx="525.3" cy="209.1" r="1.08"/><circle cx="525.2" cy="210.4" r="1.08"/><circle cx="526.8" cy="208.6" r="1.00"/><circle cx="526.9" cy="210.6" r="1.14"/><circle cx="527.8" cy="208.7" r="1.02"/><circle cx="528.2" cy="210.6" r="0.89"/><circle cx="529.4" cy="208.1" r="1.08"/><circle cx="529.1" cy="210.5" r="1.04"/><circle cx="530.6" cy="208.8" r="0.89"/><circle cx="530.5" cy="210.0" r="1.10"/><circle cx="531.5" cy="208.2" r="1.12"/><circle cx="531.6" cy="210.5" r="1.06"/><circle cx="533.4" cy="208.5" r="1.00"/><circle cx="533.4" cy="209.9" r="0.95"/><circle cx="534.1" cy="208.8" r="1.07"/><circle cx="534.7" cy="210.3" r="0.84"/><circle cx="535.5" cy="208.4" r="1.05"/><circle cx="535.4" cy="210.2" r="1.03"/><circle cx="536.8" cy="208.4" r="1.05"/><circle cx="536.9" cy="210.7" r="0.90"/><circle cx="538.6" cy="208.7" r="1.13"/><circle cx="538.5" cy="210.5" r="1.00"/><circle cx="539.9" cy="208.5" r="0.96"/><circle cx="539.6" cy="209.9" r="1.13"/><circle cx="540.7" cy="208.3" r="1.06"/><circle cx="541.2" cy="210.5" r="0.82"/><circle cx="541.9" cy="208.3" r="1.06"/><circle cx="542.0" cy="210.8" r="0.93"/><circle cx="543.5" cy="208.6" r="0.81"/><circle cx="543.8" cy="209.9" r="1.10"/><circle cx="544.8" cy="208.0" r="0.96"/><circle cx="544.7" cy="210.9" r="1.06"/><circle cx="545.8" cy="207.8" r="0.86"/><circle cx="545.9" cy="210.7" r="0.84"/><circle cx="547.2" cy="207.7" r="0.92"/><circle cx="547.6" cy="210.4" r="0.97"/><circle cx="548.5" cy="207.8" r="1.12"/><circle cx="549.0" cy="211.0" r="1.01"/><circle cx="550.0" cy="207.7" r="1.02"/><circle cx="549.7" cy="211.2" r="0.96"/><circle cx="551.4" cy="207.8" r="1.08"/><circle cx="551.3" cy="211.2" r="0.88"/><circle cx="552.9" cy="208.4" r="1.14"/><circle cx="552.6" cy="210.7" r="1.04"/><circle cx="553.6" cy="207.9" r="0.86"/><circle cx="553.7" cy="210.8" r="0.97"/><circle cx="555.4" cy="207.8" r="0.99"/><circle cx="555.5" cy="210.9" r="0.86"/><circle cx="556.8" cy="208.3" r="1.14"/><circle cx="556.8" cy="210.8" r="1.00"/><circle cx="557.7" cy="208.3" r="0.99"/><circle cx="557.5" cy="210.8" r="0.87"/><circle cx="559.1" cy="207.4" r="1.02"/><circle cx="559.0" cy="211.4" r="1.04"/><circle cx="560.4" cy="207.5" r="1.02"/><circle cx="560.3" cy="211.0" r="1.03"/><circle cx="562.0" cy="208.1" r="0.91"/><circle cx="561.4" cy="210.3" r="1.14"/><circle cx="562.8" cy="207.9" r="0.99"/><circle cx="563.2" cy="211.2" r="0.84"/><circle cx="564.6" cy="207.5" r="1.04"/><circle cx="564.4" cy="210.3" r="1.04"/><circle cx="565.5" cy="207.4" r="0.82"/><circle cx="565.6" cy="210.4" r="0.91"/><circle cx="567.2" cy="207.9" r="0.95"/><circle cx="566.6" cy="210.4" r="1.09"/><circle cx="568.4" cy="208.4" r="0.86"/><circle cx="568.0" cy="211.0" r="1.13"/><circle cx="569.4" cy="207.6" r="0.98"/><circle cx="569.6" cy="210.3" r="0.94"/><circle cx="571.1" cy="208.6" r="1.09"/><circle cx="570.6" cy="210.2" r="1.06"/><circle cx="572.2" cy="207.7" r="0.93"/><circle cx="572.4" cy="210.6" r="1.15"/><circle cx="573.2" cy="208.1" r="1.03"/><circle cx="573.3" cy="210.9" r="0.99"/><circle cx="574.4" cy="208.6" r="0.89"/><circle cx="574.8" cy="210.9" r="0.85"/><circle cx="576.0" cy="208.2" r="0.86"/><circle cx="575.9" cy="210.4" r="1.00"/><circle cx="577.0" cy="208.4" r="0.81"/><circle cx="577.5" cy="210.2" r="0.88"/><circle cx="578.4" cy="209.0" r="1.09"/><circle cx="578.5" cy="210.1" r="0.97"/><circle cx="579.7" cy="208.6" r="1.07"/><circle cx="579.9" cy="210.0" r="1.09"/><circle cx="581.3" cy="209.4" r="1.12"/><circle cx="580.9" cy="209.8" r="0.82"/></g>
<circle cx="422.6" cy="209.4" r="1.15" fill="#9130c8"/>
<circle cx="586.1" cy="209.4" r="1.4" fill="#ff0052"/>
<path d="M398.80,225.64C398.80,225.19 399.60,224.87 400.00,224.49C400.40,224.12 400.80,223.78 401.20,223.39C401.60,223.00 402.00,222.55 402.40,222.18C402.80,221.82 403.20,221.51 403.60,221.20C404.00,220.88 404.40,220.60 404.80,220.27C405.20,219.95 405.60,219.28 406.00,219.24C406.40,219.20 406.80,219.68 407.20,220.04C407.60,220.40 408.00,221.13 408.40,221.40C408.80,221.67 409.20,221.53 409.60,221.65C410.00,221.77 410.40,222.00 410.80,222.13C411.20,222.26 411.60,222.37 412.00,222.45C412.40,222.52 412.80,222.53 413.20,222.59C413.60,222.64 414.00,222.68 414.40,222.78C414.80,222.88 415.20,223.13 415.60,223.18C416.00,223.23 416.40,223.05 416.80,223.07C417.20,223.10 417.60,223.26 418.00,223.33C418.40,223.39 418.80,223.30 419.20,223.48C419.60,223.65 420.00,224.20 420.40,224.37C420.80,224.55 421.20,224.59 421.60,224.53C422.00,224.48 422.40,224.11 422.80,224.05C423.20,223.99 423.60,224.18 424.00,224.16C424.40,224.13 424.80,223.93 425.20,223.92C425.60,223.91 426.00,224.08 426.40,224.11C426.80,224.14 427.20,224.05 427.60,224.09C428.00,224.13 428.40,224.41 428.80,224.34C429.20,224.28 429.60,223.70 430.00,223.70C430.40,223.69 430.80,224.26 431.20,224.32C431.60,224.38 432.00,224.11 432.40,224.05C432.80,223.98 433.20,223.96 433.60,223.92C434.00,223.88 434.40,223.85 434.80,223.82C435.20,223.79 435.60,223.70 436.00,223.74C436.40,223.77 436.80,223.99 437.20,224.04C437.60,224.09 438.00,224.05 438.40,224.02C438.80,223.99 439.20,223.88 439.60,223.86C440.00,223.84 440.40,223.85 440.80,223.92C441.20,223.99 441.60,224.31 442.00,224.28C442.40,224.24 442.80,223.75 443.20,223.70C443.60,223.66 444.00,223.98 444.40,224.00C444.80,224.01 445.20,223.79 445.60,223.77C446.00,223.75 446.40,223.88 446.80,223.89C447.20,223.90 447.60,223.84 448.00,223.84C448.40,223.83 448.80,223.89 449.20,223.88C449.60,223.86 450.00,223.73 450.40,223.75C450.80,223.76 451.20,224.02 451.60,223.97C452.00,223.91 452.40,223.42 452.80,223.41C453.20,223.39 453.60,223.87 454.00,223.88C454.40,223.90 454.80,223.52 455.20,223.50C455.60,223.48 456.00,223.66 456.40,223.75C456.80,223.83 457.20,224.01 457.60,224.02C458.00,224.03 458.40,223.90 458.80,223.79C459.20,223.67 459.60,223.40 460.00,223.35C460.40,223.29 460.80,223.42 461.20,223.44C461.60,223.47 462.00,223.51 462.40,223.51C462.80,223.52 463.20,223.47 463.60,223.48C464.00,223.48 464.40,223.42 464.80,223.53C465.20,223.63 465.60,224.02 466.00,224.09C466.40,224.16 466.80,223.93 467.20,223.92C467.60,223.91 468.00,224.03 468.40,224.03C468.80,224.03 469.20,223.89 469.60,223.91C470.00,223.94 470.40,224.14 470.80,224.16C471.20,224.18 471.60,224.08 472.00,224.04C472.40,224.00 472.80,223.93 473.20,223.93C473.60,223.92 474.00,224.03 474.40,224.02C474.80,224.01 475.20,223.88 475.60,223.85C476.00,223.82 476.40,223.78 476.80,223.84C477.20,223.90 477.60,224.18 478.00,224.22C478.40,224.25 478.80,224.04 479.20,224.03C479.60,224.03 480.00,224.21 480.40,224.19C480.80,224.16 481.20,223.92 481.60,223.89C482.00,223.87 482.40,223.99 482.80,224.05C483.20,224.11 483.60,224.23 484.00,224.24C484.40,224.26 484.80,224.16 485.20,224.14C485.60,224.12 486.00,224.18 486.40,224.14C486.80,224.09 487.20,223.86 487.60,223.88C488.00,223.89 488.40,224.22 488.80,224.23C489.20,224.24 489.60,223.98 490.00,223.93C490.40,223.88 490.80,223.90 491.20,223.95C491.60,223.99 492.00,224.17 492.40,224.20C492.80,224.23 493.20,224.22 493.60,224.14C494.00,224.06 494.40,223.75 494.80,223.72C495.20,223.68 495.60,223.90 496.00,223.92C496.40,223.94 496.80,223.79 497.20,223.83C497.60,223.87 498.00,224.15 498.40,224.15C498.80,224.16 499.20,223.85 499.60,223.83C500.00,223.82 500.40,223.99 500.80,224.05C501.20,224.11 501.60,224.23 502.00,224.20C502.40,224.17 502.80,223.96 503.20,223.89C503.60,223.82 504.00,223.76 504.40,223.80C504.80,223.83 505.20,224.02 505.60,224.08C506.00,224.14 506.40,224.14 506.80,224.17C507.20,224.20 507.60,224.26 508.00,224.26C508.40,224.27 508.80,224.27 509.20,224.19C509.60,224.12 510.00,223.86 510.40,223.79C510.80,223.73 511.20,223.74 511.60,223.79C512.00,223.84 512.40,224.08 512.80,224.09C513.20,224.10 513.60,223.81 514.00,223.85C514.40,223.89 514.80,224.27 515.20,224.31C515.60,224.35 516.00,224.14 516.40,224.08C516.80,224.03 517.20,223.92 517.60,223.97C518.00,224.02 518.40,224.35 518.80,224.38C519.20,224.40 519.60,224.18 520.00,224.12C520.40,224.06 520.80,224.05 521.20,224.02C521.60,223.98 522.00,224.00 522.40,223.93C522.80,223.86 523.20,223.61 523.60,223.61C524.00,223.61 524.40,223.96 524.80,223.92C525.20,223.89 525.60,223.44 526.00,223.40C526.40,223.35 526.80,223.71 527.20,223.66C527.60,223.62 528.00,223.20 528.40,223.15C528.80,223.10 529.20,223.29 529.60,223.35C530.00,223.42 530.40,223.49 530.80,223.52C531.20,223.54 531.60,223.52 532.00,223.50C532.40,223.48 532.80,223.34 533.20,223.39C533.60,223.45 534.00,223.75 534.40,223.82C534.80,223.88 535.20,223.77 535.60,223.78C536.00,223.78 536.40,223.78 536.80,223.83C537.20,223.88 537.60,224.02 538.00,224.09C538.40,224.16 538.80,224.18 539.20,224.24C539.60,224.31 540.00,224.42 540.40,224.48C540.80,224.54 541.20,224.55 541.60,224.63C542.00,224.70 542.47,224.75 542.80,224.92C543.13,225.09 543.60,225.40 543.60,225.64C543.60,225.88 543.13,226.23 542.80,226.36C542.47,226.49 542.00,226.30 541.60,226.42C541.20,226.53 540.80,226.87 540.40,227.04C540.00,227.22 539.60,227.34 539.20,227.47C538.80,227.59 538.40,227.74 538.00,227.80C537.60,227.86 537.20,227.86 536.80,227.83C536.40,227.79 536.00,227.63 535.60,227.58C535.20,227.53 534.80,227.48 534.40,227.52C534.00,227.57 533.60,227.74 533.20,227.82C532.80,227.90 532.40,228.05 532.00,228.01C531.60,227.96 531.20,227.58 530.80,227.56C530.40,227.55 530.00,227.90 529.60,227.92C529.20,227.93 528.80,227.63 528.40,227.66C528.00,227.69 527.60,228.07 527.20,228.07C526.80,228.08 526.40,227.71 526.00,227.66C525.60,227.62 525.20,227.87 524.80,227.82C524.40,227.77 524.00,227.40 523.60,227.36C523.20,227.32 522.80,227.56 522.40,227.59C522.00,227.62 521.60,227.65 521.20,227.54C520.80,227.42 520.40,226.96 520.00,226.90C519.60,226.84 519.20,227.13 518.80,227.16C518.40,227.19 518.00,227.07 517.60,227.07C517.20,227.07 516.80,227.09 516.40,227.17C516.00,227.24 515.60,227.52 515.20,227.52C514.80,227.52 514.40,227.24 514.00,227.15C513.60,227.07 513.20,226.96 512.80,227.02C512.40,227.08 512.00,227.50 511.60,227.51C511.20,227.53 510.80,227.12 510.40,227.12C510.00,227.13 509.60,227.56 509.20,227.54C508.80,227.52 508.40,226.99 508.00,227.00C507.60,227.01 507.20,227.54 506.80,227.57C506.40,227.60 506.00,227.20 505.60,227.18C505.20,227.17 504.80,227.44 504.40,227.50C504.00,227.55 503.60,227.56 503.20,227.52C502.80,227.47 502.40,227.29 502.00,227.23C501.60,227.17 501.20,227.12 500.80,227.15C500.40,227.18 500.00,227.44 499.60,227.41C499.20,227.38 498.80,227.03 498.40,226.97C498.00,226.91 497.60,226.95 497.20,227.05C496.80,227.15 496.40,227.53 496.00,227.57C495.60,227.60 495.20,227.37 494.80,227.26C494.40,227.15 494.00,226.97 493.60,226.91C493.20,226.86 492.80,226.86 492.40,226.93C492.00,227.01 491.60,227.30 491.20,227.38C490.80,227.45 490.40,227.35 490.00,227.36C489.60,227.37 489.20,227.49 488.80,227.44C488.40,227.38 488.00,227.04 487.60,227.04C487.20,227.03 486.80,227.41 486.40,227.42C486.00,227.43 485.60,227.14 485.20,227.10C484.80,227.07 484.40,227.16 484.00,227.21C483.60,227.26 483.20,227.36 482.80,227.40C482.40,227.44 482.00,227.50 481.60,227.46C481.20,227.42 480.80,227.22 480.40,227.17C480.00,227.12 479.60,227.09 479.20,227.15C478.80,227.21 478.40,227.52 478.00,227.54C477.60,227.55 477.20,227.28 476.80,227.25C476.40,227.23 476.00,227.41 475.60,227.38C475.20,227.35 474.80,227.14 474.40,227.08C474.00,227.02 473.60,227.00 473.20,227.02C472.80,227.04 472.40,227.14 472.00,227.18C471.60,227.23 471.20,227.29 470.80,227.27C470.40,227.26 470.00,227.10 469.60,227.11C469.20,227.12 468.80,227.32 468.40,227.34C468.00,227.37 467.60,227.24 467.20,227.26C466.80,227.27 466.40,227.38 466.00,227.42C465.60,227.45 465.20,227.46 464.80,227.49C464.40,227.51 464.00,227.56 463.60,227.58C463.20,227.59 462.80,227.55 462.40,227.57C462.00,227.60 461.60,227.77 461.20,227.75C460.80,227.73 460.40,227.44 460.00,227.46C459.60,227.48 459.20,227.89 458.80,227.86C458.40,227.83 458.00,227.31 457.60,227.29C457.20,227.27 456.80,227.73 456.40,227.74C456.00,227.75 455.60,227.33 455.20,227.36C454.80,227.38 454.40,227.84 454.00,227.90C453.60,227.96 453.20,227.74 452.80,227.71C452.40,227.69 452.00,227.84 451.60,227.76C451.20,227.68 450.80,227.21 450.40,227.23C450.00,227.25 449.60,227.82 449.20,227.89C448.80,227.97 448.40,227.73 448.00,227.69C447.60,227.64 447.20,227.64 446.80,227.63C446.40,227.62 446.00,227.70 445.60,227.61C445.20,227.52 444.80,227.18 444.40,227.10C444.00,227.01 443.60,227.03 443.20,227.10C442.80,227.16 442.40,227.38 442.00,227.47C441.60,227.56 441.20,227.65 440.80,227.64C440.40,227.63 440.00,227.53 439.60,227.43C439.20,227.32 438.80,227.08 438.40,227.01C438.00,226.94 437.60,226.93 437.20,227.01C436.80,227.08 436.40,227.45 436.00,227.46C435.60,227.47 435.20,227.13 434.80,227.09C434.40,227.06 434.00,227.25 433.60,227.24C433.20,227.23 432.80,227.03 432.40,227.03C432.00,227.03 431.60,227.16 431.20,227.24C430.80,227.33 430.40,227.53 430.00,227.53C429.60,227.54 429.20,227.36 428.80,227.27C428.40,227.18 428.00,226.98 427.60,227.00C427.20,227.02 426.80,227.36 426.40,227.37C426.00,227.38 425.60,227.10 425.20,227.05C424.80,227.00 424.40,227.01 424.00,227.08C423.60,227.14 423.20,227.51 422.80,227.45C422.40,227.38 422.00,226.74 421.60,226.67C421.20,226.60 420.80,226.95 420.40,227.03C420.00,227.11 419.60,227.08 419.20,227.17C418.80,227.26 418.40,227.41 418.00,227.55C417.60,227.70 417.20,227.99 416.80,228.04C416.40,228.09 416.00,227.78 415.60,227.86C415.20,227.93 414.80,228.37 414.40,228.48C414.00,228.59 413.60,228.42 413.20,228.53C412.80,228.64 412.40,228.99 412.00,229.14C411.60,229.30 411.20,229.42 410.80,229.48C410.40,229.54 410.00,229.42 409.60,229.49C409.20,229.57 408.80,229.67 408.40,229.93C408.00,230.19 407.60,230.73 407.20,231.06C406.80,231.38 406.40,231.91 406.00,231.90C405.60,231.90 405.20,231.33 404.80,231.02C404.40,230.71 404.00,230.29 403.60,230.02C403.20,229.75 402.80,229.76 402.40,229.40C402.00,229.03 401.60,228.18 401.20,227.81C400.80,227.44 400.40,227.54 400.00,227.18C399.60,226.82 398.80,226.09 398.80,225.64Z" fill="url(#g13)"/>
<g fill="url(#g13)"><circle cx="399.6" cy="225.5" r="1.08"/><circle cx="399.4" cy="226.5" r="1.07"/><circle cx="400.6" cy="224.7" r="0.82"/><circle cx="400.9" cy="227.1" r="1.02"/><circle cx="401.9" cy="223.0" r="0.99"/><circle cx="401.8" cy="228.3" r="0.84"/><circle cx="403.6" cy="222.4" r="0.95"/><circle cx="403.1" cy="228.8" r="0.96"/><circle cx="404.3" cy="221.0" r="0.83"/><circle cx="404.6" cy="230.1" r="0.95"/><circle cx="405.9" cy="219.9" r="1.05"/><circle cx="405.9" cy="231.1" r="0.86"/><circle cx="407.5" cy="221.0" r="0.93"/><circle cx="407.1" cy="230.3" r="1.11"/><circle cx="408.5" cy="222.1" r="1.02"/><circle cx="408.8" cy="229.4" r="0.83"/><circle cx="409.9" cy="222.5" r="0.84"/><circle cx="409.7" cy="229.0" r="0.91"/><circle cx="411.0" cy="222.2" r="0.92"/><circle cx="411.0" cy="228.3" r="0.93"/><circle cx="412.5" cy="223.1" r="1.03"/><circle cx="412.2" cy="228.6" r="0.94"/><circle cx="413.9" cy="223.5" r="0.96"/><circle cx="413.4" cy="227.5" r="1.06"/><circle cx="415.1" cy="223.9" r="1.14"/><circle cx="415.0" cy="227.1" r="0.97"/><circle cx="416.4" cy="223.6" r="0.86"/><circle cx="416.4" cy="227.1" r="0.89"/><circle cx="417.4" cy="224.1" r="1.01"/><circle cx="417.6" cy="226.9" r="0.91"/><circle cx="419.0" cy="224.8" r="0.97"/><circle cx="419.0" cy="227.0" r="0.91"/><circle cx="420.4" cy="224.8" r="1.02"/><circle cx="420.2" cy="226.8" r="0.88"/><circle cx="421.7" cy="225.2" r="1.00"/><circle cx="421.8" cy="226.6" r="0.96"/><circle cx="422.5" cy="224.8" r="1.03"/><circle cx="423.1" cy="227.0" r="0.81"/><circle cx="423.9" cy="224.5" r="1.05"/><circle cx="424.3" cy="226.6" r="0.86"/><circle cx="425.7" cy="224.7" r="0.81"/><circle cx="425.5" cy="226.5" r="1.09"/><circle cx="426.5" cy="224.5" r="1.10"/><circle cx="426.4" cy="226.4" r="0.92"/><circle cx="427.7" cy="224.5" r="0.82"/><circle cx="427.8" cy="226.4" r="0.84"/><circle cx="429.6" cy="224.3" r="0.90"/><circle cx="429.6" cy="226.4" r="1.10"/><circle cx="430.4" cy="224.4" r="1.08"/><circle cx="430.8" cy="226.2" r="1.08"/><circle cx="432.2" cy="224.6" r="0.83"/><circle cx="432.2" cy="226.1" r="1.01"/><circle cx="433.2" cy="224.5" r="1.04"/><circle cx="433.0" cy="227.0" r="0.96"/><circle cx="434.7" cy="224.4" r="0.90"/><circle cx="434.6" cy="226.5" r="0.89"/><circle cx="435.6" cy="224.3" r="0.88"/><circle cx="435.8" cy="226.5" r="0.93"/><circle cx="437.3" cy="224.4" r="0.81"/><circle cx="437.0" cy="226.1" r="1.11"/><circle cx="438.6" cy="224.5" r="0.92"/><circle cx="438.4" cy="226.2" r="0.94"/><circle cx="439.7" cy="224.8" r="1.12"/><circle cx="439.5" cy="226.7" r="1.08"/><circle cx="441.2" cy="225.1" r="0.92"/><circle cx="441.1" cy="226.6" r="0.90"/><circle cx="442.4" cy="224.9" r="0.93"/><circle cx="442.0" cy="226.9" r="0.95"/><circle cx="443.8" cy="224.5" r="0.89"/><circle cx="443.7" cy="226.2" r="1.01"/><circle cx="444.8" cy="224.3" r="1.07"/><circle cx="445.0" cy="226.9" r="1.08"/><circle cx="446.3" cy="224.1" r="0.95"/><circle cx="445.9" cy="226.7" r="0.87"/><circle cx="447.3" cy="224.8" r="0.98"/><circle cx="447.4" cy="226.3" r="1.10"/><circle cx="448.9" cy="224.7" r="0.86"/><circle cx="448.8" cy="226.8" r="0.97"/><circle cx="450.3" cy="224.9" r="0.98"/><circle cx="449.9" cy="226.3" r="1.13"/><circle cx="451.4" cy="224.4" r="1.07"/><circle cx="451.6" cy="226.7" r="0.88"/><circle cx="452.5" cy="224.4" r="1.05"/><circle cx="452.6" cy="226.8" r="1.03"/><circle cx="454.1" cy="224.1" r="0.82"/><circle cx="454.0" cy="227.2" r="0.85"/><circle cx="455.5" cy="223.9" r="0.84"/><circle cx="455.1" cy="226.6" r="0.82"/><circle cx="456.3" cy="224.3" r="0.89"/><circle cx="456.5" cy="226.9" r="0.89"/><circle cx="458.1" cy="224.2" r="0.93"/><circle cx="457.7" cy="226.5" r="0.84"/><circle cx="458.9" cy="224.2" r="0.92"/><circle cx="459.5" cy="226.5" r="1.07"/><circle cx="460.7" cy="224.4" r="0.81"/><circle cx="460.4" cy="226.5" r="1.13"/><circle cx="462.1" cy="224.4" r="0.83"/><circle cx="461.8" cy="227.1" r="0.95"/><circle cx="463.1" cy="224.9" r="1.09"/><circle cx="463.4" cy="226.7" r="0.94"/><circle cx="464.4" cy="224.6" r="1.03"/><circle cx="464.2" cy="226.8" r="1.00"/><circle cx="465.4" cy="224.8" r="1.10"/><circle cx="466.0" cy="226.1" r="1.11"/><circle cx="467.1" cy="224.3" r="1.02"/><circle cx="466.7" cy="226.5" r="0.96"/><circle cx="468.5" cy="225.0" r="1.05"/><circle cx="468.4" cy="226.7" r="1.02"/><circle cx="469.6" cy="224.8" r="0.81"/><circle cx="469.5" cy="226.2" r="1.01"/><circle cx="470.8" cy="224.5" r="1.03"/><circle cx="470.9" cy="226.9" r="0.91"/><circle cx="472.4" cy="225.1" r="0.84"/><circle cx="471.9" cy="226.6" r="1.13"/><circle cx="473.3" cy="224.8" r="0.93"/><circle cx="473.4" cy="226.1" r="0.98"/><circle cx="474.7" cy="224.3" r="0.98"/><circle cx="474.8" cy="226.3" r="0.93"/><circle cx="476.0" cy="224.7" r="1.14"/><circle cx="476.0" cy="226.7" r="1.09"/><circle cx="477.1" cy="225.2" r="0.90"/><circle cx="477.7" cy="226.2" r="0.96"/><circle cx="478.9" cy="225.0" r="0.95"/><circle cx="478.7" cy="226.5" r="0.85"/><circle cx="480.3" cy="225.1" r="1.13"/><circle cx="479.9" cy="226.0" r="1.00"/><circle cx="481.6" cy="225.0" r="0.96"/><circle cx="481.4" cy="226.0" r="1.01"/><circle cx="482.3" cy="225.1" r="1.12"/><circle cx="482.3" cy="226.3" r="1.05"/><circle cx="483.9" cy="225.2" r="0.84"/><circle cx="483.7" cy="226.2" r="0.85"/><circle cx="485.0" cy="224.7" r="0.83"/><circle cx="485.4" cy="226.5" r="0.85"/><circle cx="486.3" cy="224.4" r="0.89"/><circle cx="486.7" cy="226.2" r="0.82"/><circle cx="487.7" cy="224.8" r="1.13"/><circle cx="487.5" cy="226.0" r="1.10"/><circle cx="489.2" cy="224.6" r="1.04"/><circle cx="489.1" cy="226.2" r="0.90"/><circle cx="490.2" cy="224.7" r="0.95"/><circle cx="490.2" cy="226.7" r="0.90"/><circle cx="491.9" cy="224.7" r="0.83"/><circle cx="491.4" cy="226.6" r="0.88"/><circle cx="493.2" cy="224.9" r="0.98"/><circle cx="493.3" cy="226.3" r="0.94"/><circle cx="494.6" cy="224.4" r="1.14"/><circle cx="494.1" cy="226.7" r="1.13"/><circle cx="495.4" cy="224.3" r="1.01"/><circle cx="495.8" cy="226.5" r="1.03"/><circle cx="497.2" cy="225.0" r="0.83"/><circle cx="497.0" cy="226.3" r="0.89"/><circle cx="498.3" cy="225.2" r="0.96"/><circle cx="497.9" cy="226.4" r="1.03"/><circle cx="499.6" cy="225.3" r="1.03"/><circle cx="499.8" cy="226.5" r="0.87"/><circle cx="500.7" cy="224.6" r="0.95"/><circle cx="500.9" cy="226.4" r="1.06"/><circle cx="502.1" cy="225.1" r="1.00"/><circle cx="502.4" cy="226.7" r="1.13"/><circle cx="503.4" cy="224.6" r="1.15"/><circle cx="503.6" cy="226.8" r="0.88"/><circle cx="504.9" cy="224.5" r="1.13"/><circle cx="504.9" cy="226.5" r="0.89"/><circle cx="505.9" cy="224.4" r="0.91"/><circle cx="506.2" cy="226.6" r="1.09"/><circle cx="507.1" cy="224.6" r="0.86"/><circle cx="507.2" cy="226.2" r="0.87"/><circle cx="508.8" cy="225.0" r="0.85"/><circle cx="508.5" cy="226.8" r="1.10"/><circle cx="509.7" cy="224.8" r="0.91"/><circle cx="509.9" cy="226.5" r="0.80"/><circle cx="511.5" cy="224.8" r="0.80"/><circle cx="511.5" cy="226.4" r="0.80"/><circle cx="512.2" cy="225.1" r="0.89"/><circle cx="512.6" cy="226.5" r="1.05"/><circle cx="513.7" cy="224.2" r="0.89"/><circle cx="514.1" cy="226.9" r="0.93"/><circle cx="515.3" cy="225.2" r="0.84"/><circle cx="515.3" cy="226.7" r="1.05"/><circle cx="516.6" cy="225.1" r="0.99"/><circle cx="516.2" cy="226.4" r="0.99"/><circle cx="517.8" cy="224.6" r="0.87"/><circle cx="517.8" cy="226.5" r="1.07"/><circle cx="519.2" cy="224.8" r="1.12"/><circle cx="519.3" cy="226.4" r="0.91"/><circle cx="520.2" cy="224.4" r="0.84"/><circle cx="520.4" cy="226.6" r="1.13"/><circle cx="521.8" cy="224.8" r="1.13"/><circle cx="521.8" cy="226.5" r="0.96"/><circle cx="523.0" cy="224.1" r="0.84"/><circle cx="523.0" cy="227.2" r="0.89"/><circle cx="523.9" cy="224.3" r="0.84"/><circle cx="524.5" cy="227.4" r="0.92"/><circle cx="525.7" cy="224.1" r="0.96"/><circle cx="525.8" cy="226.8" r="0.86"/><circle cx="526.8" cy="224.6" r="0.83"/><circle cx="526.7" cy="227.5" r="0.97"/><circle cx="528.3" cy="223.9" r="0.94"/><circle cx="527.9" cy="226.9" r="1.01"/><circle cx="529.3" cy="224.0" r="0.97"/><circle cx="529.3" cy="227.2" r="0.98"/><circle cx="530.5" cy="224.4" r="1.15"/><circle cx="530.4" cy="226.8" r="0.80"/><circle cx="532.2" cy="223.9" r="0.95"/><circle cx="532.2" cy="227.1" r="1.14"/><circle cx="533.0" cy="224.3" r="1.00"/><circle cx="533.4" cy="226.7" r="0.89"/><circle cx="534.5" cy="224.3" r="0.99"/><circle cx="534.3" cy="227.2" r="0.94"/><circle cx="536.0" cy="224.9" r="1.08"/><circle cx="536.2" cy="227.3" r="1.01"/><circle cx="536.9" cy="224.2" r="1.07"/><circle cx="537.0" cy="227.2" r="1.03"/><circle cx="538.8" cy="225.0" r="1.09"/><circle cx="538.4" cy="226.4" r="1.00"/><circle cx="539.9" cy="225.1" r="1.07"/><circle cx="540.1" cy="226.4" r="0.99"/><circle cx="541.1" cy="224.8" r="1.12"/><circle cx="541.1" cy="226.3" r="0.81"/></g>
<circle cx="546.2" cy="225.64000000000001" r="1.3" fill="#ff0052"/>
<circle cx="552.6" cy="225.64000000000001" r="1.4" fill="#ff0052"/>
<path d="M402.80,241.88C402.80,240.82 403.60,239.60 404.00,238.77C404.40,237.94 404.80,237.36 405.20,236.90C405.60,236.44 406.00,236.20 406.40,236.01C406.80,235.82 407.20,235.65 407.60,235.74C408.00,235.83 408.40,236.35 408.80,236.54C409.20,236.74 409.60,236.60 410.00,236.90C410.40,237.20 410.80,238.10 411.20,238.33C411.60,238.55 412.00,238.50 412.40,238.27C412.80,238.04 413.20,237.30 413.60,236.95C414.00,236.59 414.40,236.32 414.80,236.15C415.20,235.99 415.60,235.76 416.00,235.94C416.40,236.13 416.80,236.83 417.20,237.27C417.60,237.71 418.00,238.15 418.40,238.59C418.80,239.04 419.20,239.60 419.60,239.95C420.00,240.29 420.40,240.53 420.80,240.65C421.20,240.78 421.60,240.69 422.00,240.69C422.40,240.68 422.80,240.73 423.20,240.63C423.60,240.53 424.00,240.09 424.40,240.09C424.80,240.09 425.20,240.58 425.60,240.62C426.00,240.65 426.40,240.30 426.80,240.28C427.20,240.27 427.60,240.50 428.00,240.52C428.40,240.53 428.80,240.44 429.20,240.35C429.60,240.26 430.00,239.97 430.40,239.98C430.80,239.99 431.20,240.31 431.60,240.40C432.00,240.49 432.40,240.58 432.80,240.54C433.20,240.49 433.60,240.14 434.00,240.14C434.40,240.14 434.80,240.52 435.20,240.54C435.60,240.56 436.00,240.35 436.40,240.26C436.80,240.17 437.20,239.98 437.60,239.99C438.00,240.01 438.40,240.39 438.80,240.37C439.20,240.36 439.60,239.90 440.00,239.91C440.40,239.92 440.80,240.45 441.20,240.43C441.60,240.41 442.00,239.91 442.40,239.80C442.80,239.69 443.20,239.77 443.60,239.77C444.00,239.76 444.40,239.83 444.80,239.78C445.20,239.73 445.60,239.51 446.00,239.46C446.40,239.42 446.80,239.43 447.20,239.50C447.60,239.56 448.00,239.81 448.40,239.84C448.80,239.86 449.20,239.65 449.60,239.65C450.00,239.64 450.40,239.73 450.80,239.81C451.20,239.88 451.60,240.03 452.00,240.10C452.40,240.18 452.80,240.31 453.20,240.26C453.60,240.21 454.00,239.84 454.40,239.79C454.80,239.75 455.20,239.87 455.60,239.97C456.00,240.08 456.40,240.41 456.80,240.42C457.20,240.43 457.60,240.00 458.00,240.02C458.40,240.04 458.80,240.52 459.20,240.53C459.60,240.54 460.00,240.17 460.40,240.09C460.80,240.01 461.20,239.98 461.60,240.06C462.00,240.14 462.40,240.56 462.80,240.56C463.20,240.55 463.60,240.01 464.00,240.01C464.40,240.02 464.80,240.49 465.20,240.58C465.60,240.67 466.00,240.57 466.40,240.57C466.80,240.56 467.20,240.64 467.60,240.57C468.00,240.50 468.40,240.20 468.80,240.17C469.20,240.13 469.60,240.27 470.00,240.34C470.40,240.42 470.80,240.59 471.20,240.61C471.60,240.63 472.00,240.54 472.40,240.46C472.80,240.38 473.20,240.16 473.60,240.13C474.00,240.10 474.40,240.19 474.80,240.26C475.20,240.33 475.60,240.51 476.00,240.54C476.40,240.57 476.80,240.50 477.20,240.42C477.60,240.35 478.00,240.12 478.40,240.11C478.80,240.11 479.20,240.42 479.60,240.40C480.00,240.39 480.40,240.04 480.80,240.03C481.20,240.01 481.60,240.30 482.00,240.29C482.40,240.29 482.80,239.98 483.20,239.98C483.60,239.99 484.00,240.31 484.40,240.32C484.80,240.32 485.20,240.00 485.60,240.03C486.00,240.05 486.40,240.41 486.80,240.45C487.20,240.49 487.60,240.27 488.00,240.28C488.40,240.29 488.80,240.58 489.20,240.52C489.60,240.46 490.00,239.96 490.40,239.93C490.80,239.90 491.20,240.33 491.60,240.34C492.00,240.34 492.40,239.94 492.80,239.96C493.20,239.98 493.60,240.47 494.00,240.48C494.40,240.49 494.80,240.10 495.20,240.02C495.60,239.95 496.00,240.03 496.40,240.03C496.80,240.03 497.20,240.04 497.60,240.03C498.00,240.02 498.40,240.06 498.80,239.98C499.20,239.90 499.60,239.64 500.00,239.55C500.40,239.46 500.80,239.47 501.20,239.43C501.60,239.40 502.00,239.35 502.40,239.33C502.80,239.31 503.20,239.32 503.60,239.32C504.00,239.32 504.40,239.34 504.80,239.32C505.20,239.30 505.60,239.21 506.00,239.20C506.40,239.19 506.80,239.20 507.20,239.26C507.60,239.33 508.00,239.51 508.40,239.59C508.80,239.67 509.20,239.74 509.60,239.75C510.00,239.75 510.40,239.60 510.80,239.62C511.20,239.64 511.60,239.88 512.00,239.86C512.40,239.85 512.80,239.61 513.20,239.54C513.60,239.47 514.00,239.37 514.40,239.45C514.80,239.53 515.20,239.92 515.60,240.02C516.00,240.12 516.40,240.05 516.80,240.03C517.20,240.02 517.60,239.85 518.00,239.93C518.40,240.00 518.80,240.33 519.20,240.48C519.60,240.64 520.00,240.81 520.40,240.84C520.80,240.88 521.20,240.72 521.60,240.70C522.00,240.68 522.45,240.54 522.80,240.73C523.15,240.93 523.70,241.56 523.70,241.88C523.70,242.20 523.15,242.45 522.80,242.63C522.45,242.81 522.00,242.86 521.60,242.96C521.20,243.06 520.80,243.21 520.40,243.23C520.00,243.25 519.60,243.03 519.20,243.09C518.80,243.16 518.40,243.47 518.00,243.61C517.60,243.76 517.20,243.92 516.80,243.95C516.40,243.97 516.00,243.79 515.60,243.77C515.20,243.74 514.80,243.78 514.40,243.78C514.00,243.78 513.60,243.68 513.20,243.77C512.80,243.86 512.40,244.27 512.00,244.32C511.60,244.38 511.20,244.09 510.80,244.10C510.40,244.11 510.00,244.32 509.60,244.39C509.20,244.45 508.80,244.48 508.40,244.49C508.00,244.51 507.60,244.58 507.20,244.48C506.80,244.38 506.40,243.94 506.00,243.89C505.60,243.83 505.20,244.06 504.80,244.12C504.40,244.18 504.00,244.29 503.60,244.24C503.20,244.20 502.80,243.89 502.40,243.86C502.00,243.82 501.60,243.95 501.20,244.01C500.80,244.07 500.40,244.24 500.00,244.21C499.60,244.17 499.20,243.91 498.80,243.80C498.40,243.69 498.00,243.62 497.60,243.57C497.20,243.52 496.80,243.43 496.40,243.48C496.00,243.53 495.60,243.84 495.20,243.86C494.80,243.89 494.40,243.71 494.00,243.64C493.60,243.57 493.20,243.42 492.80,243.44C492.40,243.46 492.00,243.74 491.60,243.74C491.20,243.75 490.80,243.53 490.40,243.47C490.00,243.42 489.60,243.40 489.20,243.43C488.80,243.47 488.40,243.71 488.00,243.67C487.60,243.63 487.20,243.26 486.80,243.20C486.40,243.14 486.00,243.26 485.60,243.31C485.20,243.36 484.80,243.45 484.40,243.53C484.00,243.61 483.60,243.81 483.20,243.79C482.80,243.77 482.40,243.43 482.00,243.40C481.60,243.36 481.20,243.59 480.80,243.58C480.40,243.57 480.00,243.38 479.60,243.33C479.20,243.28 478.80,243.28 478.40,243.28C478.00,243.28 477.60,243.31 477.20,243.33C476.80,243.35 476.40,243.35 476.00,243.40C475.60,243.45 475.20,243.57 474.80,243.62C474.40,243.67 474.00,243.67 473.60,243.68C473.20,243.69 472.80,243.73 472.40,243.68C472.00,243.63 471.60,243.41 471.20,243.37C470.80,243.33 470.40,243.38 470.00,243.44C469.60,243.51 469.20,243.77 468.80,243.74C468.40,243.72 468.00,243.33 467.60,243.30C467.20,243.28 466.80,243.54 466.40,243.60C466.00,243.66 465.60,243.72 465.20,243.66C464.80,243.60 464.40,243.29 464.00,243.24C463.60,243.20 463.20,243.37 462.80,243.37C462.40,243.37 462.00,243.23 461.60,243.24C461.20,243.26 460.80,243.44 460.40,243.46C460.00,243.48 459.60,243.36 459.20,243.36C458.80,243.35 458.40,243.35 458.00,243.42C457.60,243.49 457.20,243.74 456.80,243.80C456.40,243.86 456.00,243.82 455.60,243.77C455.20,243.72 454.80,243.47 454.40,243.51C454.00,243.55 453.60,243.95 453.20,244.01C452.80,244.07 452.40,243.91 452.00,243.86C451.60,243.82 451.20,243.69 450.80,243.75C450.40,243.81 450.00,244.15 449.60,244.23C449.20,244.30 448.80,244.17 448.40,244.18C448.00,244.20 447.60,244.38 447.20,244.33C446.80,244.27 446.40,243.87 446.00,243.84C445.60,243.80 445.20,244.09 444.80,244.12C444.40,244.14 444.00,244.11 443.60,244.00C443.20,243.89 442.80,243.46 442.40,243.45C442.00,243.44 441.60,243.94 441.20,243.94C440.80,243.93 440.40,243.45 440.00,243.44C439.60,243.44 439.20,243.84 438.80,243.89C438.40,243.95 438.00,243.87 437.60,243.77C437.20,243.66 436.80,243.26 436.40,243.25C436.00,243.23 435.60,243.64 435.20,243.69C434.80,243.74 434.40,243.59 434.00,243.54C433.60,243.48 433.20,243.39 432.80,243.34C432.40,243.29 432.00,243.27 431.60,243.24C431.20,243.21 430.80,243.13 430.40,243.17C430.00,243.22 429.60,243.42 429.20,243.51C428.80,243.60 428.40,243.67 428.00,243.72C427.60,243.76 427.20,243.85 426.80,243.79C426.40,243.72 426.00,243.32 425.60,243.32C425.20,243.32 424.80,243.77 424.40,243.78C424.00,243.80 423.60,243.47 423.20,243.40C422.80,243.34 422.40,243.46 422.00,243.39C421.60,243.33 421.20,243.03 420.80,243.02C420.40,243.00 420.00,242.98 419.60,243.32C419.20,243.66 418.80,244.49 418.40,245.05C418.00,245.60 417.60,246.20 417.20,246.67C416.80,247.14 416.40,247.66 416.00,247.87C415.60,248.08 415.20,248.10 414.80,247.94C414.40,247.78 414.00,247.30 413.60,246.91C413.20,246.52 412.80,245.94 412.40,245.60C412.00,245.26 411.60,244.79 411.20,244.90C410.80,245.02 410.40,245.87 410.00,246.29C409.60,246.71 409.20,247.11 408.80,247.43C408.40,247.75 408.00,248.15 407.60,248.19C407.20,248.23 406.80,247.92 406.40,247.68C406.00,247.44 405.60,247.18 405.20,246.76C404.80,246.34 404.40,245.97 404.00,245.16C403.60,244.34 402.80,242.94 402.80,241.88Z" fill="url(#g14)"/>
<g fill="url(#g14)"><circle cx="403.3" cy="241.1" r="0.92"/><circle cx="403.5" cy="242.9" r="1.13"/><circle cx="404.5" cy="238.6" r="0.95"/><circle cx="404.7" cy="245.8" r="0.97"/><circle cx="405.8" cy="237.6" r="1.00"/><circle cx="405.9" cy="247.0" r="0.86"/><circle cx="407.1" cy="236.5" r="1.11"/><circle cx="407.3" cy="247.2" r="0.95"/><circle cx="408.3" cy="236.6" r="0.81"/><circle cx="408.5" cy="247.3" r="1.04"/><circle cx="409.8" cy="238.3" r="1.09"/><circle cx="410.0" cy="245.7" r="0.99"/><circle cx="411.2" cy="239.6" r="0.82"/><circle cx="411.3" cy="244.2" r="1.06"/><circle cx="412.3" cy="239.3" r="0.96"/><circle cx="412.7" cy="244.8" r="0.86"/><circle cx="413.7" cy="237.1" r="1.05"/><circle cx="413.9" cy="246.3" r="1.01"/><circle cx="414.9" cy="236.1" r="1.00"/><circle cx="415.1" cy="247.3" r="1.04"/><circle cx="416.3" cy="236.9" r="0.84"/><circle cx="416.1" cy="246.9" r="1.10"/><circle cx="417.9" cy="238.6" r="1.10"/><circle cx="417.5" cy="245.3" r="0.91"/><circle cx="419.2" cy="240.5" r="0.90"/><circle cx="419.1" cy="243.6" r="1.07"/><circle cx="420.2" cy="240.9" r="1.14"/><circle cx="420.6" cy="242.2" r="0.80"/><circle cx="421.5" cy="241.1" r="0.99"/><circle cx="421.4" cy="242.7" r="0.91"/><circle cx="423.1" cy="241.2" r="0.99"/><circle cx="423.1" cy="242.4" r="0.81"/><circle cx="423.9" cy="241.2" r="0.97"/><circle cx="424.4" cy="242.8" r="1.03"/><circle cx="425.7" cy="240.8" r="0.96"/><circle cx="425.5" cy="242.9" r="0.87"/><circle cx="426.6" cy="241.3" r="1.06"/><circle cx="426.5" cy="242.6" r="0.92"/><circle cx="428.2" cy="241.4" r="1.06"/><circle cx="427.8" cy="242.9" r="1.06"/><circle cx="429.1" cy="241.2" r="0.85"/><circle cx="429.2" cy="243.1" r="0.98"/><circle cx="430.5" cy="240.9" r="1.13"/><circle cx="430.7" cy="242.5" r="1.04"/><circle cx="432.3" cy="241.6" r="1.13"/><circle cx="431.9" cy="242.5" r="0.92"/><circle cx="433.6" cy="241.5" r="0.95"/><circle cx="433.2" cy="242.2" r="1.09"/><circle cx="434.4" cy="241.4" r="1.11"/><circle cx="434.5" cy="242.5" r="0.84"/><circle cx="435.7" cy="240.9" r="0.86"/><circle cx="435.8" cy="242.8" r="0.96"/><circle cx="437.4" cy="241.2" r="1.07"/><circle cx="437.4" cy="242.8" r="1.12"/><circle cx="438.4" cy="241.3" r="0.97"/><circle cx="438.6" cy="242.3" r="1.11"/><circle cx="440.1" cy="241.4" r="1.12"/><circle cx="439.6" cy="242.9" r="1.05"/><circle cx="441.0" cy="240.9" r="1.09"/><circle cx="440.9" cy="243.0" r="1.03"/><circle cx="442.7" cy="241.1" r="0.95"/><circle cx="442.1" cy="242.7" r="1.05"/><circle cx="443.5" cy="240.6" r="0.84"/><circle cx="443.9" cy="242.8" r="0.86"/><circle cx="445.3" cy="241.0" r="1.02"/><circle cx="445.2" cy="243.2" r="0.88"/><circle cx="446.2" cy="240.7" r="1.13"/><circle cx="446.2" cy="243.6" r="1.14"/><circle cx="447.4" cy="240.5" r="1.11"/><circle cx="447.3" cy="243.6" r="1.13"/><circle cx="449.1" cy="240.4" r="1.07"/><circle cx="449.2" cy="243.0" r="0.83"/><circle cx="450.4" cy="240.8" r="1.07"/><circle cx="450.1" cy="243.4" r="1.04"/><circle cx="451.8" cy="240.6" r="0.82"/><circle cx="451.5" cy="243.4" r="1.08"/><circle cx="452.8" cy="241.1" r="0.91"/><circle cx="452.5" cy="243.4" r="0.97"/><circle cx="454.0" cy="240.4" r="1.04"/><circle cx="454.4" cy="242.4" r="1.13"/><circle cx="455.6" cy="240.8" r="1.05"/><circle cx="455.7" cy="243.0" r="0.81"/><circle cx="456.9" cy="241.1" r="1.01"/><circle cx="457.0" cy="242.8" r="0.81"/><circle cx="457.7" cy="240.3" r="0.81"/><circle cx="457.8" cy="242.4" r="1.06"/><circle cx="459.4" cy="241.0" r="1.11"/><circle cx="459.2" cy="243.3" r="0.85"/><circle cx="460.5" cy="241.3" r="0.80"/><circle cx="460.3" cy="243.1" r="1.15"/><circle cx="462.1" cy="241.6" r="1.09"/><circle cx="461.9" cy="242.7" r="1.04"/><circle cx="463.2" cy="240.6" r="0.85"/><circle cx="463.5" cy="242.8" r="0.85"/><circle cx="464.3" cy="241.0" r="0.89"/><circle cx="464.5" cy="243.1" r="1.03"/><circle cx="465.8" cy="240.5" r="0.98"/><circle cx="465.5" cy="242.6" r="0.88"/><circle cx="466.8" cy="241.0" r="0.91"/><circle cx="467.4" cy="242.8" r="0.81"/><circle cx="468.5" cy="240.9" r="1.11"/><circle cx="468.3" cy="242.9" r="1.07"/><circle cx="469.7" cy="240.8" r="0.87"/><circle cx="469.5" cy="242.5" r="1.07"/><circle cx="471.2" cy="240.6" r="1.09"/><circle cx="470.8" cy="242.4" r="0.84"/><circle cx="472.5" cy="240.9" r="1.05"/><circle cx="472.3" cy="242.7" r="1.07"/><circle cx="473.7" cy="241.0" r="1.12"/><circle cx="473.6" cy="243.0" r="1.01"/><circle cx="474.6" cy="241.1" r="1.00"/><circle cx="474.9" cy="242.8" r="0.95"/><circle cx="476.1" cy="241.1" r="0.93"/><circle cx="476.5" cy="242.4" r="0.93"/><circle cx="477.7" cy="241.0" r="0.81"/><circle cx="477.6" cy="242.6" r="0.96"/><circle cx="478.5" cy="240.6" r="0.88"/><circle cx="478.7" cy="242.6" r="1.13"/><circle cx="479.8" cy="240.6" r="0.91"/><circle cx="479.9" cy="242.4" r="1.09"/><circle cx="481.6" cy="241.1" r="1.04"/><circle cx="481.2" cy="243.1" r="0.94"/><circle cx="483.0" cy="241.5" r="1.10"/><circle cx="483.0" cy="242.9" r="1.01"/><circle cx="483.8" cy="241.4" r="0.96"/><circle cx="483.7" cy="243.0" r="1.06"/><circle cx="485.3" cy="240.7" r="1.03"/><circle cx="485.4" cy="242.2" r="1.13"/><circle cx="486.5" cy="241.3" r="1.01"/><circle cx="486.8" cy="242.3" r="1.13"/><circle cx="487.8" cy="240.9" r="0.88"/><circle cx="487.9" cy="243.1" r="0.91"/><circle cx="489.4" cy="241.1" r="0.86"/><circle cx="489.5" cy="242.5" r="1.13"/><circle cx="490.2" cy="241.1" r="1.01"/><circle cx="490.6" cy="242.6" r="1.02"/><circle cx="491.5" cy="240.8" r="0.81"/><circle cx="491.7" cy="243.0" r="0.86"/><circle cx="493.1" cy="241.3" r="1.12"/><circle cx="492.9" cy="243.1" r="1.01"/><circle cx="494.2" cy="240.9" r="0.85"/><circle cx="494.2" cy="242.4" r="1.12"/><circle cx="495.5" cy="241.0" r="0.85"/><circle cx="495.9" cy="242.8" r="0.94"/><circle cx="496.9" cy="240.5" r="0.97"/><circle cx="496.9" cy="243.3" r="1.12"/><circle cx="498.6" cy="240.6" r="0.89"/><circle cx="498.2" cy="242.8" r="1.04"/><circle cx="499.9" cy="240.7" r="0.85"/><circle cx="499.6" cy="243.1" r="1.04"/><circle cx="500.7" cy="240.6" r="0.87"/><circle cx="500.9" cy="242.7" r="1.04"/><circle cx="502.2" cy="240.9" r="1.05"/><circle cx="502.0" cy="243.8" r="0.89"/><circle cx="503.4" cy="240.6" r="0.99"/><circle cx="503.3" cy="243.3" r="0.90"/><circle cx="505.0" cy="240.2" r="1.08"/><circle cx="504.9" cy="243.0" r="1.11"/><circle cx="505.9" cy="240.4" r="0.82"/><circle cx="506.3" cy="243.6" r="0.98"/><circle cx="507.2" cy="239.7" r="0.95"/><circle cx="507.3" cy="243.0" r="1.06"/><circle cx="508.5" cy="240.0" r="1.14"/><circle cx="508.8" cy="243.5" r="0.84"/><circle cx="509.9" cy="240.8" r="1.11"/><circle cx="510.2" cy="244.0" r="0.87"/><circle cx="511.4" cy="240.6" r="1.03"/><circle cx="511.0" cy="243.9" r="0.90"/><circle cx="512.7" cy="240.4" r="0.82"/><circle cx="512.6" cy="243.9" r="0.87"/><circle cx="513.7" cy="240.3" r="0.89"/><circle cx="513.9" cy="242.9" r="1.03"/><circle cx="514.9" cy="241.0" r="1.11"/><circle cx="515.2" cy="243.2" r="0.88"/><circle cx="516.7" cy="240.4" r="0.99"/><circle cx="516.2" cy="243.3" r="0.96"/><circle cx="517.7" cy="241.2" r="0.81"/><circle cx="518.0" cy="242.4" r="1.01"/><circle cx="519.3" cy="240.9" r="0.90"/><circle cx="519.2" cy="243.0" r="0.84"/><circle cx="520.2" cy="241.1" r="0.94"/><circle cx="520.1" cy="242.2" r="0.91"/><circle cx="521.4" cy="241.6" r="0.94"/><circle cx="521.7" cy="242.1" r="0.99"/></g>
<circle cx="526.9" cy="241.88" r="1.3" fill="#ff0052"/>
<circle cx="530.5" cy="241.88" r="1.4" fill="#ff0052"/>
<path d="M415.90,258.12C415.90,257.47 416.57,256.88 416.90,256.02C417.23,255.17 417.57,253.74 417.90,252.99C418.23,252.24 418.57,251.71 418.90,251.52C419.23,251.34 419.57,251.36 419.90,251.86C420.23,252.36 420.57,253.86 420.90,254.54C421.23,255.22 421.57,255.69 421.90,255.92C422.23,256.16 422.57,255.98 422.90,255.96C423.23,255.94 423.57,255.86 423.90,255.82C424.23,255.77 424.57,255.72 424.90,255.68C425.23,255.64 425.57,255.59 425.90,255.56C426.23,255.53 426.57,255.46 426.90,255.47C427.23,255.48 427.57,255.61 427.90,255.61C428.23,255.61 428.57,255.45 428.90,255.46C429.23,255.47 429.57,255.61 429.90,255.67C430.23,255.74 430.57,255.81 430.90,255.82C431.23,255.84 431.57,255.75 431.90,255.76C432.23,255.77 432.57,255.84 432.90,255.87C433.23,255.91 433.57,255.96 433.90,255.99C434.23,256.02 434.57,255.99 434.90,256.05C435.23,256.11 435.57,256.25 435.90,256.34C436.23,256.42 436.57,256.44 436.90,256.55C437.23,256.67 437.57,256.77 437.90,257.03C438.23,257.29 438.90,257.77 438.90,258.12C438.90,258.47 438.23,258.88 437.90,259.14C437.57,259.39 437.23,259.54 436.90,259.65C436.57,259.76 436.23,259.73 435.90,259.79C435.57,259.84 435.23,259.88 434.90,259.98C434.57,260.07 434.23,260.28 433.90,260.35C433.57,260.41 433.23,260.31 432.90,260.36C432.57,260.41 432.23,260.56 431.90,260.62C431.57,260.67 431.23,260.70 430.90,260.69C430.57,260.68 430.23,260.54 429.90,260.55C429.57,260.57 429.23,260.75 428.90,260.76C428.57,260.76 428.23,260.55 427.90,260.56C427.57,260.57 427.23,260.78 426.90,260.80C426.57,260.83 426.23,260.79 425.90,260.72C425.57,260.65 425.23,260.43 424.90,260.39C424.57,260.34 424.23,260.42 423.90,260.46C423.57,260.49 423.23,260.61 422.90,260.59C422.57,260.58 422.23,260.20 421.90,260.37C421.57,260.54 421.23,260.96 420.90,261.62C420.57,262.27 420.23,263.77 419.90,264.29C419.57,264.81 419.23,264.87 418.90,264.74C418.57,264.61 418.23,264.29 417.90,263.49C417.57,262.69 417.23,260.83 416.90,259.93C416.57,259.04 415.90,258.77 415.90,258.12Z" fill="url(#g15)"/>
<g fill="url(#g15)"><circle cx="416.8" cy="257.1" r="0.90"/><circle cx="416.2" cy="258.5" r="0.91"/><circle cx="417.3" cy="254.1" r="1.14"/><circle cx="417.6" cy="262.0" r="0.99"/><circle cx="418.7" cy="252.9" r="0.94"/><circle cx="418.4" cy="263.2" r="1.12"/><circle cx="419.9" cy="252.4" r="1.04"/><circle cx="420.1" cy="263.1" r="1.04"/><circle cx="420.7" cy="255.0" r="0.80"/><circle cx="420.9" cy="261.2" r="0.85"/><circle cx="422.0" cy="256.0" r="0.85"/><circle cx="421.9" cy="259.6" r="1.06"/><circle cx="423.4" cy="256.2" r="0.90"/><circle cx="423.0" cy="259.9" r="1.04"/><circle cx="424.4" cy="256.6" r="0.97"/><circle cx="424.3" cy="259.6" r="1.11"/><circle cx="425.5" cy="256.4" r="1.00"/><circle cx="425.0" cy="260.1" r="1.14"/><circle cx="426.4" cy="256.1" r="1.05"/><circle cx="426.3" cy="260.2" r="0.85"/><circle cx="427.4" cy="255.9" r="1.09"/><circle cx="427.2" cy="259.5" r="1.03"/><circle cx="428.6" cy="256.3" r="0.83"/><circle cx="428.6" cy="259.6" r="0.89"/><circle cx="429.9" cy="256.4" r="1.12"/><circle cx="429.6" cy="260.0" r="0.96"/><circle cx="431.1" cy="255.9" r="0.92"/><circle cx="431.0" cy="259.3" r="1.05"/><circle cx="431.8" cy="256.8" r="0.84"/><circle cx="432.2" cy="260.1" r="0.95"/><circle cx="432.8" cy="256.9" r="1.14"/><circle cx="432.8" cy="259.4" r="0.81"/><circle cx="434.0" cy="256.6" r="0.98"/><circle cx="434.2" cy="259.3" r="1.00"/><circle cx="435.3" cy="256.8" r="1.06"/><circle cx="435.2" cy="259.0" r="0.96"/><circle cx="436.3" cy="257.0" r="0.81"/><circle cx="436.6" cy="259.5" r="0.87"/><circle cx="437.6" cy="257.7" r="1.10"/><circle cx="437.2" cy="259.0" r="0.86"/></g>
<circle cx="419.3" cy="252.8" r="1.25" fill="#6f62e6"/>
<circle cx="419.9" cy="254.1" r="1.1" fill="#8a4bdc"/>
<circle cx="419.3" cy="263.4" r="1.25" fill="#6f62e6"/>
<circle cx="419.9" cy="262.1" r="1.1" fill="#8a4bdc"/>
<path d="M415.70,274.36C415.70,273.69 416.37,272.96 416.70,272.19C417.03,271.42 417.37,270.44 417.70,269.76C418.03,269.07 418.37,268.34 418.70,268.07C419.03,267.80 419.37,267.76 419.70,268.15C420.03,268.54 420.37,269.77 420.70,270.42C421.03,271.08 421.37,271.77 421.70,272.06C422.03,272.35 422.37,272.20 422.70,272.17C423.03,272.15 423.37,271.95 423.70,271.93C424.03,271.91 424.37,272.10 424.70,272.06C425.03,272.03 425.37,271.79 425.70,271.72C426.03,271.64 426.37,271.58 426.70,271.61C427.03,271.65 427.37,271.86 427.70,271.92C428.03,271.97 428.37,271.90 428.70,271.93C429.03,271.97 429.37,272.10 429.70,272.12C430.03,272.15 430.37,272.00 430.70,272.07C431.03,272.15 431.37,272.43 431.70,272.57C432.03,272.70 432.37,272.81 432.70,272.91C433.03,273.00 433.37,272.87 433.70,273.11C434.03,273.35 434.70,273.95 434.70,274.36C434.70,274.77 434.03,275.32 433.70,275.58C433.37,275.85 433.03,275.87 432.70,275.96C432.37,276.04 432.03,276.00 431.70,276.07C431.37,276.14 431.03,276.30 430.70,276.38C430.37,276.45 430.03,276.41 429.70,276.50C429.37,276.60 429.03,276.87 428.70,276.96C428.37,277.05 428.03,277.08 427.70,277.05C427.37,277.02 427.03,276.76 426.70,276.77C426.37,276.78 426.03,277.09 425.70,277.10C425.37,277.12 425.03,276.89 424.70,276.85C424.37,276.81 424.03,276.88 423.70,276.88C423.37,276.89 423.03,276.90 422.70,276.86C422.37,276.82 422.03,276.37 421.70,276.65C421.37,276.93 421.03,277.82 420.70,278.52C420.37,279.23 420.03,280.49 419.70,280.86C419.37,281.24 419.03,281.04 418.70,280.75C418.37,280.46 418.03,279.86 417.70,279.10C417.37,278.34 417.03,276.97 416.70,276.18C416.37,275.39 415.70,275.03 415.70,274.36Z" fill="url(#g16)"/>
<g fill="url(#g16)"><circle cx="416.5" cy="274.2" r="0.89"/><circle cx="416.6" cy="274.8" r="0.95"/><circle cx="417.5" cy="271.4" r="0.93"/><circle cx="417.5" cy="277.1" r="1.05"/><circle cx="418.2" cy="268.8" r="1.12"/><circle cx="418.3" cy="279.4" r="0.92"/><circle cx="419.8" cy="268.8" r="1.15"/><circle cx="419.9" cy="280.4" r="1.08"/><circle cx="420.5" cy="271.1" r="0.99"/><circle cx="420.9" cy="277.7" r="1.14"/><circle cx="421.7" cy="272.8" r="1.10"/><circle cx="421.6" cy="276.3" r="1.10"/><circle cx="422.9" cy="272.6" r="0.81"/><circle cx="423.2" cy="276.0" r="0.85"/><circle cx="423.9" cy="272.5" r="0.86"/><circle cx="423.7" cy="275.7" r="0.95"/><circle cx="424.8" cy="272.9" r="1.05"/><circle cx="425.4" cy="276.4" r="1.08"/><circle cx="425.9" cy="272.2" r="0.86"/><circle cx="426.1" cy="275.7" r="1.01"/><circle cx="427.1" cy="272.5" r="0.95"/><circle cx="427.1" cy="275.6" r="1.14"/><circle cx="428.1" cy="273.0" r="1.04"/><circle cx="428.7" cy="275.9" r="0.95"/><circle cx="429.5" cy="273.0" r="0.91"/><circle cx="429.6" cy="275.8" r="0.94"/><circle cx="430.4" cy="273.4" r="1.08"/><circle cx="430.6" cy="276.2" r="1.02"/><circle cx="431.9" cy="273.1" r="0.84"/><circle cx="431.4" cy="275.5" r="0.93"/><circle cx="432.8" cy="273.8" r="1.07"/><circle cx="432.9" cy="274.9" r="1.04"/></g>
<circle cx="419.3" cy="269.0" r="1.25" fill="#6f62e6"/>
<circle cx="419.9" cy="270.3" r="1.1" fill="#8a4bdc"/>
<circle cx="419.3" cy="279.8" r="1.25" fill="#6f62e6"/>
<circle cx="419.9" cy="278.5" r="1.1" fill="#8a4bdc"/>
<path d="M415.70,290.60C415.70,289.96 416.37,289.55 416.70,288.75C417.03,287.94 417.37,286.57 417.70,285.78C418.03,284.99 418.37,284.27 418.70,284.00C419.03,283.74 419.37,283.78 419.70,284.20C420.03,284.63 420.37,285.86 420.70,286.55C421.03,287.24 421.37,288.08 421.70,288.33C422.03,288.59 422.37,288.14 422.70,288.07C423.03,288.00 423.37,287.93 423.70,287.92C424.03,287.90 424.37,287.93 424.70,287.99C425.03,288.06 425.37,288.27 425.70,288.29C426.03,288.30 426.37,287.95 426.70,288.09C427.03,288.23 427.37,288.94 427.70,289.15C428.03,289.35 428.37,289.15 428.70,289.33C429.03,289.51 429.48,290.01 429.70,290.22C429.92,290.44 430.00,290.47 430.00,290.60C430.00,290.72 429.92,290.77 429.70,290.98C429.48,291.18 429.03,291.64 428.70,291.83C428.37,292.02 428.03,291.97 427.70,292.12C427.37,292.27 427.03,292.60 426.70,292.74C426.37,292.88 426.03,292.88 425.70,292.97C425.37,293.06 425.03,293.27 424.70,293.29C424.37,293.31 424.03,293.15 423.70,293.08C423.37,293.02 423.03,292.90 422.70,292.89C422.37,292.88 422.03,292.74 421.70,293.04C421.37,293.34 421.03,294.04 420.70,294.70C420.37,295.35 420.03,296.57 419.70,296.96C419.37,297.34 419.03,297.26 418.70,297.02C418.37,296.79 418.03,296.30 417.70,295.56C417.37,294.82 417.03,293.39 416.70,292.56C416.37,291.74 415.70,291.24 415.70,290.60Z" fill="url(#g17)"/>
<g fill="url(#g17)"><circle cx="416.4" cy="290.6" r="1.13"/><circle cx="416.0" cy="291.3" r="0.82"/><circle cx="417.4" cy="287.1" r="0.81"/><circle cx="417.6" cy="293.8" r="0.87"/><circle cx="418.4" cy="285.1" r="1.14"/><circle cx="418.3" cy="296.3" r="0.99"/><circle cx="419.4" cy="284.9" r="0.80"/><circle cx="419.6" cy="295.8" r="1.11"/><circle cx="420.8" cy="287.0" r="0.90"/><circle cx="420.9" cy="293.9" r="0.84"/><circle cx="421.7" cy="289.0" r="0.98"/><circle cx="422.1" cy="292.5" r="1.15"/><circle cx="423.0" cy="289.4" r="1.06"/><circle cx="423.1" cy="292.5" r="0.81"/><circle cx="423.9" cy="289.0" r="1.02"/><circle cx="424.0" cy="291.8" r="1.12"/><circle cx="425.0" cy="289.2" r="0.92"/><circle cx="425.4" cy="292.6" r="1.14"/><circle cx="426.1" cy="289.2" r="0.80"/><circle cx="426.4" cy="292.5" r="1.05"/><circle cx="427.0" cy="290.1" r="1.08"/><circle cx="427.5" cy="292.1" r="0.83"/><circle cx="428.2" cy="289.7" r="0.98"/><circle cx="428.3" cy="290.7" r="0.84"/></g>
<circle cx="419.3" cy="285.1" r="1.25" fill="#6f62e6"/>
<circle cx="419.9" cy="286.4" r="1.1" fill="#8a4bdc"/>
<circle cx="419.3" cy="296.1" r="1.25" fill="#6f62e6"/>
<circle cx="419.9" cy="294.8" r="1.1" fill="#8a4bdc"/>
<line x1="386.00" y1="393.20" x2="619.50" y2="393.20" stroke="#dadada" stroke-width="0.8" stroke-dasharray="0.7 1.05"/>
<line x1="386.00" y1="409.38" x2="619.50" y2="409.38" stroke="#dadada" stroke-width="0.8" stroke-dasharray="0.7 1.05"/>
<line x1="386.00" y1="425.56" x2="619.50" y2="425.56" stroke="#dadada" stroke-width="0.8" stroke-dasharray="0.7 1.05"/>
<line x1="386.00" y1="441.74" x2="619.50" y2="441.74" stroke="#dadada" stroke-width="0.8" stroke-dasharray="0.7 1.05"/>
<line x1="386.00" y1="457.92" x2="619.50" y2="457.92" stroke="#dadada" stroke-width="0.8" stroke-dasharray="0.7 1.05"/>
<line x1="386.00" y1="474.10" x2="619.50" y2="474.10" stroke="#dadada" stroke-width="0.8" stroke-dasharray="0.7 1.05"/>
<line x1="422.50" y1="377.20" x2="422.50" y2="490.60" stroke="#999" stroke-width="1.25" />
<line x1="386.00" y1="490.60" x2="619.80" y2="490.60" stroke="#858585" stroke-width="1.35" />
<line x1="389.65" y1="490.60" x2="389.65" y2="493.20" stroke="#858585" stroke-width="1.2" />
<text x="389.65" y="509.00" font-size="16.3" text-anchor="middle" fill="#1a1a1a" >-0.3</text>
<line x1="422.50" y1="490.60" x2="422.50" y2="493.20" stroke="#858585" stroke-width="1.2" />
<text x="422.50" y="509.00" font-size="16.3" text-anchor="middle" fill="#1a1a1a" >0.0</text>
<line x1="455.35" y1="490.60" x2="455.35" y2="493.20" stroke="#858585" stroke-width="1.2" />
<text x="455.35" y="509.00" font-size="16.3" text-anchor="middle" fill="#1a1a1a" >0.3</text>
<line x1="488.20" y1="490.60" x2="488.20" y2="493.20" stroke="#858585" stroke-width="1.2" />
<text x="488.20" y="509.00" font-size="16.3" text-anchor="middle" fill="#1a1a1a" >0.6</text>
<line x1="521.05" y1="490.60" x2="521.05" y2="493.20" stroke="#858585" stroke-width="1.2" />
<text x="521.05" y="509.00" font-size="16.3" text-anchor="middle" fill="#1a1a1a" >0.9</text>
<line x1="553.90" y1="490.60" x2="553.90" y2="493.20" stroke="#858585" stroke-width="1.2" />
<text x="553.90" y="509.00" font-size="16.3" text-anchor="middle" fill="#1a1a1a" >1.2</text>
<line x1="586.75" y1="490.60" x2="586.75" y2="493.20" stroke="#858585" stroke-width="1.2" />
<text x="586.75" y="509.00" font-size="16.3" text-anchor="middle" fill="#1a1a1a" >1.5</text>
<line x1="619.60" y1="490.60" x2="619.60" y2="493.20" stroke="#858585" stroke-width="1.2" />
<text x="619.60" y="509.00" font-size="16.3" text-anchor="middle" fill="#1a1a1a" >1.8</text>
<text x="369.40" y="399.70" font-size="16.3" text-anchor="end" fill="#1a1a1a" >PM10</text>
<text x="369.40" y="415.88" font-size="16.3" text-anchor="end" fill="#1a1a1a" >PM2.5</text>
<text x="369.40" y="432.06" font-size="16.3" text-anchor="end" fill="#1a1a1a" >O3</text>
<text x="369.40" y="448.24" font-size="16.3" text-anchor="end" fill="#1a1a1a" >SO2</text>
<text x="369.40" y="464.42" font-size="16.3" text-anchor="end" fill="#1a1a1a" >CO</text>
<text x="369.40" y="480.60" font-size="16.3" text-anchor="end" fill="#1a1a1a" >NO2</text>
<rect x="634" y="377.10" width="1.9" height="113.20" fill="url(#cb19)"/>
<text x="638.30" y="383.60" font-size="16.3" text-anchor="start" fill="#1a1a1a" >High</text>
<text x="638.50" y="496.80" font-size="16.3" text-anchor="start" fill="#1a1a1a" >Low</text>
<text transform="translate(683.6,433.70) rotate(-90)" font-size="16.6" text-anchor="middle" fill="#1a1a1a">Feature value</text>
<text transform="translate(502.60,525.80) scale(1.019,1.0)" font-size="16.3" text-anchor="middle" fill="#1a1a1a" >SHAP value (impact on module output)</text>
<text transform="translate(522.10,544.20) scale(1.06,1.0)" font-size="16.4" text-anchor="middle" fill="#111" >(f)</text>
<path d="M394.20,393.20C394.20,392.38 395.00,391.14 395.40,390.54C395.80,389.94 396.20,389.84 396.60,389.61C397.00,389.37 397.40,389.30 397.80,389.14C398.20,388.97 398.60,388.94 399.00,388.62C399.40,388.30 399.80,387.50 400.20,387.21C400.60,386.92 401.00,386.88 401.40,386.87C401.80,386.87 402.20,387.03 402.60,387.17C403.00,387.31 403.40,387.35 403.80,387.72C404.20,388.09 404.60,389.03 405.00,389.40C405.40,389.76 405.80,389.68 406.20,389.89C406.60,390.09 407.00,390.44 407.40,390.62C407.80,390.81 408.20,391.05 408.60,390.98C409.00,390.90 409.40,390.45 409.80,390.18C410.20,389.92 410.60,389.56 411.00,389.41C411.40,389.25 411.80,389.36 412.20,389.26C412.60,389.17 413.00,388.86 413.40,388.84C413.80,388.83 414.20,389.02 414.60,389.16C415.00,389.31 415.40,389.52 415.80,389.70C416.20,389.87 416.60,390.00 417.00,390.23C417.40,390.47 417.80,391.00 418.20,391.10C418.60,391.19 419.00,390.75 419.40,390.80C419.80,390.85 420.20,391.33 420.60,391.41C421.00,391.48 421.40,391.19 421.80,391.27C422.20,391.35 422.60,391.78 423.00,391.89C423.40,392.00 423.80,391.89 424.20,391.91C424.60,391.92 425.00,392.04 425.40,391.98C425.80,391.92 426.20,391.57 426.60,391.54C427.00,391.52 427.40,391.82 427.80,391.83C428.20,391.84 428.60,391.61 429.00,391.59C429.40,391.58 429.80,391.74 430.20,391.74C430.60,391.74 431.00,391.64 431.40,391.61C431.80,391.58 432.20,391.56 432.60,391.55C433.00,391.53 433.40,391.52 433.80,391.54C434.20,391.57 434.60,391.74 435.00,391.69C435.40,391.65 435.80,391.24 436.20,391.26C436.60,391.29 437.00,391.77 437.40,391.86C437.80,391.95 438.20,391.79 438.60,391.79C439.00,391.79 439.40,391.89 439.80,391.86C440.20,391.83 440.60,391.62 441.00,391.60C441.40,391.59 441.80,391.74 442.20,391.77C442.60,391.80 443.00,391.81 443.40,391.81C443.80,391.81 444.20,391.79 444.60,391.77C445.00,391.75 445.40,391.72 445.80,391.69C446.20,391.67 446.60,391.60 447.00,391.62C447.40,391.64 447.80,391.87 448.20,391.81C448.60,391.75 449.00,391.27 449.40,391.26C449.80,391.25 450.20,391.76 450.60,391.73C451.00,391.70 451.40,391.10 451.80,391.07C452.20,391.03 452.60,391.53 453.00,391.52C453.40,391.51 453.80,391.06 454.20,391.01C454.60,390.97 455.00,391.18 455.40,391.26C455.80,391.34 456.20,391.52 456.60,391.50C457.00,391.48 457.40,391.20 457.80,391.14C458.20,391.08 458.60,391.10 459.00,391.13C459.40,391.16 459.80,391.23 460.20,391.31C460.60,391.38 461.00,391.62 461.40,391.56C461.80,391.50 462.20,390.97 462.60,390.96C463.00,390.96 463.40,391.45 463.80,391.54C464.20,391.62 464.60,391.50 465.00,391.50C465.40,391.49 465.80,391.57 466.20,391.51C466.60,391.44 467.00,391.11 467.40,391.10C467.80,391.09 468.20,391.36 468.60,391.44C469.00,391.52 469.40,391.58 469.80,391.56C470.20,391.54 470.60,391.32 471.00,391.32C471.40,391.32 471.80,391.57 472.20,391.57C472.60,391.57 473.00,391.29 473.40,391.33C473.80,391.37 474.20,391.81 474.60,391.84C475.00,391.87 475.40,391.54 475.80,391.50C476.20,391.46 476.60,391.60 477.00,391.58C477.40,391.57 477.80,391.42 478.20,391.42C478.60,391.42 479.00,391.52 479.40,391.58C479.80,391.64 480.20,391.73 480.60,391.78C481.00,391.83 481.40,391.97 481.80,391.90C482.20,391.82 482.60,391.33 483.00,391.33C483.40,391.33 483.80,391.85 484.20,391.89C484.60,391.92 485.00,391.53 485.40,391.54C485.80,391.54 486.20,391.93 486.60,391.93C487.00,391.93 487.40,391.56 487.80,391.55C488.20,391.55 488.60,391.86 489.00,391.89C489.40,391.93 489.80,391.83 490.20,391.78C490.60,391.73 491.00,391.66 491.40,391.58C491.80,391.50 492.20,391.28 492.60,391.29C493.00,391.30 493.40,391.64 493.80,391.65C494.20,391.67 494.60,391.40 495.00,391.36C495.40,391.32 495.80,391.40 496.20,391.41C496.60,391.43 497.00,391.47 497.40,391.45C497.80,391.43 498.20,391.28 498.60,391.28C499.00,391.27 499.40,391.37 499.80,391.42C500.20,391.46 500.60,391.49 501.00,391.55C501.40,391.61 501.80,391.75 502.20,391.79C502.60,391.83 503.00,391.83 503.40,391.80C503.80,391.77 504.20,391.66 504.60,391.61C505.00,391.55 505.40,391.51 505.80,391.46C506.20,391.40 506.60,391.27 507.00,391.26C507.40,391.25 507.80,391.35 508.20,391.39C508.60,391.43 509.00,391.50 509.40,391.48C509.80,391.47 510.20,391.26 510.60,391.29C511.00,391.33 511.40,391.64 511.80,391.70C512.20,391.75 512.60,391.62 513.00,391.62C513.40,391.63 513.80,391.74 514.20,391.73C514.60,391.73 515.00,391.60 515.40,391.61C515.80,391.63 516.20,391.81 516.60,391.83C517.00,391.85 517.40,391.75 517.80,391.71C518.20,391.66 518.60,391.55 519.00,391.58C519.40,391.60 519.80,391.86 520.20,391.86C520.60,391.85 521.00,391.58 521.40,391.56C521.80,391.54 522.20,391.73 522.60,391.75C523.00,391.78 523.40,391.75 523.80,391.73C524.20,391.70 524.60,391.57 525.00,391.60C525.40,391.64 525.80,391.91 526.20,391.95C526.60,391.98 527.00,391.85 527.40,391.81C527.80,391.76 528.20,391.76 528.60,391.67C529.00,391.58 529.40,391.29 529.80,391.27C530.20,391.25 530.60,391.51 531.00,391.55C531.40,391.58 531.80,391.53 532.20,391.50C532.60,391.47 533.00,391.30 533.40,391.37C533.80,391.44 534.20,391.89 534.60,391.92C535.00,391.96 535.40,391.58 535.80,391.58C536.20,391.57 536.60,391.88 537.00,391.90C537.40,391.92 537.80,391.71 538.20,391.69C538.60,391.66 539.00,391.75 539.40,391.75C539.80,391.75 540.20,391.76 540.60,391.69C541.00,391.62 541.40,391.31 541.80,391.32C542.20,391.34 542.60,391.77 543.00,391.76C543.40,391.75 543.80,391.26 544.20,391.26C544.60,391.27 545.00,391.70 545.40,391.80C545.80,391.91 546.20,391.97 546.60,391.90C547.00,391.83 547.40,391.47 547.80,391.38C548.20,391.29 548.60,391.36 549.00,391.34C549.40,391.31 549.80,391.25 550.20,391.24C550.60,391.22 551.00,391.27 551.40,391.25C551.80,391.24 552.20,391.12 552.60,391.17C553.00,391.22 553.40,391.53 553.80,391.56C554.20,391.58 554.60,391.34 555.00,391.33C555.40,391.32 555.80,391.53 556.20,391.50C556.60,391.47 557.00,391.17 557.40,391.15C557.80,391.14 558.20,391.40 558.60,391.39C559.00,391.39 559.40,391.15 559.80,391.12C560.20,391.10 560.60,391.27 561.00,391.23C561.40,391.19 561.80,390.92 562.20,390.87C562.60,390.82 563.00,390.95 563.40,390.91C563.80,390.87 564.20,390.58 564.60,390.63C565.00,390.69 565.40,391.16 565.80,391.25C566.20,391.34 566.60,391.18 567.00,391.16C567.40,391.15 567.80,391.23 568.20,391.18C568.60,391.13 569.00,390.90 569.40,390.86C569.80,390.82 570.20,390.95 570.60,390.93C571.00,390.92 571.40,390.75 571.80,390.78C572.20,390.80 572.60,391.11 573.00,391.09C573.40,391.07 573.80,390.75 574.20,390.68C574.60,390.61 575.00,390.60 575.40,390.67C575.80,390.74 576.20,391.02 576.60,391.12C577.00,391.21 577.40,391.30 577.80,391.25C578.20,391.21 578.60,390.87 579.00,390.85C579.40,390.84 579.80,391.17 580.20,391.19C580.60,391.21 581.00,390.91 581.40,390.97C581.80,391.04 582.20,391.52 582.60,391.58C583.00,391.64 583.40,391.33 583.80,391.34C584.20,391.35 584.60,391.67 585.00,391.63C585.40,391.60 585.80,391.16 586.20,391.13C586.60,391.10 587.00,391.40 587.40,391.45C587.80,391.49 588.20,391.42 588.60,391.41C589.00,391.39 589.40,391.34 589.80,391.35C590.20,391.36 590.60,391.34 591.00,391.46C591.40,391.59 591.80,392.00 592.20,392.12C592.60,392.24 593.00,392.24 593.40,392.18C593.80,392.12 594.20,391.74 594.60,391.75C595.00,391.76 595.45,392.00 595.80,392.24C596.15,392.48 596.70,392.96 596.70,393.20C596.70,393.44 596.15,393.51 595.80,393.68C595.45,393.85 595.00,394.09 594.60,394.22C594.20,394.34 593.80,394.43 593.40,394.44C593.00,394.46 592.60,394.30 592.20,394.31C591.80,394.31 591.40,394.44 591.00,394.48C590.60,394.52 590.20,394.51 589.80,394.56C589.40,394.60 589.00,394.76 588.60,394.77C588.20,394.77 587.80,394.62 587.40,394.59C587.00,394.56 586.60,394.55 586.20,394.59C585.80,394.63 585.40,394.72 585.00,394.83C584.60,394.94 584.20,395.20 583.80,395.24C583.40,395.28 583.00,395.09 582.60,395.07C582.20,395.05 581.80,395.04 581.40,395.12C581.00,395.20 580.60,395.55 580.20,395.53C579.80,395.52 579.40,395.02 579.00,395.01C578.60,395.00 578.20,395.43 577.80,395.49C577.40,395.54 577.00,395.39 576.60,395.33C576.20,395.26 575.80,395.02 575.40,395.09C575.00,395.15 574.60,395.61 574.20,395.71C573.80,395.81 573.40,395.71 573.00,395.68C572.60,395.64 572.20,395.57 571.80,395.50C571.40,395.42 571.00,395.24 570.60,395.24C570.20,395.23 569.80,395.41 569.40,395.46C569.00,395.50 568.60,395.51 568.20,395.49C567.80,395.46 567.40,395.25 567.00,395.29C566.60,395.33 566.20,395.69 565.80,395.73C565.40,395.76 565.00,395.53 564.60,395.52C564.20,395.51 563.80,395.69 563.40,395.66C563.00,395.64 562.60,395.39 562.20,395.38C561.80,395.38 561.40,395.69 561.00,395.63C560.60,395.57 560.20,395.09 559.80,395.02C559.40,394.96 559.00,395.17 558.60,395.24C558.20,395.31 557.80,395.42 557.40,395.45C557.00,395.47 556.60,395.51 556.20,395.40C555.80,395.28 555.40,394.86 555.00,394.76C554.60,394.65 554.20,394.74 553.80,394.77C553.40,394.80 553.00,394.92 552.60,394.94C552.20,394.97 551.80,394.93 551.40,394.91C551.00,394.88 550.60,394.84 550.20,394.79C549.80,394.74 549.40,394.56 549.00,394.59C548.60,394.62 548.20,394.95 547.80,394.97C547.40,395.00 547.00,394.73 546.60,394.74C546.20,394.75 545.80,395.04 545.40,395.01C545.00,394.97 544.60,394.57 544.20,394.53C543.80,394.49 543.40,394.78 543.00,394.79C542.60,394.80 542.20,394.63 541.80,394.61C541.40,394.58 541.00,394.56 540.60,394.64C540.20,394.72 539.80,395.05 539.40,395.09C539.00,395.14 538.60,394.92 538.20,394.90C537.80,394.88 537.40,394.98 537.00,394.97C536.60,394.96 536.20,394.83 535.80,394.86C535.40,394.88 535.00,395.15 534.60,395.12C534.20,395.09 533.80,394.73 533.40,394.68C533.00,394.64 532.60,394.79 532.20,394.87C531.80,394.94 531.40,395.14 531.00,395.12C530.60,395.11 530.20,394.82 529.80,394.76C529.40,394.69 529.00,394.73 528.60,394.72C528.20,394.71 527.80,394.74 527.40,394.71C527.00,394.68 526.60,394.49 526.20,394.54C525.80,394.59 525.40,394.94 525.00,395.01C524.60,395.08 524.20,395.02 523.80,394.97C523.40,394.92 523.00,394.67 522.60,394.70C522.20,394.72 521.80,395.17 521.40,395.13C521.00,395.09 520.60,394.53 520.20,394.46C519.80,394.40 519.40,394.67 519.00,394.72C518.60,394.78 518.20,394.79 517.80,394.80C517.40,394.81 517.00,394.81 516.60,394.76C516.20,394.71 515.80,394.54 515.40,394.50C515.00,394.46 514.60,394.47 514.20,394.52C513.80,394.58 513.40,394.83 513.00,394.82C512.60,394.81 512.20,394.48 511.80,394.47C511.40,394.46 511.00,394.71 510.60,394.76C510.20,394.82 509.80,394.82 509.40,394.80C509.00,394.78 508.60,394.58 508.20,394.63C507.80,394.69 507.40,395.10 507.00,395.15C506.60,395.20 506.20,395.02 505.80,394.96C505.40,394.89 505.00,394.75 504.60,394.75C504.20,394.75 503.80,394.91 503.40,394.95C503.00,394.99 502.60,395.03 502.20,395.00C501.80,394.97 501.40,394.82 501.00,394.76C500.60,394.69 500.20,394.54 499.80,394.60C499.40,394.66 499.00,395.08 498.60,395.13C498.20,395.18 497.80,394.95 497.40,394.90C497.00,394.85 496.60,394.79 496.20,394.83C495.80,394.87 495.40,395.14 495.00,395.14C494.60,395.14 494.20,394.90 493.80,394.83C493.40,394.76 493.00,394.75 492.60,394.73C492.20,394.70 491.80,394.67 491.40,394.69C491.00,394.71 490.60,394.81 490.20,394.86C489.80,394.91 489.40,394.99 489.00,394.99C488.60,394.99 488.20,394.95 487.80,394.87C487.40,394.79 487.00,394.52 486.60,394.52C486.20,394.51 485.80,394.81 485.40,394.82C485.00,394.84 484.60,394.59 484.20,394.60C483.80,394.62 483.40,394.89 483.00,394.91C482.60,394.92 482.20,394.75 481.80,394.70C481.40,394.64 481.00,394.57 480.60,394.55C480.20,394.53 479.80,394.56 479.40,394.57C479.00,394.58 478.60,394.52 478.20,394.60C477.80,394.68 477.40,395.00 477.00,395.05C476.60,395.10 476.20,394.96 475.80,394.90C475.40,394.83 475.00,394.70 474.60,394.66C474.20,394.62 473.80,394.65 473.40,394.64C473.00,394.64 472.60,394.61 472.20,394.63C471.80,394.65 471.40,394.70 471.00,394.77C470.60,394.84 470.20,394.96 469.80,395.06C469.40,395.15 469.00,395.31 468.60,395.35C468.20,395.39 467.80,395.31 467.40,395.31C467.00,395.31 466.60,395.40 466.20,395.35C465.80,395.31 465.40,395.03 465.00,395.02C464.60,395.02 464.20,395.28 463.80,395.35C463.40,395.42 463.00,395.45 462.60,395.46C462.20,395.48 461.80,395.51 461.40,395.42C461.00,395.32 460.60,394.90 460.20,394.88C459.80,394.85 459.40,395.19 459.00,395.26C458.60,395.34 458.20,395.34 457.80,395.30C457.40,395.27 457.00,395.06 456.60,395.04C456.20,395.02 455.80,395.22 455.40,395.18C455.00,395.15 454.60,394.83 454.20,394.85C453.80,394.87 453.40,395.28 453.00,395.31C452.60,395.34 452.20,395.10 451.80,395.02C451.40,394.95 451.00,394.84 450.60,394.83C450.20,394.82 449.80,394.91 449.40,394.97C449.00,395.02 448.60,395.20 448.20,395.16C447.80,395.13 447.40,394.82 447.00,394.76C446.60,394.69 446.20,394.79 445.80,394.77C445.40,394.75 445.00,394.67 444.60,394.62C444.20,394.57 443.80,394.44 443.40,394.45C443.00,394.47 442.60,394.72 442.20,394.72C441.80,394.72 441.40,394.50 441.00,394.45C440.60,394.41 440.20,394.39 439.80,394.46C439.40,394.54 439.00,394.90 438.60,394.91C438.20,394.92 437.80,394.51 437.40,394.53C437.00,394.54 436.60,395.02 436.20,395.00C435.80,394.99 435.40,394.45 435.00,394.45C434.60,394.45 434.20,394.93 433.80,395.00C433.40,395.07 433.00,394.88 432.60,394.90C432.20,394.91 431.80,395.10 431.40,395.09C431.00,395.08 430.60,394.93 430.20,394.83C429.80,394.73 429.40,394.52 429.00,394.49C428.60,394.46 428.20,394.54 427.80,394.63C427.40,394.73 427.00,395.02 426.60,395.07C426.20,395.12 425.80,395.03 425.40,394.92C425.00,394.81 424.60,394.43 424.20,394.40C423.80,394.38 423.40,394.65 423.00,394.75C422.60,394.84 422.20,394.88 421.80,394.98C421.40,395.09 421.00,395.27 420.60,395.36C420.20,395.45 419.80,395.45 419.40,395.52C419.00,395.59 418.60,395.69 418.20,395.77C417.80,395.86 417.40,395.88 417.00,396.04C416.60,396.19 416.20,396.50 415.80,396.72C415.40,396.94 415.00,397.23 414.60,397.35C414.20,397.47 413.80,397.41 413.40,397.44C413.00,397.47 412.60,397.57 412.20,397.51C411.80,397.46 411.40,397.30 411.00,397.12C410.60,396.94 410.20,396.78 409.80,396.45C409.40,396.11 409.00,395.26 408.60,395.12C408.20,394.99 407.80,395.48 407.40,395.65C407.00,395.82 406.60,395.97 406.20,396.16C405.80,396.35 405.40,396.48 405.00,396.79C404.60,397.10 404.20,397.62 403.80,398.03C403.40,398.44 403.00,399.05 402.60,399.24C402.20,399.43 401.80,399.27 401.40,399.16C401.00,399.05 400.60,398.79 400.20,398.58C399.80,398.37 399.40,398.06 399.00,397.89C398.60,397.72 398.20,397.73 397.80,397.55C397.40,397.37 397.00,397.16 396.60,396.81C396.20,396.47 395.80,396.06 395.40,395.46C395.00,394.86 394.20,394.02 394.20,393.20Z" fill="url(#g20)"/>
<g fill="url(#g20)"><circle cx="394.8" cy="392.8" r="0.98"/><circle cx="394.8" cy="393.8" r="1.00"/><circle cx="396.2" cy="391.4" r="1.09"/><circle cx="395.8" cy="395.3" r="0.84"/><circle cx="397.7" cy="389.6" r="1.02"/><circle cx="397.1" cy="396.5" r="1.10"/><circle cx="398.7" cy="389.2" r="1.07"/><circle cx="398.4" cy="396.5" r="1.01"/><circle cx="400.1" cy="388.4" r="0.85"/><circle cx="399.7" cy="397.2" r="1.10"/><circle cx="401.1" cy="388.1" r="1.14"/><circle cx="401.0" cy="398.8" r="1.10"/><circle cx="402.6" cy="387.8" r="1.11"/><circle cx="402.7" cy="398.9" r="0.80"/><circle cx="403.9" cy="389.4" r="1.07"/><circle cx="404.0" cy="397.1" r="0.88"/><circle cx="405.0" cy="389.8" r="0.84"/><circle cx="405.1" cy="396.6" r="0.99"/><circle cx="406.3" cy="391.1" r="1.00"/><circle cx="406.4" cy="395.1" r="1.10"/><circle cx="408.1" cy="391.6" r="1.00"/><circle cx="407.9" cy="394.6" r="0.86"/><circle cx="409.2" cy="391.9" r="0.97"/><circle cx="409.0" cy="395.0" r="0.98"/><circle cx="410.4" cy="390.5" r="1.09"/><circle cx="410.2" cy="395.9" r="0.90"/><circle cx="411.5" cy="389.7" r="0.99"/><circle cx="411.6" cy="396.2" r="0.97"/><circle cx="413.3" cy="389.4" r="1.09"/><circle cx="412.7" cy="396.8" r="0.89"/><circle cx="414.5" cy="389.5" r="0.81"/><circle cx="414.3" cy="396.9" r="0.92"/><circle cx="415.5" cy="389.7" r="0.86"/><circle cx="415.7" cy="395.9" r="1.04"/><circle cx="416.7" cy="391.2" r="0.88"/><circle cx="417.0" cy="396.0" r="1.02"/><circle cx="418.5" cy="391.6" r="0.99"/><circle cx="418.0" cy="394.8" r="0.98"/><circle cx="419.5" cy="392.3" r="1.13"/><circle cx="419.3" cy="394.9" r="0.92"/><circle cx="420.8" cy="391.6" r="0.98"/><circle cx="420.5" cy="393.9" r="1.07"/><circle cx="422.2" cy="392.2" r="1.05"/><circle cx="421.8" cy="394.1" r="0.98"/><circle cx="423.5" cy="393.0" r="1.09"/><circle cx="423.7" cy="394.0" r="0.84"/><circle cx="424.8" cy="392.0" r="0.86"/><circle cx="424.8" cy="394.1" r="1.10"/><circle cx="426.0" cy="392.0" r="0.83"/><circle cx="425.8" cy="394.4" r="0.92"/><circle cx="427.0" cy="392.8" r="1.05"/><circle cx="427.6" cy="394.2" r="1.00"/><circle cx="428.3" cy="392.3" r="1.11"/><circle cx="428.5" cy="393.8" r="0.86"/><circle cx="429.6" cy="392.2" r="0.96"/><circle cx="430.2" cy="394.3" r="1.03"/><circle cx="431.5" cy="392.2" r="0.83"/><circle cx="431.2" cy="393.5" r="1.13"/><circle cx="432.3" cy="391.9" r="1.05"/><circle cx="432.8" cy="394.1" r="0.99"/><circle cx="433.9" cy="392.1" r="0.91"/><circle cx="433.6" cy="394.0" r="0.96"/><circle cx="434.9" cy="392.7" r="1.05"/><circle cx="435.2" cy="393.6" r="0.97"/><circle cx="436.7" cy="392.5" r="0.90"/><circle cx="436.3" cy="393.6" r="1.07"/><circle cx="438.0" cy="392.1" r="0.97"/><circle cx="437.8" cy="394.3" r="0.82"/><circle cx="439.1" cy="392.3" r="0.97"/><circle cx="439.1" cy="393.8" r="0.86"/><circle cx="440.5" cy="392.2" r="0.91"/><circle cx="440.4" cy="394.1" r="0.98"/><circle cx="441.6" cy="392.8" r="0.93"/><circle cx="441.3" cy="394.6" r="0.92"/><circle cx="443.0" cy="392.8" r="1.12"/><circle cx="442.7" cy="394.3" r="1.10"/><circle cx="444.3" cy="392.1" r="1.03"/><circle cx="444.4" cy="394.2" r="0.89"/><circle cx="445.7" cy="392.6" r="1.06"/><circle cx="445.4" cy="393.7" r="0.94"/><circle cx="446.9" cy="392.4" r="1.11"/><circle cx="447.1" cy="393.7" r="0.99"/><circle cx="448.2" cy="392.1" r="0.93"/><circle cx="447.9" cy="393.9" r="0.97"/><circle cx="449.3" cy="391.8" r="1.03"/><circle cx="449.7" cy="393.9" r="1.12"/><circle cx="450.4" cy="392.3" r="0.98"/><circle cx="450.7" cy="394.9" r="0.83"/><circle cx="451.9" cy="392.4" r="1.07"/><circle cx="451.7" cy="394.6" r="1.13"/><circle cx="453.0" cy="391.7" r="1.10"/><circle cx="453.2" cy="394.2" r="1.03"/><circle cx="454.6" cy="391.7" r="1.01"/><circle cx="454.5" cy="393.8" r="1.11"/><circle cx="456.0" cy="391.9" r="1.07"/><circle cx="455.6" cy="394.9" r="0.83"/><circle cx="457.2" cy="391.4" r="0.93"/><circle cx="457.3" cy="394.1" r="0.87"/><circle cx="458.7" cy="392.3" r="1.00"/><circle cx="458.8" cy="394.7" r="1.07"/><circle cx="460.1" cy="391.8" r="1.08"/><circle cx="460.0" cy="394.7" r="0.99"/><circle cx="461.2" cy="392.3" r="1.02"/><circle cx="461.0" cy="394.8" r="0.92"/><circle cx="462.3" cy="391.5" r="1.07"/><circle cx="462.1" cy="394.4" r="0.82"/><circle cx="464.0" cy="392.0" r="0.83"/><circle cx="463.9" cy="394.5" r="0.94"/><circle cx="465.0" cy="392.1" r="1.02"/><circle cx="464.8" cy="394.3" r="1.14"/><circle cx="466.0" cy="392.4" r="0.97"/><circle cx="466.5" cy="394.3" r="0.98"/><circle cx="467.9" cy="392.3" r="0.82"/><circle cx="467.3" cy="394.4" r="1.11"/><circle cx="468.7" cy="392.1" r="0.85"/><circle cx="468.9" cy="394.2" r="1.06"/><circle cx="470.2" cy="392.3" r="0.94"/><circle cx="470.0" cy="393.8" r="1.13"/><circle cx="471.4" cy="392.0" r="0.99"/><circle cx="471.6" cy="394.2" r="0.81"/><circle cx="472.7" cy="392.4" r="1.12"/><circle cx="472.8" cy="394.0" r="0.91"/><circle cx="474.0" cy="392.1" r="1.03"/><circle cx="474.1" cy="394.2" r="0.90"/><circle cx="475.5" cy="392.5" r="1.05"/><circle cx="475.1" cy="393.8" r="0.83"/><circle cx="476.5" cy="392.1" r="0.86"/><circle cx="477.0" cy="393.8" r="0.92"/><circle cx="477.8" cy="392.6" r="0.89"/><circle cx="478.1" cy="393.8" r="1.04"/><circle cx="479.4" cy="392.5" r="1.08"/><circle cx="479.4" cy="394.0" r="1.01"/><circle cx="480.5" cy="391.8" r="0.83"/><circle cx="480.7" cy="393.7" r="0.93"/><circle cx="482.2" cy="392.5" r="1.07"/><circle cx="481.9" cy="393.9" r="0.93"/><circle cx="482.9" cy="392.1" r="0.87"/><circle cx="483.5" cy="394.5" r="0.98"/><circle cx="484.8" cy="392.1" r="1.11"/><circle cx="484.2" cy="394.7" r="0.81"/><circle cx="485.9" cy="392.3" r="1.11"/><circle cx="485.7" cy="393.7" r="0.95"/><circle cx="486.9" cy="392.7" r="0.99"/><circle cx="487.2" cy="394.4" r="1.10"/><circle cx="488.5" cy="392.5" r="0.90"/><circle cx="488.2" cy="394.1" r="1.09"/><circle cx="489.6" cy="392.8" r="0.99"/><circle cx="489.7" cy="394.4" r="0.97"/><circle cx="490.8" cy="392.5" r="0.87"/><circle cx="490.8" cy="394.1" r="1.08"/><circle cx="492.0" cy="392.0" r="0.81"/><circle cx="492.0" cy="394.0" r="0.97"/><circle cx="493.5" cy="392.4" r="1.13"/><circle cx="493.6" cy="393.6" r="0.95"/><circle cx="495.0" cy="392.6" r="1.11"/><circle cx="494.7" cy="394.6" r="0.90"/><circle cx="496.1" cy="392.3" r="1.09"/><circle cx="496.0" cy="393.6" r="0.99"/><circle cx="497.3" cy="392.3" r="1.06"/><circle cx="497.2" cy="393.8" r="0.81"/><circle cx="498.9" cy="391.9" r="1.03"/><circle cx="498.8" cy="393.5" r="1.03"/><circle cx="500.1" cy="392.1" r="1.14"/><circle cx="500.3" cy="394.2" r="0.81"/><circle cx="501.3" cy="392.7" r="0.88"/><circle cx="501.2" cy="394.2" r="1.00"/><circle cx="502.8" cy="392.1" r="0.86"/><circle cx="503.0" cy="393.8" r="1.05"/><circle cx="503.9" cy="392.0" r="1.04"/><circle cx="504.2" cy="394.1" r="1.09"/><circle cx="505.6" cy="391.8" r="0.89"/><circle cx="505.2" cy="394.3" r="1.13"/><circle cx="506.8" cy="392.1" r="1.04"/><circle cx="506.5" cy="394.4" r="0.96"/><circle cx="507.9" cy="392.0" r="1.03"/><circle cx="507.6" cy="394.1" r="0.81"/><circle cx="509.4" cy="392.6" r="0.83"/><circle cx="509.0" cy="393.6" r="1.11"/><circle cx="510.6" cy="392.5" r="1.06"/><circle cx="510.5" cy="394.5" r="1.01"/><circle cx="511.8" cy="392.4" r="0.98"/><circle cx="511.9" cy="393.7" r="0.94"/><circle cx="513.4" cy="392.1" r="1.04"/><circle cx="513.0" cy="393.7" r="0.99"/><circle cx="514.4" cy="391.9" r="0.83"/><circle cx="514.2" cy="394.2" r="1.10"/><circle cx="515.7" cy="392.0" r="1.08"/><circle cx="515.6" cy="394.2" r="0.87"/><circle cx="517.0" cy="392.6" r="1.05"/><circle cx="516.9" cy="393.9" r="1.10"/><circle cx="518.3" cy="392.1" r="0.88"/><circle cx="518.4" cy="394.1" r="0.93"/><circle cx="519.9" cy="392.4" r="0.80"/><circle cx="519.9" cy="393.8" r="0.99"/><circle cx="520.7" cy="392.6" r="0.82"/><circle cx="520.9" cy="393.5" r="1.10"/><circle cx="522.2" cy="392.6" r="0.90"/><circle cx="522.5" cy="394.1" r="0.91"/><circle cx="523.6" cy="392.7" r="0.88"/><circle cx="523.6" cy="393.7" r="0.98"/><circle cx="524.7" cy="392.1" r="0.99"/><circle cx="525.1" cy="394.1" r="1.02"/><circle cx="525.9" cy="392.1" r="0.86"/><circle cx="525.8" cy="393.9" r="1.08"/><circle cx="527.4" cy="391.9" r="0.90"/><circle cx="527.6" cy="394.3" r="1.00"/><circle cx="528.8" cy="392.4" r="0.90"/><circle cx="528.7" cy="394.2" r="0.97"/><circle cx="530.2" cy="392.6" r="0.86"/><circle cx="530.2" cy="394.6" r="0.91"/><circle cx="531.6" cy="392.8" r="0.93"/><circle cx="531.1" cy="393.5" r="1.13"/><circle cx="532.4" cy="392.1" r="1.07"/><circle cx="532.3" cy="394.0" r="0.80"/><circle cx="533.9" cy="392.4" r="0.83"/><circle cx="533.9" cy="394.5" r="1.06"/><circle cx="535.0" cy="392.0" r="1.10"/><circle cx="535.2" cy="394.0" r="1.11"/><circle cx="536.4" cy="392.5" r="0.86"/><circle cx="536.6" cy="394.0" r="0.87"/><circle cx="537.9" cy="392.1" r="1.07"/><circle cx="538.0" cy="394.2" r="0.83"/><circle cx="538.9" cy="392.2" r="1.02"/><circle cx="539.3" cy="394.2" r="0.94"/><circle cx="540.3" cy="392.0" r="0.85"/><circle cx="540.5" cy="394.2" r="0.81"/><circle cx="541.6" cy="392.4" r="1.05"/><circle cx="541.9" cy="393.6" r="0.97"/><circle cx="542.8" cy="392.2" r="0.98"/><circle cx="542.8" cy="393.9" r="0.89"/><circle cx="544.2" cy="392.0" r="1.11"/><circle cx="544.1" cy="394.1" r="1.06"/><circle cx="545.9" cy="392.1" r="0.80"/><circle cx="545.6" cy="394.2" r="0.84"/><circle cx="546.8" cy="392.0" r="1.03"/><circle cx="546.6" cy="394.4" r="1.02"/><circle cx="548.1" cy="392.2" r="1.11"/><circle cx="548.5" cy="393.6" r="1.10"/><circle cx="549.3" cy="392.0" r="1.09"/><circle cx="549.5" cy="394.5" r="1.04"/><circle cx="551.1" cy="391.8" r="1.08"/><circle cx="551.0" cy="394.3" r="1.00"/><circle cx="552.1" cy="392.2" r="0.94"/><circle cx="551.9" cy="394.6" r="0.88"/><circle cx="553.5" cy="392.0" r="1.10"/><circle cx="553.5" cy="394.4" r="0.98"/><circle cx="554.7" cy="391.5" r="0.80"/><circle cx="554.7" cy="394.0" r="0.87"/><circle cx="556.2" cy="392.4" r="0.89"/><circle cx="556.2" cy="394.7" r="1.08"/><circle cx="557.6" cy="392.0" r="0.89"/><circle cx="557.6" cy="394.5" r="0.96"/><circle cx="558.3" cy="392.4" r="1.04"/><circle cx="558.3" cy="394.9" r="0.89"/><circle cx="560.2" cy="391.6" r="0.89"/><circle cx="560.0" cy="394.5" r="0.87"/><circle cx="560.9" cy="391.5" r="0.98"/><circle cx="561.3" cy="394.7" r="1.08"/><circle cx="562.2" cy="391.9" r="0.92"/><circle cx="562.5" cy="394.2" r="1.06"/><circle cx="563.8" cy="392.1" r="0.88"/><circle cx="563.8" cy="394.4" r="0.82"/><circle cx="564.8" cy="391.5" r="1.11"/><circle cx="565.0" cy="394.7" r="1.08"/><circle cx="566.5" cy="391.9" r="1.15"/><circle cx="566.2" cy="395.1" r="1.14"/><circle cx="567.6" cy="391.8" r="0.91"/><circle cx="568.0" cy="394.9" r="1.03"/><circle cx="569.3" cy="391.4" r="0.86"/><circle cx="569.2" cy="394.4" r="0.98"/><circle cx="570.5" cy="391.4" r="1.01"/><circle cx="570.0" cy="394.7" r="1.04"/><circle cx="571.7" cy="391.7" r="0.89"/><circle cx="571.6" cy="394.8" r="0.96"/><circle cx="572.7" cy="392.0" r="1.11"/><circle cx="572.6" cy="395.1" r="0.86"/><circle cx="573.9" cy="392.0" r="1.12"/><circle cx="574.5" cy="395.1" r="1.12"/><circle cx="575.4" cy="392.3" r="1.15"/><circle cx="575.5" cy="394.2" r="0.89"/><circle cx="576.8" cy="391.5" r="0.89"/><circle cx="576.5" cy="394.5" r="0.85"/><circle cx="577.8" cy="392.1" r="0.83"/><circle cx="578.4" cy="394.0" r="1.08"/><circle cx="579.6" cy="391.8" r="1.08"/><circle cx="579.6" cy="394.1" r="0.90"/><circle cx="581.0" cy="392.1" r="0.82"/><circle cx="580.9" cy="393.9" r="1.12"/><circle cx="582.1" cy="392.3" r="0.83"/><circle cx="582.1" cy="394.1" r="1.03"/><circle cx="583.1" cy="391.7" r="0.97"/><circle cx="583.4" cy="394.4" r="1.02"/><circle cx="584.9" cy="391.7" r="0.82"/><circle cx="584.7" cy="394.3" r="0.98"/><circle cx="585.9" cy="392.5" r="1.06"/><circle cx="585.7" cy="393.7" r="0.98"/><circle cx="587.5" cy="392.0" r="0.98"/><circle cx="587.2" cy="394.3" r="0.87"/><circle cx="588.5" cy="392.3" r="1.00"/><circle cx="588.8" cy="394.1" r="1.04"/><circle cx="589.9" cy="392.8" r="1.07"/><circle cx="589.7" cy="393.9" r="0.89"/><circle cx="591.0" cy="392.0" r="0.97"/><circle cx="591.0" cy="394.1" r="1.06"/><circle cx="592.2" cy="392.5" r="1.12"/><circle cx="592.3" cy="394.1" r="1.14"/><circle cx="593.6" cy="393.1" r="1.08"/><circle cx="593.6" cy="393.5" r="1.08"/><circle cx="595.2" cy="392.5" r="0.96"/><circle cx="595.2" cy="393.1" r="1.12"/></g>
<path d="M396.30,409.38C396.30,408.98 397.10,408.39 397.50,408.04C397.90,407.69 398.30,407.59 398.70,407.27C399.10,406.96 399.50,406.50 399.90,406.15C400.30,405.81 400.70,405.54 401.10,405.21C401.50,404.88 401.90,404.46 402.30,404.17C402.70,403.89 403.10,403.58 403.50,403.50C403.90,403.42 404.30,403.62 404.70,403.66C405.10,403.71 405.50,403.54 405.90,403.75C406.30,403.96 406.70,404.64 407.10,404.93C407.50,405.22 407.90,405.43 408.30,405.49C408.70,405.55 409.10,405.26 409.50,405.30C409.90,405.35 410.30,405.61 410.70,405.77C411.10,405.93 411.50,406.18 411.90,406.26C412.30,406.33 412.70,406.13 413.10,406.23C413.50,406.34 413.90,406.81 414.30,406.90C414.70,406.98 415.10,406.81 415.50,406.75C415.90,406.69 416.30,406.62 416.70,406.56C417.10,406.50 417.50,406.50 417.90,406.40C418.30,406.31 418.70,406.14 419.10,406.01C419.50,405.88 419.90,405.70 420.30,405.62C420.70,405.55 421.10,405.40 421.50,405.56C421.90,405.72 422.30,406.32 422.70,406.57C423.10,406.81 423.50,406.81 423.90,407.03C424.30,407.25 424.70,407.81 425.10,407.89C425.50,407.96 425.90,407.54 426.30,407.48C426.70,407.43 427.10,407.54 427.50,407.55C427.90,407.57 428.30,407.48 428.70,407.57C429.10,407.66 429.50,408.09 429.90,408.10C430.30,408.11 430.70,407.71 431.10,407.62C431.50,407.54 431.90,407.54 432.30,407.60C432.70,407.65 433.10,407.94 433.50,407.93C433.90,407.92 434.30,407.52 434.70,407.53C435.10,407.55 435.50,407.93 435.90,408.02C436.30,408.12 436.70,408.11 437.10,408.10C437.50,408.09 437.90,408.03 438.30,407.95C438.70,407.87 439.10,407.62 439.50,407.63C439.90,407.63 440.30,407.98 440.70,407.99C441.10,407.99 441.50,407.65 441.90,407.67C442.30,407.68 442.70,408.13 443.10,408.10C443.50,408.06 443.90,407.53 444.30,407.47C444.70,407.40 445.10,407.73 445.50,407.72C445.90,407.71 446.30,407.42 446.70,407.40C447.10,407.39 447.50,407.60 447.90,407.64C448.30,407.67 448.70,407.62 449.10,407.60C449.50,407.58 449.90,407.51 450.30,407.51C450.70,407.51 451.10,407.58 451.50,407.61C451.90,407.63 452.30,407.71 452.70,407.66C453.10,407.60 453.50,407.30 453.90,407.27C454.30,407.24 454.70,407.39 455.10,407.46C455.50,407.52 455.90,407.71 456.30,407.67C456.70,407.63 457.10,407.25 457.50,407.22C457.90,407.18 458.30,407.49 458.70,407.47C459.10,407.45 459.50,407.12 459.90,407.10C460.30,407.08 460.70,407.23 461.10,407.34C461.50,407.45 461.90,407.70 462.30,407.74C462.70,407.78 463.10,407.62 463.50,407.56C463.90,407.51 464.30,407.43 464.70,407.42C465.10,407.42 465.50,407.46 465.90,407.54C466.30,407.62 466.70,407.89 467.10,407.90C467.50,407.92 467.90,407.63 468.30,407.65C468.70,407.66 469.10,407.98 469.50,407.97C469.90,407.97 470.30,407.69 470.70,407.64C471.10,407.58 471.50,407.64 471.90,407.66C472.30,407.69 472.70,407.79 473.10,407.79C473.50,407.79 473.90,407.64 474.30,407.68C474.70,407.73 475.10,407.99 475.50,408.07C475.90,408.14 476.30,408.17 476.70,408.12C477.10,408.07 477.50,407.80 477.90,407.76C478.30,407.71 478.70,407.88 479.10,407.84C479.50,407.80 479.90,407.53 480.30,407.52C480.70,407.51 481.10,407.69 481.50,407.77C481.90,407.86 482.30,408.10 482.70,408.05C483.10,408.00 483.50,407.48 483.90,407.47C484.30,407.46 484.70,407.90 485.10,407.98C485.50,408.07 485.90,408.03 486.30,407.98C486.70,407.92 487.10,407.67 487.50,407.64C487.90,407.60 488.30,407.71 488.70,407.74C489.10,407.77 489.50,407.77 489.90,407.83C490.30,407.90 490.70,408.08 491.10,408.13C491.50,408.18 491.90,408.21 492.30,408.11C492.70,408.02 493.10,407.60 493.50,407.56C493.90,407.53 494.30,407.89 494.70,407.92C495.10,407.95 495.50,407.74 495.90,407.76C496.30,407.78 496.70,408.04 497.10,408.05C497.50,408.07 497.90,407.89 498.30,407.85C498.70,407.80 499.10,407.86 499.50,407.79C499.90,407.73 500.30,407.40 500.70,407.43C501.10,407.47 501.50,407.95 501.90,408.00C502.30,408.06 502.70,407.81 503.10,407.74C503.50,407.67 503.90,407.58 504.30,407.59C504.70,407.59 505.10,407.78 505.50,407.75C505.90,407.73 506.30,407.45 506.70,407.45C507.10,407.44 507.50,407.64 507.90,407.71C508.30,407.77 508.70,407.80 509.10,407.82C509.50,407.85 509.90,407.82 510.30,407.86C510.70,407.91 511.10,408.14 511.50,408.07C511.90,407.99 512.30,407.47 512.70,407.41C513.10,407.35 513.50,407.70 513.90,407.71C514.30,407.71 514.70,407.45 515.10,407.45C515.50,407.45 515.90,407.65 516.30,407.71C516.70,407.77 517.10,407.77 517.50,407.79C517.90,407.82 518.30,407.88 518.70,407.86C519.10,407.84 519.50,407.79 519.90,407.68C520.30,407.57 520.70,407.32 521.10,407.22C521.50,407.11 521.90,407.10 522.30,407.05C522.70,407.00 523.10,406.92 523.50,406.93C523.90,406.94 524.30,407.13 524.70,407.12C525.10,407.11 525.50,406.90 525.90,406.86C526.30,406.83 526.70,406.89 527.10,406.90C527.50,406.91 527.90,406.92 528.30,406.92C528.70,406.92 529.10,406.82 529.50,406.90C529.90,406.98 530.30,407.36 530.70,407.39C531.10,407.41 531.50,407.05 531.90,407.05C532.30,407.05 532.70,407.41 533.10,407.37C533.50,407.34 533.90,406.91 534.30,406.85C534.70,406.78 535.10,406.93 535.50,406.98C535.90,407.03 536.30,407.07 536.70,407.13C537.10,407.20 537.50,407.29 537.90,407.38C538.30,407.47 538.70,407.62 539.10,407.66C539.50,407.70 539.90,407.69 540.30,407.62C540.70,407.55 541.10,407.29 541.50,407.25C541.90,407.22 542.30,407.35 542.70,407.40C543.10,407.44 543.50,407.47 543.90,407.54C544.30,407.62 544.70,407.70 545.10,407.84C545.50,407.97 545.90,408.24 546.30,408.36C546.70,408.48 547.10,408.40 547.50,408.55C547.90,408.71 548.48,409.15 548.70,409.29C548.92,409.43 548.80,409.35 548.80,409.38C548.80,409.41 548.92,409.27 548.70,409.47C548.48,409.67 547.90,410.38 547.50,410.57C547.10,410.76 546.70,410.60 546.30,410.62C545.90,410.65 545.50,410.64 545.10,410.74C544.70,410.84 544.30,411.15 543.90,411.22C543.50,411.28 543.10,411.16 542.70,411.15C542.30,411.13 541.90,411.14 541.50,411.13C541.10,411.12 540.70,411.08 540.30,411.07C539.90,411.06 539.50,411.01 539.10,411.07C538.70,411.13 538.30,411.35 537.90,411.41C537.50,411.48 537.10,411.39 536.70,411.46C536.30,411.54 535.90,411.89 535.50,411.88C535.10,411.87 534.70,411.45 534.30,411.41C533.90,411.37 533.50,411.60 533.10,411.66C532.70,411.72 532.30,411.77 531.90,411.77C531.50,411.77 531.10,411.74 530.70,411.68C530.30,411.62 529.90,411.41 529.50,411.42C529.10,411.43 528.70,411.77 528.30,411.75C527.90,411.72 527.50,411.32 527.10,411.29C526.70,411.26 526.30,411.47 525.90,411.55C525.50,411.64 525.10,411.75 524.70,411.80C524.30,411.85 523.90,411.94 523.50,411.83C523.10,411.72 522.70,411.29 522.30,411.16C521.90,411.03 521.50,411.03 521.10,411.04C520.70,411.05 520.30,411.21 519.90,411.20C519.50,411.20 519.10,411.01 518.70,411.02C518.30,411.03 517.90,411.22 517.50,411.26C517.10,411.30 516.70,411.28 516.30,411.28C515.90,411.28 515.50,411.27 515.10,411.26C514.70,411.25 514.30,411.28 513.90,411.23C513.50,411.17 513.10,410.98 512.70,410.93C512.30,410.88 511.90,410.91 511.50,410.92C511.10,410.94 510.70,411.01 510.30,411.02C509.90,411.04 509.50,411.03 509.10,411.00C508.70,410.96 508.30,410.79 507.90,410.81C507.50,410.83 507.10,411.11 506.70,411.12C506.30,411.14 505.90,410.95 505.50,410.88C505.10,410.81 504.70,410.64 504.30,410.71C503.90,410.78 503.50,411.31 503.10,411.30C502.70,411.30 502.30,410.79 501.90,410.68C501.50,410.58 501.10,410.63 500.70,410.66C500.30,410.70 499.90,410.89 499.50,410.89C499.10,410.90 498.70,410.66 498.30,410.69C497.90,410.73 497.50,411.11 497.10,411.10C496.70,411.10 496.30,410.67 495.90,410.65C495.50,410.63 495.10,410.99 494.70,411.00C494.30,411.01 493.90,410.76 493.50,410.71C493.10,410.66 492.70,410.69 492.30,410.72C491.90,410.76 491.50,410.86 491.10,410.92C490.70,410.98 490.30,411.03 489.90,411.09C489.50,411.15 489.10,411.26 488.70,411.30C488.30,411.33 487.90,411.35 487.50,411.29C487.10,411.22 486.70,411.02 486.30,410.92C485.90,410.83 485.50,410.74 485.10,410.73C484.70,410.72 484.30,410.78 483.90,410.87C483.50,410.96 483.10,411.20 482.70,411.25C482.30,411.31 481.90,411.28 481.50,411.19C481.10,411.09 480.70,410.70 480.30,410.68C479.90,410.67 479.50,411.10 479.10,411.10C478.70,411.10 478.30,410.69 477.90,410.68C477.50,410.68 477.10,410.99 476.70,411.07C476.30,411.15 475.90,411.14 475.50,411.17C475.10,411.21 474.70,411.27 474.30,411.27C473.90,411.27 473.50,411.24 473.10,411.17C472.70,411.09 472.30,410.81 471.90,410.81C471.50,410.80 471.10,411.15 470.70,411.14C470.30,411.12 469.90,410.72 469.50,410.72C469.10,410.71 468.70,411.00 468.30,411.13C467.90,411.25 467.50,411.42 467.10,411.46C466.70,411.50 466.30,411.35 465.90,411.34C465.50,411.33 465.10,411.37 464.70,411.40C464.30,411.43 463.90,411.55 463.50,411.54C463.10,411.53 462.70,411.39 462.30,411.34C461.90,411.28 461.50,411.19 461.10,411.21C460.70,411.22 460.30,411.43 459.90,411.42C459.50,411.40 459.10,411.11 458.70,411.13C458.30,411.16 457.90,411.53 457.50,411.57C457.10,411.61 456.70,411.36 456.30,411.36C455.90,411.37 455.50,411.54 455.10,411.58C454.70,411.61 454.30,411.66 453.90,411.59C453.50,411.52 453.10,411.23 452.70,411.17C452.30,411.10 451.90,411.19 451.50,411.19C451.10,411.19 450.70,411.21 450.30,411.15C449.90,411.10 449.50,410.81 449.10,410.84C448.70,410.86 448.30,411.25 447.90,411.30C447.50,411.35 447.10,411.19 446.70,411.16C446.30,411.14 445.90,411.17 445.50,411.13C445.10,411.09 444.70,410.90 444.30,410.92C443.90,410.94 443.50,411.21 443.10,411.24C442.70,411.28 442.30,411.23 441.90,411.13C441.50,411.04 441.10,410.67 440.70,410.67C440.30,410.66 439.90,411.03 439.50,411.11C439.10,411.19 438.70,411.19 438.30,411.17C437.90,411.14 437.50,410.96 437.10,410.96C436.70,410.95 436.30,411.11 435.90,411.14C435.50,411.17 435.10,411.18 434.70,411.12C434.30,411.06 433.90,410.84 433.50,410.78C433.10,410.72 432.70,410.73 432.30,410.77C431.90,410.80 431.50,411.00 431.10,410.98C430.70,410.97 430.30,410.72 429.90,410.70C429.50,410.68 429.10,410.81 428.70,410.87C428.30,410.92 427.90,411.05 427.50,411.04C427.10,411.02 426.70,410.78 426.30,410.78C425.90,410.79 425.50,410.98 425.10,411.04C424.70,411.11 424.30,411.03 423.90,411.17C423.50,411.30 423.10,411.41 422.70,411.84C422.30,412.27 421.90,413.50 421.50,413.72C421.10,413.95 420.70,413.31 420.30,413.21C419.90,413.11 419.50,413.24 419.10,413.11C418.70,412.97 418.30,412.56 417.90,412.40C417.50,412.24 417.10,412.25 416.70,412.15C416.30,412.06 415.90,411.96 415.50,411.85C415.10,411.74 414.70,411.49 414.30,411.50C413.90,411.52 413.50,411.76 413.10,411.94C412.70,412.12 412.30,412.48 411.90,412.60C411.50,412.72 411.10,412.54 410.70,412.64C410.30,412.75 409.90,413.20 409.50,413.24C409.10,413.28 408.70,412.79 408.30,412.88C407.90,412.98 407.50,413.44 407.10,413.80C406.70,414.17 406.30,414.78 405.90,415.09C405.50,415.41 405.10,415.68 404.70,415.67C404.30,415.65 403.90,415.21 403.50,415.01C403.10,414.81 402.70,414.65 402.30,414.47C401.90,414.29 401.50,414.19 401.10,413.92C400.70,413.64 400.30,413.21 399.90,412.82C399.50,412.43 399.10,411.97 398.70,411.58C398.30,411.19 397.90,410.84 397.50,410.47C397.10,410.10 396.30,409.78 396.30,409.38Z" fill="url(#g21)"/>
<g fill="url(#g21)"><circle cx="397.0" cy="409.0" r="0.81"/><circle cx="396.9" cy="410.3" r="0.95"/><circle cx="398.1" cy="407.9" r="1.15"/><circle cx="398.2" cy="410.4" r="1.13"/><circle cx="399.7" cy="407.0" r="0.87"/><circle cx="399.8" cy="411.8" r="1.07"/><circle cx="400.8" cy="406.3" r="1.04"/><circle cx="400.5" cy="412.5" r="0.96"/><circle cx="402.0" cy="405.4" r="1.14"/><circle cx="401.8" cy="414.0" r="0.95"/><circle cx="403.2" cy="404.2" r="0.88"/><circle cx="403.1" cy="414.5" r="1.12"/><circle cx="404.7" cy="404.2" r="1.00"/><circle cx="404.6" cy="414.8" r="0.80"/><circle cx="406.3" cy="404.8" r="0.92"/><circle cx="406.2" cy="414.3" r="1.10"/><circle cx="407.3" cy="405.4" r="0.97"/><circle cx="407.1" cy="412.7" r="0.84"/><circle cx="408.6" cy="405.9" r="0.97"/><circle cx="408.5" cy="412.3" r="1.13"/><circle cx="410.1" cy="406.2" r="0.84"/><circle cx="410.2" cy="412.0" r="0.86"/><circle cx="411.2" cy="406.1" r="0.87"/><circle cx="411.0" cy="412.5" r="0.85"/><circle cx="412.8" cy="407.5" r="0.92"/><circle cx="412.4" cy="412.1" r="0.88"/><circle cx="413.9" cy="407.1" r="0.84"/><circle cx="414.0" cy="410.6" r="1.14"/><circle cx="414.9" cy="408.1" r="0.97"/><circle cx="415.3" cy="411.1" r="0.89"/><circle cx="416.2" cy="408.0" r="0.85"/><circle cx="416.6" cy="411.0" r="1.12"/><circle cx="418.0" cy="407.4" r="1.14"/><circle cx="417.5" cy="411.9" r="0.89"/><circle cx="419.0" cy="406.2" r="1.01"/><circle cx="418.9" cy="412.5" r="0.99"/><circle cx="420.0" cy="406.2" r="1.13"/><circle cx="420.5" cy="412.7" r="0.85"/><circle cx="421.7" cy="405.8" r="1.09"/><circle cx="421.7" cy="413.0" r="1.00"/><circle cx="422.8" cy="408.2" r="1.08"/><circle cx="422.6" cy="411.3" r="1.12"/><circle cx="424.3" cy="407.8" r="1.13"/><circle cx="424.4" cy="410.7" r="1.01"/><circle cx="425.2" cy="408.1" r="0.88"/><circle cx="425.2" cy="410.4" r="0.96"/><circle cx="426.6" cy="408.0" r="0.89"/><circle cx="427.0" cy="410.6" r="1.02"/><circle cx="428.1" cy="408.6" r="0.95"/><circle cx="428.3" cy="410.7" r="0.93"/><circle cx="429.5" cy="408.7" r="0.90"/><circle cx="429.5" cy="410.6" r="0.80"/><circle cx="431.0" cy="408.3" r="0.92"/><circle cx="430.9" cy="410.6" r="0.91"/><circle cx="432.3" cy="408.5" r="0.85"/><circle cx="431.9" cy="410.3" r="0.90"/><circle cx="433.2" cy="409.0" r="0.98"/><circle cx="433.5" cy="410.4" r="1.02"/><circle cx="434.9" cy="409.0" r="0.94"/><circle cx="434.3" cy="410.4" r="0.85"/><circle cx="435.7" cy="408.5" r="0.98"/><circle cx="435.6" cy="410.8" r="0.80"/><circle cx="436.9" cy="408.5" r="1.11"/><circle cx="437.2" cy="410.6" r="0.98"/><circle cx="438.8" cy="408.4" r="1.02"/><circle cx="438.2" cy="410.5" r="1.12"/><circle cx="440.1" cy="408.2" r="0.91"/><circle cx="440.0" cy="410.0" r="1.14"/><circle cx="441.3" cy="409.0" r="0.98"/><circle cx="441.1" cy="410.5" r="0.99"/><circle cx="442.5" cy="408.2" r="0.92"/><circle cx="442.5" cy="410.7" r="0.93"/><circle cx="443.7" cy="408.5" r="0.93"/><circle cx="443.5" cy="410.0" r="1.09"/><circle cx="445.1" cy="408.8" r="0.94"/><circle cx="445.0" cy="410.4" r="1.14"/><circle cx="446.0" cy="408.5" r="0.94"/><circle cx="446.0" cy="410.8" r="1.00"/><circle cx="447.6" cy="408.9" r="1.01"/><circle cx="447.5" cy="410.6" r="0.89"/><circle cx="448.9" cy="408.5" r="0.86"/><circle cx="449.0" cy="410.4" r="1.00"/><circle cx="450.3" cy="408.8" r="1.06"/><circle cx="450.2" cy="410.7" r="1.03"/><circle cx="451.4" cy="408.0" r="1.13"/><circle cx="451.6" cy="410.1" r="0.88"/><circle cx="452.8" cy="408.3" r="1.09"/><circle cx="452.7" cy="410.3" r="0.97"/><circle cx="454.2" cy="408.7" r="1.04"/><circle cx="454.4" cy="410.4" r="0.89"/><circle cx="455.5" cy="408.2" r="0.90"/><circle cx="455.7" cy="410.1" r="1.13"/><circle cx="456.5" cy="408.1" r="0.88"/><circle cx="456.8" cy="411.1" r="0.90"/><circle cx="457.7" cy="408.4" r="0.82"/><circle cx="457.7" cy="410.6" r="0.91"/><circle cx="459.5" cy="407.6" r="0.93"/><circle cx="459.2" cy="410.6" r="1.14"/><circle cx="460.7" cy="407.7" r="0.85"/><circle cx="460.3" cy="410.2" r="1.11"/><circle cx="462.0" cy="408.0" r="1.12"/><circle cx="462.0" cy="410.2" r="0.82"/><circle cx="463.4" cy="408.5" r="1.06"/><circle cx="463.4" cy="411.2" r="0.80"/><circle cx="464.4" cy="408.5" r="1.02"/><circle cx="464.8" cy="410.3" r="1.08"/><circle cx="466.1" cy="408.3" r="0.88"/><circle cx="465.7" cy="410.7" r="0.95"/><circle cx="467.1" cy="408.1" r="1.14"/><circle cx="467.0" cy="410.7" r="0.94"/><circle cx="468.6" cy="408.4" r="1.14"/><circle cx="468.7" cy="410.7" r="1.09"/><circle cx="469.6" cy="409.0" r="0.99"/><circle cx="469.6" cy="409.8" r="0.98"/><circle cx="470.9" cy="408.2" r="1.15"/><circle cx="470.9" cy="410.6" r="0.81"/><circle cx="472.4" cy="408.6" r="1.04"/><circle cx="472.5" cy="410.6" r="0.83"/><circle cx="473.6" cy="408.2" r="0.97"/><circle cx="473.6" cy="410.2" r="0.97"/><circle cx="475.1" cy="408.7" r="1.06"/><circle cx="474.8" cy="410.4" r="1.07"/><circle cx="476.5" cy="408.0" r="0.93"/><circle cx="476.1" cy="410.0" r="1.07"/><circle cx="477.6" cy="409.0" r="0.95"/><circle cx="477.8" cy="409.8" r="0.99"/><circle cx="478.9" cy="408.1" r="1.11"/><circle cx="479.0" cy="410.4" r="1.05"/><circle cx="479.8" cy="408.1" r="0.95"/><circle cx="480.3" cy="409.9" r="1.11"/><circle cx="481.4" cy="408.6" r="0.97"/><circle cx="481.4" cy="410.7" r="0.97"/><circle cx="483.0" cy="408.1" r="1.02"/><circle cx="482.9" cy="410.2" r="0.86"/><circle cx="484.0" cy="408.3" r="1.01"/><circle cx="484.1" cy="410.2" r="0.91"/><circle cx="485.3" cy="408.4" r="1.07"/><circle cx="485.1" cy="409.6" r="1.15"/><circle cx="486.6" cy="408.5" r="1.11"/><circle cx="486.9" cy="410.1" r="1.09"/><circle cx="487.8" cy="408.4" r="1.15"/><circle cx="487.8" cy="410.1" r="1.09"/><circle cx="489.1" cy="408.6" r="0.93"/><circle cx="488.9" cy="410.7" r="1.10"/><circle cx="490.5" cy="408.4" r="1.08"/><circle cx="490.7" cy="410.7" r="0.90"/><circle cx="491.8" cy="408.8" r="0.93"/><circle cx="492.0" cy="410.5" r="0.89"/><circle cx="493.2" cy="408.8" r="0.96"/><circle cx="493.0" cy="410.4" r="0.80"/><circle cx="494.4" cy="408.6" r="0.86"/><circle cx="494.6" cy="410.2" r="0.89"/><circle cx="495.9" cy="408.7" r="1.06"/><circle cx="495.9" cy="410.4" r="0.81"/><circle cx="497.1" cy="408.5" r="1.00"/><circle cx="496.7" cy="410.6" r="1.12"/><circle cx="498.2" cy="408.1" r="1.02"/><circle cx="498.4" cy="409.7" r="1.11"/><circle cx="499.5" cy="408.5" r="1.02"/><circle cx="499.3" cy="410.5" r="1.09"/><circle cx="500.7" cy="408.9" r="0.91"/><circle cx="500.7" cy="410.4" r="0.84"/><circle cx="502.0" cy="408.8" r="1.13"/><circle cx="502.3" cy="410.1" r="0.93"/><circle cx="503.3" cy="409.0" r="1.03"/><circle cx="503.7" cy="409.9" r="1.00"/><circle cx="504.9" cy="408.8" r="0.82"/><circle cx="504.9" cy="409.8" r="1.12"/><circle cx="505.8" cy="408.9" r="0.94"/><circle cx="506.4" cy="410.7" r="0.92"/><circle cx="507.5" cy="408.5" r="1.06"/><circle cx="507.5" cy="410.2" r="0.98"/><circle cx="508.9" cy="408.7" r="0.94"/><circle cx="508.8" cy="410.7" r="0.94"/><circle cx="510.0" cy="408.6" r="0.92"/><circle cx="509.9" cy="410.6" r="0.87"/><circle cx="511.3" cy="408.7" r="0.87"/><circle cx="511.5" cy="409.8" r="1.00"/><circle cx="512.4" cy="408.3" r="0.97"/><circle cx="512.4" cy="410.0" r="1.04"/><circle cx="513.8" cy="408.0" r="0.91"/><circle cx="514.1" cy="410.1" r="1.11"/><circle cx="515.0" cy="408.4" r="0.96"/><circle cx="514.9" cy="410.1" r="1.13"/><circle cx="516.7" cy="408.5" r="0.87"/><circle cx="516.2" cy="410.6" r="0.97"/><circle cx="518.0" cy="408.1" r="0.98"/><circle cx="517.6" cy="410.1" r="1.06"/><circle cx="518.8" cy="407.8" r="1.01"/><circle cx="519.1" cy="410.3" r="1.05"/><circle cx="520.4" cy="407.8" r="0.83"/><circle cx="520.1" cy="410.9" r="0.84"/><circle cx="521.9" cy="408.2" r="0.96"/><circle cx="522.0" cy="410.4" r="1.14"/><circle cx="523.1" cy="408.1" r="0.99"/><circle cx="523.1" cy="411.0" r="1.09"/><circle cx="524.3" cy="407.8" r="0.89"/><circle cx="524.0" cy="411.1" r="1.00"/><circle cx="525.4" cy="407.5" r="0.96"/><circle cx="525.8" cy="411.1" r="0.99"/><circle cx="527.2" cy="408.4" r="1.02"/><circle cx="526.7" cy="411.1" r="0.92"/><circle cx="527.9" cy="408.1" r="0.88"/><circle cx="528.2" cy="410.9" r="0.86"/><circle cx="529.2" cy="407.8" r="0.96"/><circle cx="529.2" cy="410.6" r="0.89"/><circle cx="530.7" cy="408.1" r="0.85"/><circle cx="530.6" cy="411.2" r="0.96"/><circle cx="532.0" cy="408.4" r="1.11"/><circle cx="531.8" cy="410.9" r="1.14"/><circle cx="533.4" cy="407.6" r="1.06"/><circle cx="533.6" cy="411.4" r="0.85"/><circle cx="534.9" cy="408.1" r="1.11"/><circle cx="534.9" cy="410.7" r="0.98"/><circle cx="535.7" cy="408.2" r="0.89"/><circle cx="536.3" cy="410.7" r="0.85"/><circle cx="537.6" cy="407.8" r="0.92"/><circle cx="537.0" cy="410.6" r="0.95"/><circle cx="538.9" cy="408.1" r="0.90"/><circle cx="538.4" cy="410.1" r="1.14"/><circle cx="539.6" cy="408.0" r="1.11"/><circle cx="539.7" cy="410.9" r="1.01"/><circle cx="541.5" cy="408.2" r="0.95"/><circle cx="541.5" cy="410.3" r="1.13"/><circle cx="542.7" cy="408.3" r="1.04"/><circle cx="542.6" cy="410.8" r="0.81"/><circle cx="543.5" cy="408.9" r="0.87"/><circle cx="543.5" cy="410.6" r="0.99"/><circle cx="545.4" cy="408.5" r="0.95"/><circle cx="544.9" cy="410.0" r="0.95"/><circle cx="546.7" cy="408.6" r="1.01"/><circle cx="546.1" cy="410.0" r="0.91"/></g>
<circle cx="554.0" cy="409.38" r="1.4" fill="#ff0052"/>
<path d="M402.10,425.56C402.10,424.84 402.90,423.96 403.30,423.39C403.70,422.81 404.10,422.50 404.50,422.10C404.90,421.70 405.30,421.29 405.70,420.98C406.10,420.66 406.50,420.51 406.90,420.21C407.30,419.90 407.70,419.13 408.10,419.17C408.50,419.20 408.90,420.04 409.30,420.42C409.70,420.80 410.10,421.07 410.50,421.45C410.90,421.82 411.30,422.49 411.70,422.66C412.10,422.84 412.50,422.57 412.90,422.51C413.30,422.44 413.70,422.42 414.10,422.26C414.50,422.10 414.90,421.77 415.30,421.56C415.70,421.36 416.10,421.07 416.50,421.05C416.90,421.02 417.30,421.17 417.70,421.42C418.10,421.67 418.50,422.32 418.90,422.57C419.30,422.82 419.70,422.75 420.10,422.92C420.50,423.09 420.90,423.40 421.30,423.61C421.70,423.83 422.10,424.15 422.50,424.21C422.90,424.28 423.30,424.00 423.70,423.99C424.10,423.98 424.50,424.19 424.90,424.13C425.30,424.06 425.70,423.66 426.10,423.62C426.50,423.58 426.90,423.87 427.30,423.88C427.70,423.89 428.10,423.62 428.50,423.68C428.90,423.74 429.30,424.15 429.70,424.23C430.10,424.31 430.50,424.24 430.90,424.17C431.30,424.11 431.70,423.91 432.10,423.83C432.50,423.75 432.90,423.67 433.30,423.67C433.70,423.68 434.10,423.84 434.50,423.85C434.90,423.86 435.30,423.77 435.70,423.75C436.10,423.73 436.50,423.72 436.90,423.73C437.30,423.75 437.70,423.77 438.10,423.82C438.50,423.88 438.90,424.01 439.30,424.05C439.70,424.09 440.10,424.06 440.50,424.05C440.90,424.04 441.30,424.00 441.70,423.99C442.10,423.98 442.50,424.01 442.90,423.98C443.30,423.95 443.70,423.86 444.10,423.80C444.50,423.74 444.90,423.61 445.30,423.60C445.70,423.60 446.10,423.70 446.50,423.77C446.90,423.84 447.30,424.03 447.70,424.03C448.10,424.02 448.50,423.75 448.90,423.73C449.30,423.72 449.70,423.99 450.10,423.94C450.50,423.90 450.90,423.47 451.30,423.46C451.70,423.44 452.10,423.85 452.50,423.84C452.90,423.82 453.30,423.40 453.70,423.36C454.10,423.32 454.50,423.57 454.90,423.61C455.30,423.65 455.70,423.58 456.10,423.62C456.50,423.66 456.90,423.85 457.30,423.85C457.70,423.86 458.10,423.66 458.50,423.62C458.90,423.58 459.30,423.59 459.70,423.64C460.10,423.68 460.50,423.94 460.90,423.91C461.30,423.87 461.70,423.46 462.10,423.44C462.50,423.43 462.90,423.73 463.30,423.80C463.70,423.87 464.10,423.88 464.50,423.85C464.90,423.81 465.30,423.64 465.70,423.59C466.10,423.55 466.50,423.54 466.90,423.57C467.30,423.61 467.70,423.72 468.10,423.82C468.50,423.91 468.90,424.08 469.30,424.14C469.70,424.20 470.10,424.14 470.50,424.16C470.90,424.18 471.30,424.33 471.70,424.23C472.10,424.14 472.50,423.65 472.90,423.59C473.30,423.54 473.70,423.82 474.10,423.92C474.50,424.03 474.90,424.21 475.30,424.23C475.70,424.25 476.10,424.13 476.50,424.05C476.90,423.97 477.30,423.74 477.70,423.76C478.10,423.78 478.50,424.20 478.90,424.18C479.30,424.17 479.70,423.69 480.10,423.67C480.50,423.65 480.90,424.08 481.30,424.07C481.70,424.06 482.10,423.65 482.50,423.61C482.90,423.57 483.30,423.77 483.70,423.83C484.10,423.88 484.50,423.87 484.90,423.94C485.30,424.01 485.70,424.22 486.10,424.24C486.50,424.27 486.90,424.16 487.30,424.09C487.70,424.02 488.10,423.79 488.50,423.81C488.90,423.83 489.30,424.20 489.70,424.20C490.10,424.21 490.50,423.89 490.90,423.82C491.30,423.75 491.70,423.74 492.10,423.78C492.50,423.83 492.90,424.11 493.30,424.09C493.70,424.06 494.10,423.74 494.50,423.65C494.90,423.55 495.30,423.56 495.70,423.53C496.10,423.50 496.50,423.47 496.90,423.45C497.30,423.42 497.70,423.38 498.10,423.38C498.50,423.38 498.90,423.41 499.30,423.44C499.70,423.48 500.10,423.62 500.50,423.60C500.90,423.57 501.30,423.36 501.70,423.28C502.10,423.20 502.50,423.13 502.90,423.14C503.30,423.15 503.70,423.27 504.10,423.34C504.50,423.41 504.90,423.52 505.30,423.57C505.70,423.62 506.10,423.69 506.50,423.64C506.90,423.58 507.30,423.31 507.70,423.22C508.10,423.13 508.50,423.09 508.90,423.08C509.30,423.07 509.70,423.09 510.10,423.15C510.50,423.21 510.90,423.36 511.30,423.44C511.70,423.52 512.10,423.57 512.50,423.61C512.90,423.65 513.30,423.68 513.70,423.67C514.10,423.66 514.50,423.62 514.90,423.55C515.30,423.48 515.70,423.30 516.10,423.26C516.50,423.21 516.90,423.20 517.30,423.28C517.70,423.37 518.10,423.71 518.50,423.77C518.90,423.82 519.30,423.57 519.70,423.60C520.10,423.64 520.50,423.98 520.90,424.00C521.30,424.02 521.70,423.76 522.10,423.72C522.50,423.69 522.90,423.72 523.30,423.77C523.70,423.83 524.10,423.97 524.50,424.06C524.90,424.14 525.30,424.27 525.70,424.28C526.10,424.30 526.50,424.15 526.90,424.17C527.30,424.19 527.70,424.22 528.10,424.41C528.50,424.60 529.05,425.10 529.30,425.29C529.55,425.48 529.60,425.47 529.60,425.56C529.60,425.65 529.55,425.62 529.30,425.83C529.05,426.04 528.50,426.67 528.10,426.82C527.70,426.98 527.30,426.76 526.90,426.76C526.50,426.76 526.10,426.82 525.70,426.85C525.30,426.88 524.90,426.87 524.50,426.93C524.10,426.99 523.70,427.20 523.30,427.19C522.90,427.18 522.50,426.86 522.10,426.87C521.70,426.88 521.30,427.21 520.90,427.26C520.50,427.31 520.10,427.09 519.70,427.18C519.30,427.26 518.90,427.65 518.50,427.76C518.10,427.87 517.70,427.83 517.30,427.84C516.90,427.85 516.50,427.84 516.10,427.83C515.70,427.82 515.30,427.79 514.90,427.77C514.50,427.76 514.10,427.73 513.70,427.77C513.30,427.81 512.90,428.05 512.50,427.99C512.10,427.94 511.70,427.54 511.30,427.46C510.90,427.39 510.50,427.49 510.10,427.56C509.70,427.62 509.30,427.83 508.90,427.87C508.50,427.90 508.10,427.75 507.70,427.74C507.30,427.74 506.90,427.87 506.50,427.85C506.10,427.83 505.70,427.69 505.30,427.64C504.90,427.58 504.50,427.54 504.10,427.52C503.70,427.50 503.30,427.49 502.90,427.50C502.50,427.51 502.10,427.55 501.70,427.57C501.30,427.59 500.90,427.64 500.50,427.61C500.10,427.58 499.70,427.38 499.30,427.39C498.90,427.40 498.50,427.67 498.10,427.67C497.70,427.68 497.30,427.50 496.90,427.41C496.50,427.33 496.10,427.23 495.70,427.18C495.30,427.12 494.90,427.07 494.50,427.10C494.10,427.12 493.70,427.28 493.30,427.34C492.90,427.41 492.50,427.50 492.10,427.48C491.70,427.45 491.30,427.23 490.90,427.20C490.50,427.18 490.10,427.36 489.70,427.35C489.30,427.33 488.90,427.10 488.50,427.10C488.10,427.10 487.70,427.32 487.30,427.34C486.90,427.36 486.50,427.22 486.10,427.23C485.70,427.24 485.30,427.41 484.90,427.40C484.50,427.38 484.10,427.23 483.70,427.13C483.30,427.04 482.90,426.81 482.50,426.83C482.10,426.85 481.70,427.22 481.30,427.24C480.90,427.26 480.50,426.95 480.10,426.93C479.70,426.91 479.30,427.07 478.90,427.13C478.50,427.19 478.10,427.26 477.70,427.30C477.30,427.33 476.90,427.37 476.50,427.33C476.10,427.28 475.70,427.06 475.30,427.04C474.90,427.03 474.50,427.22 474.10,427.23C473.70,427.24 473.30,427.17 472.90,427.11C472.50,427.06 472.10,426.82 471.70,426.89C471.30,426.95 470.90,427.42 470.50,427.50C470.10,427.58 469.70,427.45 469.30,427.36C468.90,427.27 468.50,426.89 468.10,426.94C467.70,426.99 467.30,427.58 466.90,427.65C466.50,427.72 466.10,427.39 465.70,427.35C465.30,427.32 464.90,427.45 464.50,427.41C464.10,427.38 463.70,427.17 463.30,427.15C462.90,427.13 462.50,427.18 462.10,427.28C461.70,427.38 461.30,427.75 460.90,427.74C460.50,427.73 460.10,427.26 459.70,427.21C459.30,427.15 458.90,427.29 458.50,427.38C458.10,427.48 457.70,427.81 457.30,427.78C456.90,427.75 456.50,427.25 456.10,427.20C455.70,427.16 455.30,427.54 454.90,427.53C454.50,427.53 454.10,427.21 453.70,427.18C453.30,427.15 452.90,427.29 452.50,427.34C452.10,427.40 451.70,427.51 451.30,427.51C450.90,427.52 450.50,427.39 450.10,427.38C449.70,427.37 449.30,427.43 448.90,427.43C448.50,427.44 448.10,427.41 447.70,427.39C447.30,427.38 446.90,427.43 446.50,427.36C446.10,427.28 445.70,427.00 445.30,426.94C444.90,426.87 444.50,426.97 444.10,426.96C443.70,426.95 443.30,426.89 442.90,426.88C442.50,426.87 442.10,426.90 441.70,426.91C441.30,426.92 440.90,426.86 440.50,426.93C440.10,426.99 439.70,427.31 439.30,427.30C438.90,427.29 438.50,426.84 438.10,426.87C437.70,426.90 437.30,427.42 436.90,427.47C436.50,427.51 436.10,427.14 435.70,427.14C435.30,427.15 434.90,427.44 434.50,427.50C434.10,427.56 433.70,427.60 433.30,427.51C432.90,427.41 432.50,426.95 432.10,426.93C431.70,426.90 431.30,427.28 430.90,427.34C430.50,427.40 430.10,427.35 429.70,427.27C429.30,427.19 428.90,426.91 428.50,426.84C428.10,426.77 427.70,426.76 427.30,426.87C426.90,426.97 426.50,427.43 426.10,427.46C425.70,427.49 425.30,427.12 424.90,427.06C424.50,426.99 424.10,427.04 423.70,427.06C423.30,427.09 422.90,427.17 422.50,427.21C422.10,427.25 421.70,427.20 421.30,427.30C420.90,427.40 420.50,427.60 420.10,427.83C419.70,428.06 419.30,428.38 418.90,428.67C418.50,428.96 418.10,429.33 417.70,429.56C417.30,429.78 416.90,430.05 416.50,430.03C416.10,430.01 415.70,429.57 415.30,429.45C414.90,429.32 414.50,429.36 414.10,429.27C413.70,429.18 413.30,429.03 412.90,428.92C412.50,428.81 412.10,428.40 411.70,428.60C411.30,428.80 410.90,429.71 410.50,430.12C410.10,430.52 409.70,430.79 409.30,431.03C408.90,431.27 408.50,431.48 408.10,431.55C407.70,431.63 407.30,431.70 406.90,431.49C406.50,431.28 406.10,430.69 405.70,430.28C405.30,429.87 404.90,429.46 404.50,429.03C404.10,428.60 403.70,428.28 403.30,427.70C402.90,427.13 402.10,426.28 402.10,425.56Z" fill="url(#g22)"/>
<g fill="url(#g22)"><circle cx="402.4" cy="424.3" r="0.83"/><circle cx="402.9" cy="426.2" r="0.87"/><circle cx="403.7" cy="423.5" r="0.88"/><circle cx="403.7" cy="427.1" r="1.01"/><circle cx="405.6" cy="421.9" r="0.90"/><circle cx="405.2" cy="428.9" r="0.89"/><circle cx="406.4" cy="421.1" r="1.05"/><circle cx="406.4" cy="430.2" r="0.98"/><circle cx="407.9" cy="420.5" r="1.06"/><circle cx="407.9" cy="430.9" r="0.92"/><circle cx="409.2" cy="421.0" r="0.94"/><circle cx="409.5" cy="429.9" r="0.86"/><circle cx="410.2" cy="422.1" r="1.12"/><circle cx="410.4" cy="429.2" r="0.99"/><circle cx="411.7" cy="423.8" r="1.11"/><circle cx="412.1" cy="428.0" r="0.87"/><circle cx="413.0" cy="423.4" r="1.06"/><circle cx="413.1" cy="428.3" r="1.04"/><circle cx="414.3" cy="422.5" r="0.86"/><circle cx="414.4" cy="428.6" r="1.12"/><circle cx="415.8" cy="422.4" r="0.84"/><circle cx="415.6" cy="428.4" r="1.04"/><circle cx="417.2" cy="421.7" r="0.89"/><circle cx="416.9" cy="428.6" r="1.12"/><circle cx="418.1" cy="422.5" r="1.08"/><circle cx="418.3" cy="428.0" r="0.97"/><circle cx="419.8" cy="423.4" r="0.88"/><circle cx="419.8" cy="427.6" r="1.11"/><circle cx="420.6" cy="424.5" r="1.14"/><circle cx="420.6" cy="427.2" r="0.99"/><circle cx="422.3" cy="424.9" r="0.85"/><circle cx="422.2" cy="426.2" r="0.93"/><circle cx="423.6" cy="424.8" r="0.86"/><circle cx="423.8" cy="425.8" r="0.83"/><circle cx="424.6" cy="424.9" r="0.88"/><circle cx="425.1" cy="425.9" r="0.97"/><circle cx="426.2" cy="425.0" r="1.00"/><circle cx="426.1" cy="426.9" r="0.92"/><circle cx="427.4" cy="425.2" r="1.07"/><circle cx="427.6" cy="426.4" r="0.93"/><circle cx="428.8" cy="425.1" r="0.94"/><circle cx="428.8" cy="426.0" r="1.03"/><circle cx="430.2" cy="424.9" r="0.95"/><circle cx="429.9" cy="426.5" r="0.99"/><circle cx="431.2" cy="424.2" r="0.94"/><circle cx="431.6" cy="426.2" r="1.04"/><circle cx="432.5" cy="424.3" r="0.96"/><circle cx="432.7" cy="426.1" r="0.93"/><circle cx="433.7" cy="424.3" r="0.99"/><circle cx="434.2" cy="426.5" r="0.93"/><circle cx="435.2" cy="424.2" r="0.92"/><circle cx="435.4" cy="426.4" r="1.04"/><circle cx="436.2" cy="424.4" r="1.02"/><circle cx="436.6" cy="426.2" r="1.02"/><circle cx="437.8" cy="424.9" r="1.07"/><circle cx="438.0" cy="426.5" r="1.15"/><circle cx="439.2" cy="424.9" r="1.09"/><circle cx="439.4" cy="426.5" r="1.13"/><circle cx="440.4" cy="425.1" r="0.95"/><circle cx="440.6" cy="426.4" r="1.11"/><circle cx="441.9" cy="425.2" r="0.96"/><circle cx="441.5" cy="426.6" r="0.94"/><circle cx="443.1" cy="424.3" r="0.92"/><circle cx="442.7" cy="426.0" r="0.94"/><circle cx="444.3" cy="424.8" r="1.09"/><circle cx="444.0" cy="426.1" r="0.81"/><circle cx="445.3" cy="424.9" r="1.11"/><circle cx="445.7" cy="426.2" r="0.97"/><circle cx="447.0" cy="424.1" r="1.03"/><circle cx="446.8" cy="426.2" r="0.83"/><circle cx="448.0" cy="424.9" r="0.90"/><circle cx="448.0" cy="426.8" r="1.08"/><circle cx="449.7" cy="425.0" r="1.08"/><circle cx="449.7" cy="426.8" r="1.01"/><circle cx="450.7" cy="424.1" r="1.01"/><circle cx="450.7" cy="426.7" r="0.99"/><circle cx="451.9" cy="424.2" r="0.97"/><circle cx="452.2" cy="426.1" r="1.09"/><circle cx="453.6" cy="424.7" r="0.94"/><circle cx="453.5" cy="426.8" r="0.98"/><circle cx="454.4" cy="424.1" r="0.92"/><circle cx="454.8" cy="426.9" r="0.86"/><circle cx="455.7" cy="423.9" r="1.05"/><circle cx="456.3" cy="426.4" r="1.06"/><circle cx="457.2" cy="424.2" r="1.05"/><circle cx="457.2" cy="427.2" r="1.04"/><circle cx="458.6" cy="424.1" r="0.95"/><circle cx="458.9" cy="426.7" r="0.85"/><circle cx="459.7" cy="424.8" r="1.11"/><circle cx="459.7" cy="426.7" r="1.01"/><circle cx="461.4" cy="424.0" r="0.87"/><circle cx="460.9" cy="426.3" r="1.04"/><circle cx="462.2" cy="424.2" r="1.00"/><circle cx="462.8" cy="427.1" r="0.99"/><circle cx="464.0" cy="424.5" r="1.03"/><circle cx="463.5" cy="426.9" r="0.90"/><circle cx="465.2" cy="424.5" r="1.03"/><circle cx="465.4" cy="426.5" r="0.96"/><circle cx="466.7" cy="424.2" r="0.85"/><circle cx="466.7" cy="426.4" r="1.11"/><circle cx="467.7" cy="424.5" r="0.85"/><circle cx="467.9" cy="426.3" r="0.94"/><circle cx="468.8" cy="424.9" r="1.14"/><circle cx="468.8" cy="426.7" r="1.09"/><circle cx="470.2" cy="424.6" r="0.90"/><circle cx="470.5" cy="427.0" r="0.89"/><circle cx="471.4" cy="425.2" r="1.12"/><circle cx="471.8" cy="426.5" r="0.95"/><circle cx="473.2" cy="424.6" r="1.14"/><circle cx="472.8" cy="426.1" r="0.89"/><circle cx="474.4" cy="424.9" r="0.94"/><circle cx="474.2" cy="426.9" r="0.86"/><circle cx="475.2" cy="424.8" r="1.03"/><circle cx="475.7" cy="426.4" r="0.88"/><circle cx="477.1" cy="424.9" r="0.96"/><circle cx="477.1" cy="426.2" r="0.96"/><circle cx="478.2" cy="424.9" r="0.99"/><circle cx="478.0" cy="426.7" r="1.02"/><circle cx="479.6" cy="424.6" r="0.99"/><circle cx="479.3" cy="426.0" r="1.04"/><circle cx="480.6" cy="425.1" r="0.93"/><circle cx="480.7" cy="426.3" r="1.07"/><circle cx="481.7" cy="425.1" r="1.05"/><circle cx="481.7" cy="426.7" r="1.05"/><circle cx="483.6" cy="424.3" r="0.98"/><circle cx="483.2" cy="426.4" r="0.94"/><circle cx="484.6" cy="424.5" r="1.07"/><circle cx="484.8" cy="426.3" r="1.15"/><circle cx="485.9" cy="424.7" r="1.06"/><circle cx="486.2" cy="426.9" r="0.95"/><circle cx="487.2" cy="425.1" r="1.00"/><circle cx="487.5" cy="426.2" r="1.00"/><circle cx="488.3" cy="424.5" r="1.07"/><circle cx="488.6" cy="426.8" r="0.90"/><circle cx="490.0" cy="424.6" r="0.81"/><circle cx="489.7" cy="426.5" r="0.89"/><circle cx="490.9" cy="425.2" r="1.06"/><circle cx="491.2" cy="426.4" r="0.88"/><circle cx="492.6" cy="424.9" r="1.07"/><circle cx="492.2" cy="426.5" r="1.01"/><circle cx="493.5" cy="424.5" r="1.03"/><circle cx="494.0" cy="426.6" r="0.85"/><circle cx="495.1" cy="425.0" r="1.12"/><circle cx="495.1" cy="426.4" r="1.06"/><circle cx="496.5" cy="424.4" r="1.04"/><circle cx="496.6" cy="427.1" r="0.88"/><circle cx="497.9" cy="424.0" r="0.95"/><circle cx="497.4" cy="426.4" r="0.92"/><circle cx="498.7" cy="424.7" r="0.97"/><circle cx="498.6" cy="426.8" r="1.06"/><circle cx="500.3" cy="424.5" r="0.94"/><circle cx="500.0" cy="426.3" r="0.97"/><circle cx="501.4" cy="424.5" r="1.10"/><circle cx="501.4" cy="426.8" r="1.13"/><circle cx="502.7" cy="423.7" r="0.85"/><circle cx="503.0" cy="427.3" r="1.09"/><circle cx="503.8" cy="424.4" r="0.88"/><circle cx="504.1" cy="426.9" r="1.03"/><circle cx="505.2" cy="424.0" r="1.05"/><circle cx="505.1" cy="427.3" r="0.95"/><circle cx="506.9" cy="423.7" r="0.86"/><circle cx="506.7" cy="426.8" r="0.95"/><circle cx="508.1" cy="424.1" r="0.85"/><circle cx="507.9" cy="426.8" r="1.00"/><circle cx="509.5" cy="424.0" r="0.86"/><circle cx="509.6" cy="426.8" r="0.85"/><circle cx="510.4" cy="423.9" r="0.88"/><circle cx="510.3" cy="427.4" r="1.07"/><circle cx="512.1" cy="424.2" r="1.05"/><circle cx="511.6" cy="426.8" r="0.95"/><circle cx="513.0" cy="423.8" r="1.10"/><circle cx="513.5" cy="426.5" r="1.09"/><circle cx="514.7" cy="424.4" r="0.95"/><circle cx="514.2" cy="427.0" r="0.89"/><circle cx="515.6" cy="424.5" r="0.99"/><circle cx="515.6" cy="427.1" r="1.02"/><circle cx="517.0" cy="424.8" r="1.11"/><circle cx="517.0" cy="426.4" r="1.00"/><circle cx="518.4" cy="424.7" r="1.05"/><circle cx="518.6" cy="427.2" r="0.89"/><circle cx="519.8" cy="424.8" r="0.92"/><circle cx="519.8" cy="426.4" r="0.96"/><circle cx="521.0" cy="425.1" r="1.01"/><circle cx="520.9" cy="426.2" r="0.84"/><circle cx="522.4" cy="424.6" r="0.99"/><circle cx="522.4" cy="426.6" r="1.11"/><circle cx="523.9" cy="424.3" r="0.84"/><circle cx="523.8" cy="426.4" r="1.01"/><circle cx="524.7" cy="424.9" r="0.95"/><circle cx="525.1" cy="426.6" r="1.05"/><circle cx="526.5" cy="425.1" r="0.98"/><circle cx="526.1" cy="426.3" r="0.81"/><circle cx="527.3" cy="425.7" r="1.07"/><circle cx="527.3" cy="426.2" r="1.05"/></g>
<path d="M418.00,441.74C418.00,441.10 418.67,440.33 419.00,439.74C419.33,439.14 419.67,438.70 420.00,438.15C420.33,437.60 420.67,436.97 421.00,436.45C421.33,435.93 421.67,435.25 422.00,435.04C422.33,434.83 422.67,434.63 423.00,435.20C423.33,435.78 423.67,437.79 424.00,438.50C424.33,439.21 424.67,439.33 425.00,439.46C425.33,439.59 425.67,439.32 426.00,439.30C426.33,439.27 426.67,439.34 427.00,439.30C427.33,439.26 427.67,439.09 428.00,439.05C428.33,439.01 428.67,439.05 429.00,439.07C429.33,439.09 429.67,439.17 430.00,439.18C430.33,439.19 430.67,439.13 431.00,439.14C431.33,439.15 431.67,439.23 432.00,439.23C432.33,439.22 432.67,439.06 433.00,439.09C433.33,439.12 433.67,439.34 434.00,439.38C434.33,439.43 434.67,439.36 435.00,439.36C435.33,439.35 435.67,439.27 436.00,439.35C436.33,439.43 436.67,439.77 437.00,439.84C437.33,439.91 437.67,439.69 438.00,439.77C438.33,439.84 438.67,440.18 439.00,440.29C439.33,440.39 439.67,440.24 440.00,440.40C440.33,440.55 440.77,441.02 441.00,441.24C441.23,441.46 441.40,441.57 441.40,441.74C441.40,441.91 441.23,442.05 441.00,442.24C440.77,442.43 440.33,442.70 440.00,442.88C439.67,443.05 439.33,443.19 439.00,443.28C438.67,443.36 438.33,443.29 438.00,443.40C437.67,443.51 437.33,443.87 437.00,443.95C436.67,444.03 436.33,443.83 436.00,443.87C435.67,443.92 435.33,444.14 435.00,444.21C434.67,444.28 434.33,444.28 434.00,444.29C433.67,444.30 433.33,444.23 433.00,444.26C432.67,444.29 432.33,444.44 432.00,444.46C431.67,444.47 431.33,444.34 431.00,444.36C430.67,444.38 430.33,444.55 430.00,444.55C429.67,444.55 429.33,444.42 429.00,444.36C428.67,444.30 428.33,444.22 428.00,444.19C427.67,444.16 427.33,444.19 427.00,444.18C426.67,444.17 426.33,444.14 426.00,444.11C425.67,444.07 425.33,443.79 425.00,443.96C424.67,444.13 424.33,444.38 424.00,445.11C423.67,445.83 423.33,447.75 423.00,448.31C422.67,448.87 422.33,448.64 422.00,448.47C421.67,448.31 421.33,447.83 421.00,447.32C420.67,446.82 420.33,446.06 420.00,445.43C419.67,444.81 419.33,444.19 419.00,443.57C418.67,442.96 418.00,442.38 418.00,441.74Z" fill="url(#g23)"/>
<g fill="url(#g23)"><circle cx="418.3" cy="440.8" r="1.13"/><circle cx="418.7" cy="442.9" r="0.82"/><circle cx="420.0" cy="439.6" r="1.05"/><circle cx="420.0" cy="443.8" r="1.13"/><circle cx="421.1" cy="437.8" r="1.07"/><circle cx="421.0" cy="446.1" r="0.94"/><circle cx="421.9" cy="435.9" r="1.12"/><circle cx="421.7" cy="448.2" r="0.86"/><circle cx="423.3" cy="435.6" r="0.89"/><circle cx="422.9" cy="447.0" r="1.00"/><circle cx="424.3" cy="439.0" r="0.84"/><circle cx="423.9" cy="444.3" r="1.14"/><circle cx="425.1" cy="439.6" r="0.95"/><circle cx="425.3" cy="443.1" r="1.09"/><circle cx="426.1" cy="440.2" r="0.84"/><circle cx="426.3" cy="443.3" r="0.87"/><circle cx="427.7" cy="440.0" r="0.88"/><circle cx="427.1" cy="443.7" r="0.80"/><circle cx="428.5" cy="440.3" r="0.81"/><circle cx="428.6" cy="443.6" r="0.96"/><circle cx="429.8" cy="439.3" r="0.88"/><circle cx="429.9" cy="444.0" r="1.08"/><circle cx="430.7" cy="439.8" r="0.93"/><circle cx="430.5" cy="443.3" r="1.08"/><circle cx="431.8" cy="439.3" r="0.96"/><circle cx="431.5" cy="443.6" r="0.92"/><circle cx="432.6" cy="440.0" r="1.11"/><circle cx="433.1" cy="443.4" r="1.01"/><circle cx="434.3" cy="439.5" r="1.01"/><circle cx="433.9" cy="443.7" r="1.00"/><circle cx="435.2" cy="439.9" r="1.06"/><circle cx="435.3" cy="443.3" r="0.93"/><circle cx="435.9" cy="440.1" r="0.88"/><circle cx="436.0" cy="443.2" r="0.86"/><circle cx="437.2" cy="440.0" r="0.93"/><circle cx="437.3" cy="442.9" r="0.98"/><circle cx="438.6" cy="440.7" r="0.99"/><circle cx="438.3" cy="442.4" r="0.98"/><circle cx="439.2" cy="441.2" r="0.87"/><circle cx="439.4" cy="442.6" r="0.81"/></g>
<circle cx="422.3" cy="436.0" r="1.25" fill="#6f62e6"/>
<circle cx="422.9" cy="437.3" r="1.1" fill="#8a4bdc"/>
<circle cx="422.3" cy="447.4" r="1.25" fill="#6f62e6"/>
<circle cx="422.9" cy="446.1" r="1.1" fill="#8a4bdc"/>
<path d="M418.00,457.92C418.00,457.27 418.67,456.69 419.00,456.10C419.33,455.50 419.67,454.95 420.00,454.36C420.33,453.77 420.67,453.10 421.00,452.55C421.33,452.00 421.67,451.24 422.00,451.06C422.33,450.89 422.67,450.91 423.00,451.50C423.33,452.09 423.67,453.92 424.00,454.62C424.33,455.32 424.67,455.56 425.00,455.69C425.33,455.82 425.67,455.40 426.00,455.38C426.33,455.36 426.67,455.55 427.00,455.59C427.33,455.62 427.67,455.62 428.00,455.58C428.33,455.54 428.67,455.40 429.00,455.36C429.33,455.31 429.67,455.27 430.00,455.30C430.33,455.34 430.67,455.50 431.00,455.57C431.33,455.64 431.67,455.64 432.00,455.70C432.33,455.76 432.67,455.87 433.00,455.94C433.33,456.00 433.67,455.96 434.00,456.08C434.33,456.21 434.67,456.54 435.00,456.70C435.33,456.85 435.72,456.81 436.00,457.01C436.28,457.21 436.70,457.63 436.70,457.92C436.70,458.21 436.28,458.51 436.00,458.75C435.72,459.00 435.33,459.28 435.00,459.39C434.67,459.51 434.33,459.33 434.00,459.44C433.67,459.55 433.33,459.94 433.00,460.05C432.67,460.15 432.33,460.04 432.00,460.06C431.67,460.08 431.33,460.08 431.00,460.18C430.67,460.27 430.33,460.55 430.00,460.62C429.67,460.68 429.33,460.62 429.00,460.58C428.67,460.55 428.33,460.42 428.00,460.41C427.67,460.40 427.33,460.57 427.00,460.53C426.67,460.48 426.33,460.19 426.00,460.11C425.67,460.04 425.33,459.92 425.00,460.08C424.67,460.23 424.33,460.38 424.00,461.07C423.67,461.76 423.33,463.64 423.00,464.23C422.67,464.81 422.33,464.69 422.00,464.56C421.67,464.42 421.33,463.94 421.00,463.44C420.67,462.94 420.33,462.12 420.00,461.55C419.67,460.98 419.33,460.61 419.00,460.00C418.67,459.39 418.00,458.57 418.00,457.92Z" fill="url(#g24)"/>
<g fill="url(#g24)"><circle cx="418.3" cy="457.5" r="0.83"/><circle cx="418.3" cy="458.5" r="1.02"/><circle cx="419.4" cy="455.9" r="1.09"/><circle cx="419.8" cy="460.5" r="0.94"/><circle cx="420.8" cy="453.9" r="1.04"/><circle cx="420.8" cy="462.6" r="1.02"/><circle cx="422.0" cy="451.8" r="0.99"/><circle cx="421.9" cy="464.0" r="0.97"/><circle cx="423.3" cy="452.5" r="1.01"/><circle cx="423.3" cy="463.9" r="0.97"/><circle cx="424.0" cy="456.1" r="0.99"/><circle cx="424.0" cy="460.1" r="0.95"/><circle cx="425.2" cy="456.2" r="0.89"/><circle cx="425.3" cy="459.8" r="0.84"/><circle cx="426.1" cy="456.7" r="0.87"/><circle cx="426.4" cy="459.5" r="0.97"/><circle cx="427.5" cy="456.7" r="1.01"/><circle cx="427.4" cy="460.2" r="0.82"/><circle cx="428.5" cy="456.4" r="1.05"/><circle cx="428.6" cy="460.1" r="0.85"/><circle cx="429.3" cy="456.3" r="0.94"/><circle cx="429.8" cy="459.6" r="1.05"/><circle cx="430.6" cy="456.8" r="1.11"/><circle cx="431.0" cy="459.9" r="0.87"/><circle cx="431.7" cy="456.3" r="0.83"/><circle cx="431.5" cy="460.0" r="0.97"/><circle cx="432.7" cy="457.0" r="0.99"/><circle cx="433.2" cy="459.5" r="1.00"/><circle cx="434.3" cy="456.9" r="1.10"/><circle cx="433.9" cy="459.1" r="0.82"/><circle cx="434.9" cy="457.8" r="0.95"/><circle cx="435.2" cy="458.2" r="1.10"/></g>
<circle cx="422.3" cy="452.3" r="1.25" fill="#6f62e6"/>
<circle cx="422.9" cy="453.6" r="1.1" fill="#8a4bdc"/>
<circle cx="422.3" cy="463.5" r="1.25" fill="#6f62e6"/>
<circle cx="422.9" cy="462.2" r="1.1" fill="#8a4bdc"/>
<path d="M417.90,474.10C417.90,473.42 418.57,472.69 418.90,472.13C419.23,471.57 419.57,471.26 419.90,470.74C420.23,470.22 420.57,469.62 420.90,469.01C421.23,468.40 421.57,467.35 421.90,467.08C422.23,466.81 422.57,466.79 422.90,467.39C423.23,468.00 423.57,470.01 423.90,470.70C424.23,471.40 424.57,471.43 424.90,471.57C425.23,471.71 425.57,471.54 425.90,471.55C426.23,471.55 426.57,471.64 426.90,471.61C427.23,471.58 427.57,471.39 427.90,471.37C428.23,471.34 428.57,471.39 428.90,471.47C429.23,471.54 429.57,471.73 429.90,471.83C430.23,471.92 430.57,471.89 430.90,472.04C431.23,472.20 431.57,472.58 431.90,472.77C432.23,472.96 432.57,472.97 432.90,473.19C433.23,473.41 433.90,473.74 433.90,474.10C433.90,474.46 433.23,475.12 432.90,475.33C432.57,475.55 432.23,475.30 431.90,475.40C431.57,475.50 431.23,475.78 430.90,475.95C430.57,476.11 430.23,476.28 429.90,476.40C429.57,476.53 429.23,476.65 428.90,476.69C428.57,476.73 428.23,476.65 427.90,476.64C427.57,476.64 427.23,476.67 426.90,476.66C426.57,476.66 426.23,476.62 425.90,476.62C425.57,476.62 425.23,476.49 424.90,476.64C424.57,476.79 424.23,476.80 423.90,477.51C423.57,478.21 423.23,480.25 422.90,480.86C422.57,481.47 422.23,481.41 421.90,481.18C421.57,480.95 421.23,480.05 420.90,479.46C420.57,478.87 420.23,478.19 419.90,477.65C419.57,477.11 419.23,476.82 418.90,476.23C418.57,475.63 417.90,474.78 417.90,474.10Z" fill="url(#g25)"/>
<g fill="url(#g25)"><circle cx="418.7" cy="473.6" r="1.15"/><circle cx="418.6" cy="474.6" r="1.06"/><circle cx="419.3" cy="472.0" r="0.98"/><circle cx="419.5" cy="476.6" r="0.92"/><circle cx="420.5" cy="469.6" r="0.88"/><circle cx="421.0" cy="478.4" r="1.07"/><circle cx="421.8" cy="467.7" r="0.87"/><circle cx="421.6" cy="480.0" r="1.08"/><circle cx="422.6" cy="468.4" r="1.01"/><circle cx="423.0" cy="480.0" r="1.06"/><circle cx="424.0" cy="471.8" r="1.00"/><circle cx="424.2" cy="476.9" r="0.83"/><circle cx="425.3" cy="472.2" r="0.95"/><circle cx="425.3" cy="476.1" r="1.04"/><circle cx="426.5" cy="472.4" r="0.81"/><circle cx="426.4" cy="475.3" r="1.07"/><circle cx="427.0" cy="472.1" r="1.01"/><circle cx="427.2" cy="475.7" r="0.92"/><circle cx="428.5" cy="472.6" r="1.08"/><circle cx="428.2" cy="476.1" r="1.06"/><circle cx="429.7" cy="472.3" r="1.01"/><circle cx="429.6" cy="475.6" r="1.14"/><circle cx="430.6" cy="472.9" r="1.01"/><circle cx="430.8" cy="475.9" r="0.91"/><circle cx="431.8" cy="473.4" r="1.14"/><circle cx="431.8" cy="475.0" r="0.94"/><circle cx="433.0" cy="474.0" r="1.13"/><circle cx="432.5" cy="474.8" r="0.90"/></g>
<circle cx="422.3" cy="468.2" r="1.25" fill="#6f62e6"/>
<circle cx="422.9" cy="469.5" r="1.1" fill="#8a4bdc"/>
<circle cx="422.3" cy="480.0" r="1.25" fill="#6f62e6"/>
<circle cx="422.9" cy="478.7" r="1.1" fill="#8a4bdc"/></svg>
</body></html>
